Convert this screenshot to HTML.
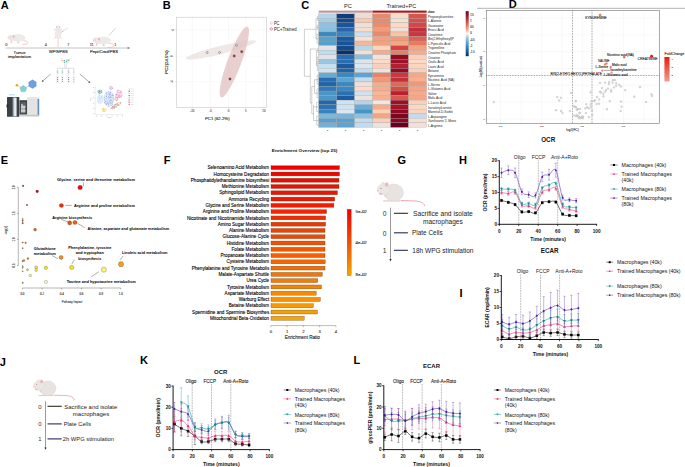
<!DOCTYPE html>
<html><head><meta charset="utf-8"><title>Figure</title>
<style>
html,body{margin:0;padding:0;background:#fff;width:685px;height:467px;overflow:hidden;}
svg{display:block;font-family:"Liberation Sans",sans-serif;}
</style></head><body>
<svg width="685" height="467" viewBox="0 0 685 467" font-family="'Liberation Sans', sans-serif">
<text x="0.8" y="5" font-size="11" font-weight="bold" dominant-baseline="central">A</text>
<line x1="5.8" y1="48" x2="129" y2="48" stroke="#c4c4c4" stroke-width="1"/>
<polygon points="130.2,48 127.6,46.8 127.6,49.2" fill="#888"/>
<text x="6.3" y="44.6" font-size="3.8" text-anchor="middle" fill="#444" stroke="#444" stroke-width="0.1" dominant-baseline="central">0</text>
<text x="45.8" y="44.6" font-size="3.8" text-anchor="middle" fill="#444" stroke="#444" stroke-width="0.1" dominant-baseline="central">4</text>
<text x="68.2" y="44.6" font-size="3.8" text-anchor="middle" fill="#444" stroke="#444" stroke-width="0.1" dominant-baseline="central">7</text>
<text x="91.7" y="44.6" font-size="3.8" text-anchor="middle" fill="#444" stroke="#444" stroke-width="0.1" dominant-baseline="central">11</text>
<text x="115.4" y="44.6" font-size="3.8" text-anchor="middle" fill="#444" stroke="#444" stroke-width="0.1" dominant-baseline="central">1</text>
<text x="19.6" y="52.2" font-size="4.3" text-anchor="middle" fill="#111" textLength="12.2" lengthAdjust="spacingAndGlyphs" stroke="#111" stroke-width="0.1" dominant-baseline="central">Tumor</text>
<text x="19.6" y="56.6" font-size="4.3" text-anchor="middle" fill="#111" textLength="23.2" lengthAdjust="spacingAndGlyphs" stroke="#111" stroke-width="0.1" dominant-baseline="central">implantation</text>
<text x="58.3" y="51.9" font-size="4.3" text-anchor="middle" fill="#111" textLength="18.7" lengthAdjust="spacingAndGlyphs" stroke="#111" stroke-width="0.1" dominant-baseline="central">WPG/PBS</text>
<text x="104" y="51.9" font-size="4.3" text-anchor="middle" fill="#111" textLength="28.2" lengthAdjust="spacingAndGlyphs" stroke="#111" stroke-width="0.1" dominant-baseline="central">PeptiCrad/PBS</text>
<g transform="translate(7.9 37.4) scale(1)">
<path d="M15.5,3.2 C19,3.4 21.2,4.6 19.8,6.0 C18.4,7.2 15.6,7.3 14.2,6.9" fill="none" stroke="#eba5a5" stroke-width="0.55"/>
<line x1="4.2" y1="2.6" x2="3" y2="4.9" stroke="#eba5a5" stroke-width="0.7"/>
<line x1="3" y1="4.9" x2="4.6" y2="5" stroke="#eba5a5" stroke-width="0.5"/>
<line x1="11" y1="3.2" x2="9.6" y2="5.5" stroke="#eba5a5" stroke-width="0.7"/>
<line x1="9.6" y1="5.5" x2="11.6" y2="5.6" stroke="#eba5a5" stroke-width="0.5"/>
<ellipse cx="10.2" cy="0.5" rx="7" ry="3.4" fill="#edebe9" stroke="#dcd8d4" stroke-width="0.25"/>
<ellipse cx="3.5" cy="0.3" rx="3.7" ry="2.5" fill="#edebe9" stroke="#dcd8d4" stroke-width="0.25" transform="rotate(12 3.5 0.3)"/>
<ellipse cx="5.7" cy="-1" rx="1" ry="1.2" fill="#f0b8b8" stroke="#e0a8a8" stroke-width="0.2"/>
<circle cx="2.4" cy="-0.2" r="0.38" fill="#d06060"/>
<circle cx="0.2" cy="0.5" r="0.45" fill="#eaa0a0"/>
</g>
<line x1="58.1" y1="37.5" x2="58.1" y2="47" stroke="#eba5a5" stroke-width="0.55"/>
<line x1="56" y1="30.5" x2="54.1" y2="29.3" stroke="#eba5a5" stroke-width="0.6"/>
<line x1="60.2" y1="30.5" x2="62" y2="29.3" stroke="#eba5a5" stroke-width="0.6"/>
<line x1="56" y1="37" x2="54.5" y2="38.6" stroke="#eba5a5" stroke-width="0.6"/>
<line x1="60.2" y1="37" x2="61.7" y2="38.6" stroke="#eba5a5" stroke-width="0.6"/>
<ellipse cx="58.1" cy="33.8" rx="2.9" ry="4.6" fill="#edebe9" stroke="#dcd8d4" stroke-width="0.25"/>
<ellipse cx="58.1" cy="28.4" rx="2.1" ry="2.3" fill="#edebe9" stroke="#dcd8d4" stroke-width="0.25"/>
<circle cx="56.6" cy="26.8" r="0.7" fill="#f0b8b8"/>
<circle cx="59.6" cy="26.8" r="0.7" fill="#f0b8b8"/>
<line x1="63" y1="31.1" x2="67.9" y2="27.9" stroke="#8a9a9a" stroke-width="0.3"/>
<line x1="61.2" y1="32.4" x2="63.3" y2="31" stroke="#3cc070" stroke-width="0.6"/>
<g transform="translate(93.1 40.1) scale(1.03)">
<path d="M15.5,3.2 C19,3.4 21.2,4.6 19.8,6.0 C18.4,7.2 15.6,7.3 14.2,6.9" fill="none" stroke="#eba5a5" stroke-width="0.55"/>
<line x1="4.2" y1="2.6" x2="3" y2="4.9" stroke="#eba5a5" stroke-width="0.7"/>
<line x1="3" y1="4.9" x2="4.6" y2="5" stroke="#eba5a5" stroke-width="0.5"/>
<line x1="11" y1="3.2" x2="9.6" y2="5.5" stroke="#eba5a5" stroke-width="0.7"/>
<line x1="9.6" y1="5.5" x2="11.6" y2="5.6" stroke="#eba5a5" stroke-width="0.5"/>
<ellipse cx="10.2" cy="0.5" rx="7" ry="3.4" fill="#edebe9" stroke="#dcd8d4" stroke-width="0.25"/>
<ellipse cx="3.5" cy="0.3" rx="3.7" ry="2.5" fill="#edebe9" stroke="#dcd8d4" stroke-width="0.25" transform="rotate(12 3.5 0.3)"/>
<ellipse cx="5.7" cy="-1" rx="1" ry="1.2" fill="#f0b8b8" stroke="#e0a8a8" stroke-width="0.2"/>
<circle cx="2.4" cy="-0.2" r="0.38" fill="#d06060"/>
<circle cx="0.2" cy="0.5" r="0.45" fill="#eaa0a0"/>
</g>
<line x1="108.7" y1="35.8" x2="115.4" y2="28.3" stroke="#7a8a9a" stroke-width="0.35"/>
<path d="M61,58.2 C61.5,61 63.2,62.8 64.6,63.6 L64.6,67.2 M70.2,58.2 C69.7,61 68,62.8 66.6,63.6 L66.6,67.2" fill="none" stroke="#b8bcc0" stroke-width="0.4"/>
<circle cx="62.9" cy="60.4" r="0.7" fill="#f2b070"/>
<circle cx="64.5" cy="60.7" r="0.7" fill="#4aa0e0"/>
<circle cx="66.6" cy="61.6" r="0.7" fill="#9a6ad0"/>
<circle cx="68.4" cy="60.2" r="0.7" fill="#5cc070"/>
<circle cx="64.8" cy="62.4" r="0.7" fill="#5cc070"/>
<circle cx="67" cy="60" r="0.7" fill="#70b8e8"/>
<line x1="65.6" y1="67.2" x2="65.6" y2="68.2" stroke="#aaa" stroke-width="0.35"/>
<line x1="57.3" y1="68.2" x2="73.9" y2="68.2" stroke="#b0b0b0" stroke-width="0.4"/>
<line x1="57.5" y1="68.2" x2="57.5" y2="70.1" stroke="#aaa" stroke-width="0.35"/>
<rect x="56.75" y="70.1" width="1.5" height="13.2" fill="#f3f6f9" stroke="#dde2e8" stroke-width="0.2"/>
<rect x="56.9" y="70.7" width="1.2" height="2.5" fill="#4aa0e0" fill-opacity="0.45"/>
<circle cx="57.5" cy="77.5" r="0.6" fill="#4aa0e0"/>
<circle cx="57.5" cy="79.4" r="0.6" fill="#4aa0e0"/>
<circle cx="57.5" cy="81.3" r="0.6" fill="#4aa0e0"/>
<line x1="62.4" y1="68.2" x2="62.4" y2="70.1" stroke="#aaa" stroke-width="0.35"/>
<rect x="61.65" y="70.1" width="1.5" height="13.2" fill="#f3f6f9" stroke="#dde2e8" stroke-width="0.2"/>
<rect x="61.8" y="70.7" width="1.2" height="2.5" fill="#5cc070" fill-opacity="0.45"/>
<circle cx="62.4" cy="77.5" r="0.6" fill="#5cc070"/>
<circle cx="62.4" cy="79.4" r="0.6" fill="#5cc070"/>
<circle cx="62.4" cy="81.3" r="0.6" fill="#5cc070"/>
<line x1="68.6" y1="68.2" x2="68.6" y2="70.1" stroke="#aaa" stroke-width="0.35"/>
<rect x="67.85" y="70.1" width="1.5" height="13.2" fill="#f3f6f9" stroke="#dde2e8" stroke-width="0.2"/>
<rect x="68" y="70.7" width="1.2" height="2.5" fill="#9a6ad0" fill-opacity="0.45"/>
<circle cx="68.6" cy="77.5" r="0.6" fill="#9a6ad0"/>
<circle cx="68.6" cy="79.4" r="0.6" fill="#9a6ad0"/>
<circle cx="68.6" cy="81.3" r="0.6" fill="#9a6ad0"/>
<line x1="73.8" y1="68.2" x2="73.8" y2="70.1" stroke="#aaa" stroke-width="0.35"/>
<rect x="73.05" y="70.1" width="1.5" height="13.2" fill="#f3f6f9" stroke="#dde2e8" stroke-width="0.2"/>
<rect x="73.2" y="70.7" width="1.2" height="2.5" fill="#f2b070" fill-opacity="0.45"/>
<circle cx="73.8" cy="77.5" r="0.6" fill="#f2b070"/>
<circle cx="73.8" cy="79.4" r="0.6" fill="#f2b070"/>
<circle cx="73.8" cy="81.3" r="0.6" fill="#f2b070"/>
<line x1="50.7" y1="74" x2="42.8" y2="81" stroke="#444" stroke-width="0.45"/>
<polygon points="41.8,82 42.4,79.9 43.8,81.3" fill="#444"/>
<line x1="79.8" y1="74" x2="89.3" y2="82" stroke="#444" stroke-width="0.45"/>
<polygon points="90.3,82.9 88.2,82.4 89.6,80.9" fill="#444"/>
<line x1="17" y1="85.2" x2="23.3" y2="88.7" stroke="#999" stroke-width="0.4"/>
<line x1="23.3" y1="88.7" x2="32.4" y2="84.2" stroke="#999" stroke-width="0.4"/>
<polygon points="23.3,85.3 26.72,87.79 25.42,91.81 21.18,91.81 19.88,87.79" fill="#86d0d3" stroke="#6ab8bc" stroke-width="0.3"/>
<polygon points="32.5,79.8 36.22,81.95 36.22,86.25 32.5,88.4 28.78,86.25 28.78,81.95" fill="#6f9fe0" stroke="#5a88cc" stroke-width="0.3"/>
<circle cx="16.9" cy="85.2" r="1.3" fill="#e8a030"/>
<rect x="9.2" y="94.2" width="5.8" height="1.2" fill="#bfe0f0"/>
<rect x="7" y="97" width="12.3" height="19.8" fill="#3b4046" rx="0.6"/>
<rect x="12.8" y="97.6" width="3.8" height="18.8" fill="#e8ecef"/>
<rect x="13.3" y="97.6" width="0.8" height="18.8" fill="#6b9ad0"/>
<rect x="6.5" y="104.5" width="2" height="3" fill="#2a2e33"/>
<rect x="19.5" y="100.2" width="7.8" height="14.4" fill="#3e4349"/>
<rect x="20.6" y="102.2" width="5.6" height="11.2" fill="#5a6066"/>
<rect x="21.4" y="104" width="1.2" height="8.5" fill="#e8eaec"/>
<rect x="23.4" y="105.5" width="1.2" height="7" fill="#e8eaec"/>
<rect x="21" y="106.5" width="4.6" height="0.8" fill="#f4f4f4"/>
<rect x="21" y="110.5" width="4.6" height="0.8" fill="#f4f4f4"/>
<rect x="27.3" y="97.5" width="11.8" height="18.7" fill="#e4e3e2" stroke="#cfcfcf" stroke-width="0.2"/>
<rect x="37.6" y="99" width="1.5" height="16.5" fill="#5a8ad0"/>
<rect x="19.3" y="114.8" width="19.8" height="1.6" fill="#c9c9c9"/>
<line x1="95.3" y1="86.3" x2="95.3" y2="114.6" stroke="#c8c8c8" stroke-width="0.3"/>
<line x1="95.3" y1="114.6" x2="123.2" y2="114.6" stroke="#c8c8c8" stroke-width="0.3"/>
<line x1="94.6" y1="87.5" x2="95.3" y2="87.5" stroke="#aaa" stroke-width="0.25"/>
<rect x="93" y="87.2" width="1" height="0.6" fill="#bbb"/>
<line x1="96.5" y1="114.6" x2="96.5" y2="115.3" stroke="#aaa" stroke-width="0.25"/>
<rect x="96" y="115.8" width="1" height="0.6" fill="#bbb"/>
<line x1="94.6" y1="92.7" x2="95.3" y2="92.7" stroke="#aaa" stroke-width="0.25"/>
<rect x="93" y="92.4" width="1" height="0.6" fill="#bbb"/>
<line x1="101.7" y1="114.6" x2="101.7" y2="115.3" stroke="#aaa" stroke-width="0.25"/>
<rect x="101.2" y="115.8" width="1" height="0.6" fill="#bbb"/>
<line x1="94.6" y1="97.9" x2="95.3" y2="97.9" stroke="#aaa" stroke-width="0.25"/>
<rect x="93" y="97.6" width="1" height="0.6" fill="#bbb"/>
<line x1="106.9" y1="114.6" x2="106.9" y2="115.3" stroke="#aaa" stroke-width="0.25"/>
<rect x="106.4" y="115.8" width="1" height="0.6" fill="#bbb"/>
<line x1="94.6" y1="103.1" x2="95.3" y2="103.1" stroke="#aaa" stroke-width="0.25"/>
<rect x="93" y="102.8" width="1" height="0.6" fill="#bbb"/>
<line x1="112.1" y1="114.6" x2="112.1" y2="115.3" stroke="#aaa" stroke-width="0.25"/>
<rect x="111.6" y="115.8" width="1" height="0.6" fill="#bbb"/>
<line x1="94.6" y1="108.3" x2="95.3" y2="108.3" stroke="#aaa" stroke-width="0.25"/>
<rect x="93" y="108" width="1" height="0.6" fill="#bbb"/>
<line x1="117.3" y1="114.6" x2="117.3" y2="115.3" stroke="#aaa" stroke-width="0.25"/>
<rect x="116.8" y="115.8" width="1" height="0.6" fill="#bbb"/>
<line x1="94.6" y1="113.5" x2="95.3" y2="113.5" stroke="#aaa" stroke-width="0.25"/>
<rect x="93" y="113.2" width="1" height="0.6" fill="#bbb"/>
<line x1="122.5" y1="114.6" x2="122.5" y2="115.3" stroke="#aaa" stroke-width="0.25"/>
<rect x="122" y="115.8" width="1" height="0.6" fill="#bbb"/>
<rect x="90.6" y="97.5" width="0.6" height="3.5" fill="#c4c4c4"/>
<rect x="107.5" y="117.3" width="3.5" height="0.6" fill="#c4c4c4"/>
<ellipse cx="100.2" cy="99.5" rx="3.1" ry="4.6" fill="#e6f2fb"/>
<circle cx="100.37" cy="102.88" r="0.4" fill="#a8d2f0" fill-opacity="0.8"/>
<circle cx="98.55" cy="102.11" r="0.4" fill="#a8d2f0" fill-opacity="0.8"/>
<circle cx="99.64" cy="98.66" r="0.4" fill="#a8d2f0" fill-opacity="0.8"/>
<circle cx="103.03" cy="99.85" r="0.4" fill="#a8d2f0" fill-opacity="0.8"/>
<circle cx="100.11" cy="101.72" r="0.4" fill="#a8d2f0" fill-opacity="0.8"/>
<circle cx="102.33" cy="99.41" r="0.4" fill="#a8d2f0" fill-opacity="0.8"/>
<circle cx="101.31" cy="96.78" r="0.4" fill="#a8d2f0" fill-opacity="0.8"/>
<circle cx="99.43" cy="98.13" r="0.4" fill="#a8d2f0" fill-opacity="0.8"/>
<circle cx="98.29" cy="96.29" r="0.4" fill="#a8d2f0" fill-opacity="0.8"/>
<circle cx="97.56" cy="98.93" r="0.4" fill="#a8d2f0" fill-opacity="0.8"/>
<circle cx="99.83" cy="98.48" r="0.4" fill="#a8d2f0" fill-opacity="0.8"/>
<circle cx="100.32" cy="95.97" r="0.4" fill="#a8d2f0" fill-opacity="0.8"/>
<circle cx="100.03" cy="100.27" r="0.4" fill="#a8d2f0" fill-opacity="0.8"/>
<circle cx="101.61" cy="97.13" r="0.4" fill="#a8d2f0" fill-opacity="0.8"/>
<circle cx="99.63" cy="95.27" r="0.4" fill="#a8d2f0" fill-opacity="0.8"/>
<circle cx="99.54" cy="95.2" r="0.4" fill="#a8d2f0" fill-opacity="0.8"/>
<circle cx="98.01" cy="102.02" r="0.4" fill="#a8d2f0" fill-opacity="0.8"/>
<circle cx="97.38" cy="101.02" r="0.4" fill="#a8d2f0" fill-opacity="0.8"/>
<circle cx="100.9" cy="98.51" r="0.4" fill="#a8d2f0" fill-opacity="0.8"/>
<circle cx="101.15" cy="101.12" r="0.4" fill="#a8d2f0" fill-opacity="0.8"/>
<circle cx="102.2" cy="98.85" r="0.4" fill="#a8d2f0" fill-opacity="0.8"/>
<circle cx="99.01" cy="97.7" r="0.4" fill="#a8d2f0" fill-opacity="0.8"/>
<circle cx="98.28" cy="99.37" r="0.4" fill="#a8d2f0" fill-opacity="0.8"/>
<circle cx="98.8" cy="102.33" r="0.4" fill="#a8d2f0" fill-opacity="0.8"/>
<circle cx="97.66" cy="97.29" r="0.4" fill="#a8d2f0" fill-opacity="0.8"/>
<circle cx="98.96" cy="95.47" r="0.4" fill="#a8d2f0" fill-opacity="0.8"/>
<circle cx="102.11" cy="95.91" r="0.4" fill="#a8d2f0" fill-opacity="0.8"/>
<circle cx="99.61" cy="97.86" r="0.4" fill="#a8d2f0" fill-opacity="0.8"/>
<circle cx="102.15" cy="96.03" r="0.4" fill="#a8d2f0" fill-opacity="0.8"/>
<circle cx="102.13" cy="97.54" r="0.4" fill="#a8d2f0" fill-opacity="0.8"/>
<circle cx="99.88" cy="97.44" r="0.4" fill="#a8d2f0" fill-opacity="0.8"/>
<circle cx="101.35" cy="96.46" r="0.4" fill="#a8d2f0" fill-opacity="0.8"/>
<circle cx="100.03" cy="100.63" r="0.4" fill="#a8d2f0" fill-opacity="0.8"/>
<circle cx="102.07" cy="95.87" r="0.4" fill="#a8d2f0" fill-opacity="0.8"/>
<ellipse cx="100" cy="91.7" rx="2.3" ry="2.3" fill="#c4e4da"/>
<circle cx="101.75" cy="92.79" r="0.4" fill="#2f9a7e" fill-opacity="0.8"/>
<circle cx="99.24" cy="92.18" r="0.4" fill="#2f9a7e" fill-opacity="0.8"/>
<circle cx="99.45" cy="93.64" r="0.4" fill="#2f9a7e" fill-opacity="0.8"/>
<circle cx="100.34" cy="91.35" r="0.4" fill="#2f9a7e" fill-opacity="0.8"/>
<circle cx="99.63" cy="91.38" r="0.4" fill="#2f9a7e" fill-opacity="0.8"/>
<circle cx="99.74" cy="90.4" r="0.4" fill="#2f9a7e" fill-opacity="0.8"/>
<circle cx="101.67" cy="90.15" r="0.4" fill="#2f9a7e" fill-opacity="0.8"/>
<circle cx="97.7" cy="91.62" r="0.4" fill="#2f9a7e" fill-opacity="0.8"/>
<circle cx="99.77" cy="92.29" r="0.4" fill="#2f9a7e" fill-opacity="0.8"/>
<circle cx="99.67" cy="91.46" r="0.4" fill="#2f9a7e" fill-opacity="0.8"/>
<circle cx="100.48" cy="93.09" r="0.4" fill="#2f9a7e" fill-opacity="0.8"/>
<circle cx="99.3" cy="91.12" r="0.4" fill="#2f9a7e" fill-opacity="0.8"/>
<circle cx="102.07" cy="92.26" r="0.4" fill="#2f9a7e" fill-opacity="0.8"/>
<circle cx="99.12" cy="93.77" r="0.4" fill="#2f9a7e" fill-opacity="0.8"/>
<circle cx="101.13" cy="90.85" r="0.4" fill="#2f9a7e" fill-opacity="0.8"/>
<circle cx="98.39" cy="92.11" r="0.4" fill="#2f9a7e" fill-opacity="0.8"/>
<circle cx="98.9" cy="90.31" r="0.4" fill="#2f9a7e" fill-opacity="0.8"/>
<circle cx="98.31" cy="91.04" r="0.4" fill="#2f9a7e" fill-opacity="0.8"/>
<circle cx="101.53" cy="91.1" r="0.4" fill="#2f9a7e" fill-opacity="0.8"/>
<circle cx="98.23" cy="92.52" r="0.4" fill="#2f9a7e" fill-opacity="0.8"/>
<ellipse cx="104.2" cy="110" rx="2.5" ry="2.2" fill="#fbefc4"/>
<circle cx="104.31" cy="111.2" r="0.4" fill="#f0c840" fill-opacity="0.8"/>
<circle cx="105.99" cy="109.78" r="0.4" fill="#f0c840" fill-opacity="0.8"/>
<circle cx="103.94" cy="109.93" r="0.4" fill="#f0c840" fill-opacity="0.8"/>
<circle cx="102.56" cy="110.85" r="0.4" fill="#f0c840" fill-opacity="0.8"/>
<circle cx="106.15" cy="110.22" r="0.4" fill="#f0c840" fill-opacity="0.8"/>
<circle cx="103.79" cy="109.6" r="0.4" fill="#f0c840" fill-opacity="0.8"/>
<circle cx="103.01" cy="108.92" r="0.4" fill="#f0c840" fill-opacity="0.8"/>
<circle cx="103.56" cy="108.82" r="0.4" fill="#f0c840" fill-opacity="0.8"/>
<circle cx="103.63" cy="108.18" r="0.4" fill="#f0c840" fill-opacity="0.8"/>
<circle cx="104.81" cy="110.08" r="0.4" fill="#f0c840" fill-opacity="0.8"/>
<circle cx="103.1" cy="108.07" r="0.4" fill="#f0c840" fill-opacity="0.8"/>
<circle cx="104.19" cy="111.49" r="0.4" fill="#f0c840" fill-opacity="0.8"/>
<circle cx="103.02" cy="109.32" r="0.4" fill="#f0c840" fill-opacity="0.8"/>
<circle cx="103.28" cy="110.93" r="0.4" fill="#f0c840" fill-opacity="0.8"/>
<circle cx="102.89" cy="111.24" r="0.4" fill="#f0c840" fill-opacity="0.8"/>
<circle cx="103.72" cy="111.28" r="0.4" fill="#f0c840" fill-opacity="0.8"/>
<circle cx="104.26" cy="109.64" r="0.4" fill="#f0c840" fill-opacity="0.8"/>
<circle cx="102.26" cy="109.2" r="0.4" fill="#f0c840" fill-opacity="0.8"/>
<ellipse cx="108.9" cy="99" rx="5.4" ry="8" fill="#e2e9f6"/>
<circle cx="107.96" cy="102.51" r="0.4" fill="#7a98d4" fill-opacity="0.8"/>
<circle cx="109.78" cy="95.31" r="0.4" fill="#7a98d4" fill-opacity="0.8"/>
<circle cx="110.27" cy="103.87" r="0.4" fill="#7a98d4" fill-opacity="0.8"/>
<circle cx="108.35" cy="96.58" r="0.4" fill="#7a98d4" fill-opacity="0.8"/>
<circle cx="107.54" cy="103.16" r="0.4" fill="#7a98d4" fill-opacity="0.8"/>
<circle cx="110.69" cy="94.42" r="0.4" fill="#7a98d4" fill-opacity="0.8"/>
<circle cx="110.27" cy="96.41" r="0.4" fill="#7a98d4" fill-opacity="0.8"/>
<circle cx="106.64" cy="104.52" r="0.4" fill="#7a98d4" fill-opacity="0.8"/>
<circle cx="111.62" cy="95.44" r="0.4" fill="#7a98d4" fill-opacity="0.8"/>
<circle cx="109.19" cy="101.75" r="0.4" fill="#7a98d4" fill-opacity="0.8"/>
<circle cx="106.58" cy="98.35" r="0.4" fill="#7a98d4" fill-opacity="0.8"/>
<circle cx="110.63" cy="92.14" r="0.4" fill="#7a98d4" fill-opacity="0.8"/>
<circle cx="110.06" cy="102.86" r="0.4" fill="#7a98d4" fill-opacity="0.8"/>
<circle cx="110.42" cy="93" r="0.4" fill="#7a98d4" fill-opacity="0.8"/>
<circle cx="110" cy="94.59" r="0.4" fill="#7a98d4" fill-opacity="0.8"/>
<circle cx="110.9" cy="102.15" r="0.4" fill="#7a98d4" fill-opacity="0.8"/>
<circle cx="109.67" cy="94.99" r="0.4" fill="#7a98d4" fill-opacity="0.8"/>
<circle cx="106.92" cy="103.25" r="0.4" fill="#7a98d4" fill-opacity="0.8"/>
<circle cx="105.87" cy="101.47" r="0.4" fill="#7a98d4" fill-opacity="0.8"/>
<circle cx="110.77" cy="97.49" r="0.4" fill="#7a98d4" fill-opacity="0.8"/>
<circle cx="114.14" cy="99.23" r="0.4" fill="#7a98d4" fill-opacity="0.8"/>
<circle cx="112.81" cy="93.56" r="0.4" fill="#7a98d4" fill-opacity="0.8"/>
<circle cx="104.08" cy="102.13" r="0.4" fill="#7a98d4" fill-opacity="0.8"/>
<circle cx="111.18" cy="97.34" r="0.4" fill="#7a98d4" fill-opacity="0.8"/>
<circle cx="108.76" cy="91.69" r="0.4" fill="#7a98d4" fill-opacity="0.8"/>
<circle cx="106.88" cy="94.08" r="0.4" fill="#7a98d4" fill-opacity="0.8"/>
<circle cx="108.13" cy="103.53" r="0.4" fill="#7a98d4" fill-opacity="0.8"/>
<circle cx="109.1" cy="101.07" r="0.4" fill="#7a98d4" fill-opacity="0.8"/>
<circle cx="106.44" cy="96.73" r="0.4" fill="#7a98d4" fill-opacity="0.8"/>
<circle cx="109.32" cy="97.42" r="0.4" fill="#7a98d4" fill-opacity="0.8"/>
<circle cx="112.6" cy="95.21" r="0.4" fill="#7a98d4" fill-opacity="0.8"/>
<circle cx="113.44" cy="95.51" r="0.4" fill="#7a98d4" fill-opacity="0.8"/>
<circle cx="112.21" cy="95.42" r="0.4" fill="#7a98d4" fill-opacity="0.8"/>
<circle cx="113.55" cy="99.57" r="0.4" fill="#7a98d4" fill-opacity="0.8"/>
<circle cx="110.29" cy="102.86" r="0.4" fill="#7a98d4" fill-opacity="0.8"/>
<circle cx="106.86" cy="94.05" r="0.4" fill="#7a98d4" fill-opacity="0.8"/>
<circle cx="104.42" cy="103" r="0.4" fill="#7a98d4" fill-opacity="0.8"/>
<circle cx="106.5" cy="95.97" r="0.4" fill="#7a98d4" fill-opacity="0.8"/>
<circle cx="108.82" cy="106.43" r="0.4" fill="#7a98d4" fill-opacity="0.8"/>
<circle cx="104.17" cy="100.01" r="0.4" fill="#7a98d4" fill-opacity="0.8"/>
<circle cx="107.47" cy="101.85" r="0.4" fill="#7a98d4" fill-opacity="0.8"/>
<circle cx="104.13" cy="97.44" r="0.4" fill="#7a98d4" fill-opacity="0.8"/>
<circle cx="111.18" cy="105.27" r="0.4" fill="#7a98d4" fill-opacity="0.8"/>
<circle cx="113.17" cy="95.61" r="0.4" fill="#7a98d4" fill-opacity="0.8"/>
<circle cx="109.11" cy="98.38" r="0.4" fill="#7a98d4" fill-opacity="0.8"/>
<circle cx="105.44" cy="93.63" r="0.4" fill="#7a98d4" fill-opacity="0.8"/>
<circle cx="111.58" cy="100.29" r="0.4" fill="#7a98d4" fill-opacity="0.8"/>
<circle cx="108.44" cy="104.77" r="0.4" fill="#7a98d4" fill-opacity="0.8"/>
<circle cx="105.61" cy="101.56" r="0.4" fill="#7a98d4" fill-opacity="0.8"/>
<circle cx="108.94" cy="98.66" r="0.4" fill="#7a98d4" fill-opacity="0.8"/>
<circle cx="110.71" cy="99.96" r="0.4" fill="#7a98d4" fill-opacity="0.8"/>
<circle cx="109.9" cy="100.48" r="0.4" fill="#7a98d4" fill-opacity="0.8"/>
<circle cx="113.83" cy="97.83" r="0.4" fill="#7a98d4" fill-opacity="0.8"/>
<circle cx="112.18" cy="101.92" r="0.4" fill="#7a98d4" fill-opacity="0.8"/>
<circle cx="107.68" cy="103.11" r="0.4" fill="#7a98d4" fill-opacity="0.8"/>
<circle cx="106.32" cy="104.17" r="0.4" fill="#7a98d4" fill-opacity="0.8"/>
<circle cx="106.12" cy="96.51" r="0.4" fill="#7a98d4" fill-opacity="0.8"/>
<circle cx="110.02" cy="103.28" r="0.4" fill="#7a98d4" fill-opacity="0.8"/>
<circle cx="111.77" cy="103.18" r="0.4" fill="#7a98d4" fill-opacity="0.8"/>
<circle cx="108.19" cy="94.18" r="0.4" fill="#7a98d4" fill-opacity="0.8"/>
<circle cx="110.9" cy="100.63" r="0.4" fill="#7a98d4" fill-opacity="0.8"/>
<circle cx="105.96" cy="103.45" r="0.4" fill="#7a98d4" fill-opacity="0.8"/>
<circle cx="109.58" cy="94.17" r="0.4" fill="#7a98d4" fill-opacity="0.8"/>
<circle cx="110.25" cy="93.01" r="0.4" fill="#7a98d4" fill-opacity="0.8"/>
<circle cx="105.9" cy="101.03" r="0.4" fill="#7a98d4" fill-opacity="0.8"/>
<circle cx="104.37" cy="99.16" r="0.4" fill="#7a98d4" fill-opacity="0.8"/>
<circle cx="104.95" cy="102.19" r="0.4" fill="#7a98d4" fill-opacity="0.8"/>
<circle cx="106.31" cy="99.96" r="0.4" fill="#7a98d4" fill-opacity="0.8"/>
<circle cx="104.51" cy="97.51" r="0.4" fill="#7a98d4" fill-opacity="0.8"/>
<circle cx="112.07" cy="101.27" r="0.4" fill="#7a98d4" fill-opacity="0.8"/>
<circle cx="104.38" cy="102.37" r="0.4" fill="#7a98d4" fill-opacity="0.8"/>
<circle cx="111.94" cy="97.1" r="0.4" fill="#7a98d4" fill-opacity="0.8"/>
<circle cx="112.75" cy="94.74" r="0.4" fill="#7a98d4" fill-opacity="0.8"/>
<circle cx="108.62" cy="104.43" r="0.4" fill="#7a98d4" fill-opacity="0.8"/>
<circle cx="112.38" cy="104.04" r="0.4" fill="#7a98d4" fill-opacity="0.8"/>
<circle cx="106.24" cy="92.58" r="0.4" fill="#7a98d4" fill-opacity="0.8"/>
<circle cx="110.06" cy="92.69" r="0.4" fill="#7a98d4" fill-opacity="0.8"/>
<circle cx="108.49" cy="93.02" r="0.4" fill="#7a98d4" fill-opacity="0.8"/>
<circle cx="112.2" cy="102.7" r="0.4" fill="#7a98d4" fill-opacity="0.8"/>
<circle cx="110.94" cy="99.09" r="0.4" fill="#7a98d4" fill-opacity="0.8"/>
<circle cx="109.07" cy="97.34" r="0.4" fill="#7a98d4" fill-opacity="0.8"/>
<circle cx="110.33" cy="100.37" r="0.4" fill="#7a98d4" fill-opacity="0.8"/>
<circle cx="110.57" cy="96.69" r="0.4" fill="#7a98d4" fill-opacity="0.8"/>
<circle cx="113.8" cy="100.08" r="0.4" fill="#7a98d4" fill-opacity="0.8"/>
<circle cx="112.49" cy="104.07" r="0.4" fill="#7a98d4" fill-opacity="0.8"/>
<circle cx="106.62" cy="92.51" r="0.4" fill="#7a98d4" fill-opacity="0.8"/>
<circle cx="112.83" cy="97.21" r="0.4" fill="#7a98d4" fill-opacity="0.8"/>
<circle cx="109.21" cy="97.55" r="0.4" fill="#7a98d4" fill-opacity="0.8"/>
<circle cx="109.32" cy="93.31" r="0.4" fill="#7a98d4" fill-opacity="0.8"/>
<circle cx="108.52" cy="96.45" r="0.4" fill="#7a98d4" fill-opacity="0.8"/>
<ellipse cx="111" cy="88" rx="2.4" ry="1.8" fill="#ece4f6"/>
<circle cx="110.98" cy="86.26" r="0.4" fill="#a890d0" fill-opacity="0.8"/>
<circle cx="112.27" cy="88.38" r="0.4" fill="#a890d0" fill-opacity="0.8"/>
<circle cx="108.99" cy="87.36" r="0.4" fill="#a890d0" fill-opacity="0.8"/>
<circle cx="111.05" cy="88.76" r="0.4" fill="#a890d0" fill-opacity="0.8"/>
<circle cx="111" cy="89.41" r="0.4" fill="#a890d0" fill-opacity="0.8"/>
<circle cx="111.03" cy="86.87" r="0.4" fill="#a890d0" fill-opacity="0.8"/>
<circle cx="109.98" cy="88.84" r="0.4" fill="#a890d0" fill-opacity="0.8"/>
<circle cx="110.09" cy="88.94" r="0.4" fill="#a890d0" fill-opacity="0.8"/>
<circle cx="112.47" cy="88.64" r="0.4" fill="#a890d0" fill-opacity="0.8"/>
<circle cx="112.52" cy="87.81" r="0.4" fill="#a890d0" fill-opacity="0.8"/>
<circle cx="110.98" cy="87.28" r="0.4" fill="#a890d0" fill-opacity="0.8"/>
<circle cx="110.24" cy="86.54" r="0.4" fill="#a890d0" fill-opacity="0.8"/>
<ellipse cx="119.1" cy="93.9" rx="3.5" ry="4" fill="#f8e0f0"/>
<circle cx="117.94" cy="91.35" r="0.4" fill="#e070c0" fill-opacity="0.8"/>
<circle cx="116.31" cy="94.23" r="0.4" fill="#e070c0" fill-opacity="0.8"/>
<circle cx="120.18" cy="92.97" r="0.4" fill="#e070c0" fill-opacity="0.8"/>
<circle cx="121.59" cy="95.86" r="0.4" fill="#e070c0" fill-opacity="0.8"/>
<circle cx="121.28" cy="92.46" r="0.4" fill="#e070c0" fill-opacity="0.8"/>
<circle cx="116.32" cy="95.09" r="0.4" fill="#e070c0" fill-opacity="0.8"/>
<circle cx="119.81" cy="95.8" r="0.4" fill="#e070c0" fill-opacity="0.8"/>
<circle cx="119.94" cy="96.81" r="0.4" fill="#e070c0" fill-opacity="0.8"/>
<circle cx="118.43" cy="95.67" r="0.4" fill="#e070c0" fill-opacity="0.8"/>
<circle cx="117.86" cy="90.26" r="0.4" fill="#e070c0" fill-opacity="0.8"/>
<circle cx="118.26" cy="97.12" r="0.4" fill="#e070c0" fill-opacity="0.8"/>
<circle cx="116.34" cy="95.82" r="0.4" fill="#e070c0" fill-opacity="0.8"/>
<circle cx="117.54" cy="92.85" r="0.4" fill="#e070c0" fill-opacity="0.8"/>
<circle cx="119.21" cy="94.5" r="0.4" fill="#e070c0" fill-opacity="0.8"/>
<circle cx="116.95" cy="94.22" r="0.4" fill="#e070c0" fill-opacity="0.8"/>
<circle cx="120.09" cy="96.02" r="0.4" fill="#e070c0" fill-opacity="0.8"/>
<circle cx="117.75" cy="97.07" r="0.4" fill="#e070c0" fill-opacity="0.8"/>
<circle cx="121.26" cy="97.03" r="0.4" fill="#e070c0" fill-opacity="0.8"/>
<circle cx="116.41" cy="94.3" r="0.4" fill="#e070c0" fill-opacity="0.8"/>
<circle cx="115.97" cy="94.63" r="0.4" fill="#e070c0" fill-opacity="0.8"/>
<circle cx="120.24" cy="91.21" r="0.4" fill="#e070c0" fill-opacity="0.8"/>
<circle cx="116.15" cy="94.3" r="0.4" fill="#e070c0" fill-opacity="0.8"/>
<circle cx="120.48" cy="91.92" r="0.4" fill="#e070c0" fill-opacity="0.8"/>
<circle cx="118.75" cy="90" r="0.4" fill="#e070c0" fill-opacity="0.8"/>
<circle cx="117.46" cy="94.29" r="0.4" fill="#e070c0" fill-opacity="0.8"/>
<circle cx="119.38" cy="97.27" r="0.4" fill="#e070c0" fill-opacity="0.8"/>
<circle cx="117.55" cy="90.41" r="0.4" fill="#e070c0" fill-opacity="0.8"/>
<circle cx="120.15" cy="92.34" r="0.4" fill="#e070c0" fill-opacity="0.8"/>
<circle cx="119.76" cy="95.79" r="0.4" fill="#e070c0" fill-opacity="0.8"/>
<circle cx="120.23" cy="97" r="0.4" fill="#e070c0" fill-opacity="0.8"/>
<circle cx="121.19" cy="90.96" r="0.4" fill="#e070c0" fill-opacity="0.8"/>
<circle cx="119" cy="97.62" r="0.4" fill="#e070c0" fill-opacity="0.8"/>
<circle cx="118.22" cy="96.3" r="0.4" fill="#e070c0" fill-opacity="0.8"/>
<circle cx="118.96" cy="92.74" r="0.4" fill="#e070c0" fill-opacity="0.8"/>
<circle cx="121.77" cy="95.91" r="0.4" fill="#e070c0" fill-opacity="0.8"/>
<circle cx="118.56" cy="96.21" r="0.4" fill="#e070c0" fill-opacity="0.8"/>
<ellipse cx="116.6" cy="98" rx="1.7" ry="3" fill="#f6dcdc"/>
<circle cx="115.38" cy="96.81" r="0.4" fill="#e07070" fill-opacity="0.8"/>
<circle cx="117.58" cy="98.08" r="0.4" fill="#e07070" fill-opacity="0.8"/>
<circle cx="115.51" cy="98.82" r="0.4" fill="#e07070" fill-opacity="0.8"/>
<circle cx="116.92" cy="100.22" r="0.4" fill="#e07070" fill-opacity="0.8"/>
<circle cx="117.62" cy="97.48" r="0.4" fill="#e07070" fill-opacity="0.8"/>
<circle cx="116.04" cy="97.72" r="0.4" fill="#e07070" fill-opacity="0.8"/>
<circle cx="116.39" cy="100.42" r="0.4" fill="#e07070" fill-opacity="0.8"/>
<circle cx="117.82" cy="99.84" r="0.4" fill="#e07070" fill-opacity="0.8"/>
<circle cx="117.04" cy="97.49" r="0.4" fill="#e07070" fill-opacity="0.8"/>
<circle cx="117.57" cy="97.34" r="0.4" fill="#e07070" fill-opacity="0.8"/>
<circle cx="116.81" cy="95.42" r="0.4" fill="#e07070" fill-opacity="0.8"/>
<circle cx="116.21" cy="100.37" r="0.4" fill="#e07070" fill-opacity="0.8"/>
<ellipse cx="116" cy="105.6" rx="6.6" ry="1.9" fill="#f0e4e0" transform="rotate(-32 116 105.6)"/>
<circle cx="112.41" cy="106.19" r="0.4" fill="#b07a6a" fill-opacity="0.8"/>
<circle cx="116.39" cy="107.29" r="0.4" fill="#b07a6a" fill-opacity="0.8"/>
<circle cx="120.26" cy="102.5" r="0.4" fill="#b07a6a" fill-opacity="0.8"/>
<circle cx="114.09" cy="106.62" r="0.4" fill="#b07a6a" fill-opacity="0.8"/>
<circle cx="112.7" cy="107.71" r="0.4" fill="#b07a6a" fill-opacity="0.8"/>
<circle cx="114.27" cy="104.87" r="0.4" fill="#b07a6a" fill-opacity="0.8"/>
<circle cx="113.64" cy="106.69" r="0.4" fill="#b07a6a" fill-opacity="0.8"/>
<circle cx="112.66" cy="106.28" r="0.4" fill="#b07a6a" fill-opacity="0.8"/>
<circle cx="119.13" cy="105.55" r="0.4" fill="#b07a6a" fill-opacity="0.8"/>
<circle cx="114.61" cy="105.82" r="0.4" fill="#b07a6a" fill-opacity="0.8"/>
<circle cx="117.76" cy="104.15" r="0.4" fill="#b07a6a" fill-opacity="0.8"/>
<circle cx="114.42" cy="108.25" r="0.4" fill="#b07a6a" fill-opacity="0.8"/>
<circle cx="112.16" cy="107.04" r="0.4" fill="#b07a6a" fill-opacity="0.8"/>
<circle cx="113.18" cy="106.15" r="0.4" fill="#b07a6a" fill-opacity="0.8"/>
<circle cx="115.49" cy="106.79" r="0.4" fill="#b07a6a" fill-opacity="0.8"/>
<circle cx="120.66" cy="103.48" r="0.4" fill="#b07a6a" fill-opacity="0.8"/>
<circle cx="115.37" cy="104.34" r="0.4" fill="#b07a6a" fill-opacity="0.8"/>
<circle cx="115.18" cy="104.77" r="0.4" fill="#b07a6a" fill-opacity="0.8"/>
<circle cx="116.28" cy="106.81" r="0.4" fill="#b07a6a" fill-opacity="0.8"/>
<circle cx="116.65" cy="104.86" r="0.4" fill="#b07a6a" fill-opacity="0.8"/>
<circle cx="113.2" cy="107.31" r="0.4" fill="#b07a6a" fill-opacity="0.8"/>
<circle cx="115.8" cy="104.4" r="0.4" fill="#b07a6a" fill-opacity="0.8"/>
<circle cx="114.79" cy="107.59" r="0.4" fill="#b07a6a" fill-opacity="0.8"/>
<circle cx="111.02" cy="108.2" r="0.4" fill="#b07a6a" fill-opacity="0.8"/>
<circle cx="113.64" cy="108.72" r="0.4" fill="#b07a6a" fill-opacity="0.8"/>
<circle cx="118.56" cy="104.76" r="0.4" fill="#b07a6a" fill-opacity="0.8"/>
<circle cx="117.72" cy="104.97" r="0.4" fill="#b07a6a" fill-opacity="0.8"/>
<circle cx="116.02" cy="103.71" r="0.4" fill="#b07a6a" fill-opacity="0.8"/>
<circle cx="117.37" cy="105.64" r="0.4" fill="#b07a6a" fill-opacity="0.8"/>
<circle cx="112.26" cy="108.91" r="0.4" fill="#b07a6a" fill-opacity="0.8"/>
<circle cx="117.15" cy="103.11" r="0.4" fill="#b07a6a" fill-opacity="0.8"/>
<circle cx="113.99" cy="106.38" r="0.4" fill="#b07a6a" fill-opacity="0.8"/>
<circle cx="114.29" cy="107.26" r="0.4" fill="#b07a6a" fill-opacity="0.8"/>
<circle cx="111.71" cy="107.99" r="0.4" fill="#b07a6a" fill-opacity="0.8"/>
<rect x="128.5" y="88.45" width="1.5" height="1.1" fill="#bfe0f6"/>
<rect x="130.8" y="88.65" width="3" height="0.7" fill="#ddd"/>
<rect x="128.5" y="90.65" width="1.5" height="1.1" fill="#2f9a7e"/>
<rect x="130.8" y="90.85" width="3" height="0.7" fill="#ddd"/>
<rect x="128.5" y="92.85" width="1.5" height="1.1" fill="#f0c840"/>
<rect x="130.8" y="93.05" width="3" height="0.7" fill="#ddd"/>
<rect x="128.5" y="95.05" width="1.5" height="1.1" fill="#6d8fd0"/>
<rect x="130.8" y="95.25" width="3" height="0.7" fill="#ddd"/>
<rect x="128.5" y="97.25" width="1.5" height="1.1" fill="#c8b4e4"/>
<rect x="130.8" y="97.45" width="3" height="0.7" fill="#ddd"/>
<rect x="128.5" y="99.45" width="1.5" height="1.1" fill="#b88a7a"/>
<rect x="130.8" y="99.65" width="3" height="0.7" fill="#ddd"/>
<rect x="128.5" y="101.65" width="1.5" height="1.1" fill="#e06a6a"/>
<rect x="130.8" y="101.85" width="3" height="0.7" fill="#ddd"/>
<rect x="128.5" y="103.85" width="1.5" height="1.1" fill="#e070c0"/>
<rect x="130.8" y="104.05" width="3" height="0.7" fill="#ddd"/>
<text x="162.8" y="5" font-size="11" font-weight="bold" dominant-baseline="central">B</text>
<line x1="192.3" y1="17.2" x2="192.3" y2="107.3" stroke="#f0f0f0" stroke-width="0.45"/>
<line x1="210.7" y1="17.2" x2="210.7" y2="107.3" stroke="#f0f0f0" stroke-width="0.45"/>
<line x1="228.5" y1="17.2" x2="228.5" y2="107.3" stroke="#f0f0f0" stroke-width="0.45"/>
<line x1="245.9" y1="17.2" x2="245.9" y2="107.3" stroke="#f0f0f0" stroke-width="0.45"/>
<line x1="263.9" y1="17.2" x2="263.9" y2="107.3" stroke="#f0f0f0" stroke-width="0.45"/>
<line x1="176.3" y1="30" x2="266.3" y2="30" stroke="#f3f3f3" stroke-width="0.45"/>
<line x1="176.3" y1="56.2" x2="266.3" y2="56.2" stroke="#f3f3f3" stroke-width="0.45"/>
<line x1="176.3" y1="81.7" x2="266.3" y2="81.7" stroke="#f3f3f3" stroke-width="0.45"/>
<ellipse cx="220.8" cy="49.9" rx="36.3" ry="4.1" fill="#ede3e3" transform="rotate(-13.9 220.8 49.9)" fill-opacity="0.85"/>
<ellipse cx="234.3" cy="62" rx="37.8" ry="6.9" fill="#e2c0c0" transform="rotate(-69.5 234.3 62)" fill-opacity="0.75"/>
<rect x="176.3" y="17.2" width="90" height="90.1" fill="none" stroke="#c8c8c8" stroke-width="0.6"/>
<circle cx="207.2" cy="52.5" r="1.05" fill="#d9cfcf" stroke="#555" stroke-width="0.35"/>
<circle cx="219.5" cy="52.5" r="1.05" fill="#d9cfcf" stroke="#555" stroke-width="0.35"/>
<circle cx="236.5" cy="45.3" r="1.05" fill="#d9cfcf" stroke="#555" stroke-width="0.35"/>
<circle cx="234.2" cy="56" r="1.15" fill="#9a4444" stroke="#5a2020" stroke-width="0.35"/>
<circle cx="241.7" cy="51.7" r="1.15" fill="#9a4444" stroke="#5a2020" stroke-width="0.35"/>
<circle cx="230" cy="79" r="1.15" fill="#9a4444" stroke="#5a2020" stroke-width="0.35"/>
<line x1="192.3" y1="107.3" x2="192.3" y2="108.3" stroke="#999" stroke-width="0.3"/>
<text x="192.3" y="111.3" font-size="2.8" text-anchor="middle" fill="#555" stroke="#555" stroke-width="0.1" dominant-baseline="central">-10</text>
<line x1="210.7" y1="107.3" x2="210.7" y2="108.3" stroke="#999" stroke-width="0.3"/>
<text x="210.7" y="111.3" font-size="2.8" text-anchor="middle" fill="#555" stroke="#555" stroke-width="0.1" dominant-baseline="central">-5</text>
<line x1="228.5" y1="107.3" x2="228.5" y2="108.3" stroke="#999" stroke-width="0.3"/>
<text x="228.5" y="111.3" font-size="2.8" text-anchor="middle" fill="#555" stroke="#555" stroke-width="0.1" dominant-baseline="central">0</text>
<line x1="245.9" y1="107.3" x2="245.9" y2="108.3" stroke="#999" stroke-width="0.3"/>
<text x="245.9" y="111.3" font-size="2.8" text-anchor="middle" fill="#555" stroke="#555" stroke-width="0.1" dominant-baseline="central">5</text>
<line x1="263.9" y1="107.3" x2="263.9" y2="108.3" stroke="#999" stroke-width="0.3"/>
<text x="263.9" y="111.3" font-size="2.8" text-anchor="middle" fill="#555" stroke="#555" stroke-width="0.1" dominant-baseline="central">10</text>
<line x1="175.3" y1="30" x2="176.3" y2="30" stroke="#999" stroke-width="0.3"/>
<text x="172.5" y="30" font-size="2.8" text-anchor="middle" fill="#555" transform="rotate(-90 172.5 30)" stroke="#555" stroke-width="0.1" dominant-baseline="central">4</text>
<line x1="175.3" y1="56.2" x2="176.3" y2="56.2" stroke="#999" stroke-width="0.3"/>
<text x="172.5" y="56.2" font-size="2.8" text-anchor="middle" fill="#555" transform="rotate(-90 172.5 56.2)" stroke="#555" stroke-width="0.1" dominant-baseline="central">0</text>
<line x1="175.3" y1="81.7" x2="176.3" y2="81.7" stroke="#999" stroke-width="0.3"/>
<text x="172.5" y="81.7" font-size="2.8" text-anchor="middle" fill="#555" transform="rotate(-90 172.5 81.7)" stroke="#555" stroke-width="0.1" dominant-baseline="central">-4</text>
<text x="217.3" y="118.6" font-size="4.3" text-anchor="middle" fill="#222" stroke="#222" stroke-width="0.1" dominant-baseline="central">PC1 (62.2%)</text>
<text x="166.3" y="62" font-size="4.3" text-anchor="middle" fill="#222" transform="rotate(-90 166.3 62)" stroke="#222" stroke-width="0.1" dominant-baseline="central">PC2(24.5%)</text>
<circle cx="271.3" cy="22.9" r="1.2" fill="#fff" stroke="#b0b0b0" stroke-width="0.45"/>
<circle cx="271.3" cy="28.9" r="1.2" fill="#fff" stroke="#c83232" stroke-width="0.5"/>
<text x="274" y="23.1" font-size="4.6" fill="#1a1a1a" textLength="5.4" lengthAdjust="spacingAndGlyphs" dominant-baseline="central" stroke="none">PC</text>
<text x="274" y="29.1" font-size="4.6" fill="#1a1a1a" textLength="22.7" lengthAdjust="spacingAndGlyphs" dominant-baseline="central" stroke="none">PC+Trained</text>
<text x="301.3" y="4.8" font-size="11" font-weight="bold" dominant-baseline="central">C</text>
<text x="348" y="6.2" font-size="5.6" text-anchor="middle" fill="#222" dominant-baseline="central">PC</text>
<text x="401.3" y="6.2" font-size="5.6" text-anchor="middle" fill="#222" dominant-baseline="central">Trained+PC</text>
<rect x="318.7" y="10.6" width="53.95" height="2.1" fill="#c09494"/>
<rect x="372.65" y="10.6" width="53.95" height="2.1" fill="#a31a1e"/>
<rect x="318.7" y="13.8" width="17.98" height="4.54" fill="#b4d5e8" stroke="#9a9a9a" stroke-width="0.25"/>
<rect x="336.68" y="13.8" width="17.98" height="4.54" fill="#0d3d7a" stroke="#9a9a9a" stroke-width="0.25"/>
<rect x="354.67" y="13.8" width="17.98" height="4.54" fill="#ecdcd4" stroke="#9a9a9a" stroke-width="0.25"/>
<rect x="372.65" y="13.8" width="17.98" height="4.54" fill="#e8896a" stroke="#9a9a9a" stroke-width="0.25"/>
<rect x="390.63" y="13.8" width="17.98" height="4.54" fill="#f8dcc8" stroke="#9a9a9a" stroke-width="0.25"/>
<rect x="408.62" y="13.8" width="17.98" height="4.54" fill="#d6574a" stroke="#9a9a9a" stroke-width="0.25"/>
<rect x="318.7" y="18.34" width="17.98" height="4.54" fill="#a8cee4" stroke="#9a9a9a" stroke-width="0.25"/>
<rect x="336.68" y="18.34" width="17.98" height="4.54" fill="#154a8a" stroke="#9a9a9a" stroke-width="0.25"/>
<rect x="354.67" y="18.34" width="17.98" height="4.54" fill="#fac8b0" stroke="#9a9a9a" stroke-width="0.25"/>
<rect x="372.65" y="18.34" width="17.98" height="4.54" fill="#e98a6c" stroke="#9a9a9a" stroke-width="0.25"/>
<rect x="390.63" y="18.34" width="17.98" height="4.54" fill="#f0e0d8" stroke="#9a9a9a" stroke-width="0.25"/>
<rect x="408.62" y="18.34" width="17.98" height="4.54" fill="#d4504a" stroke="#9a9a9a" stroke-width="0.25"/>
<rect x="318.7" y="22.89" width="17.98" height="4.54" fill="#92c0de" stroke="#9a9a9a" stroke-width="0.25"/>
<rect x="336.68" y="22.89" width="17.98" height="4.54" fill="#1a5598" stroke="#9a9a9a" stroke-width="0.25"/>
<rect x="354.67" y="22.89" width="17.98" height="4.54" fill="#ece0da" stroke="#9a9a9a" stroke-width="0.25"/>
<rect x="372.65" y="22.89" width="17.98" height="4.54" fill="#eb8c6c" stroke="#9a9a9a" stroke-width="0.25"/>
<rect x="390.63" y="22.89" width="17.98" height="4.54" fill="#fbd8c4" stroke="#9a9a9a" stroke-width="0.25"/>
<rect x="408.62" y="22.89" width="17.98" height="4.54" fill="#d04848" stroke="#9a9a9a" stroke-width="0.25"/>
<rect x="318.7" y="27.43" width="17.98" height="4.54" fill="#8cbedd" stroke="#9a9a9a" stroke-width="0.25"/>
<rect x="336.68" y="27.43" width="17.98" height="4.54" fill="#2a64ac" stroke="#9a9a9a" stroke-width="0.25"/>
<rect x="354.67" y="27.43" width="17.98" height="4.54" fill="#f8dccc" stroke="#9a9a9a" stroke-width="0.25"/>
<rect x="372.65" y="27.43" width="17.98" height="4.54" fill="#f09c7a" stroke="#9a9a9a" stroke-width="0.25"/>
<rect x="390.63" y="27.43" width="17.98" height="4.54" fill="#ede0da" stroke="#9a9a9a" stroke-width="0.25"/>
<rect x="408.62" y="27.43" width="17.98" height="4.54" fill="#c0303a" stroke="#9a9a9a" stroke-width="0.25"/>
<rect x="318.7" y="31.98" width="17.98" height="4.54" fill="#3a88c0" stroke="#9a9a9a" stroke-width="0.25"/>
<rect x="336.68" y="31.98" width="17.98" height="4.54" fill="#3a85bf" stroke="#9a9a9a" stroke-width="0.25"/>
<rect x="354.67" y="31.98" width="17.98" height="4.54" fill="#c8e0ef" stroke="#9a9a9a" stroke-width="0.25"/>
<rect x="372.65" y="31.98" width="17.98" height="4.54" fill="#ea8a6c" stroke="#9a9a9a" stroke-width="0.25"/>
<rect x="390.63" y="31.98" width="17.98" height="4.54" fill="#f9c4a8" stroke="#9a9a9a" stroke-width="0.25"/>
<rect x="408.62" y="31.98" width="17.98" height="4.54" fill="#c93640" stroke="#9a9a9a" stroke-width="0.25"/>
<rect x="318.7" y="36.52" width="17.98" height="4.54" fill="#5aa0cc" stroke="#9a9a9a" stroke-width="0.25"/>
<rect x="336.68" y="36.52" width="17.98" height="4.54" fill="#1a5ba0" stroke="#9a9a9a" stroke-width="0.25"/>
<rect x="354.67" y="36.52" width="17.98" height="4.54" fill="#f3e0d6" stroke="#9a9a9a" stroke-width="0.25"/>
<rect x="372.65" y="36.52" width="17.98" height="4.54" fill="#f2a07e" stroke="#9a9a9a" stroke-width="0.25"/>
<rect x="390.63" y="36.52" width="17.98" height="4.54" fill="#ef9a78" stroke="#9a9a9a" stroke-width="0.25"/>
<rect x="408.62" y="36.52" width="17.98" height="4.54" fill="#dc6454" stroke="#9a9a9a" stroke-width="0.25"/>
<rect x="318.7" y="41.06" width="17.98" height="4.54" fill="#58a0cc" stroke="#9a9a9a" stroke-width="0.25"/>
<rect x="336.68" y="41.06" width="17.98" height="4.54" fill="#165498" stroke="#9a9a9a" stroke-width="0.25"/>
<rect x="354.67" y="41.06" width="17.98" height="4.54" fill="#f7b89a" stroke="#9a9a9a" stroke-width="0.25"/>
<rect x="372.65" y="41.06" width="17.98" height="4.54" fill="#f2a282" stroke="#9a9a9a" stroke-width="0.25"/>
<rect x="390.63" y="41.06" width="17.98" height="4.54" fill="#f4a886" stroke="#9a9a9a" stroke-width="0.25"/>
<rect x="408.62" y="41.06" width="17.98" height="4.54" fill="#e47c62" stroke="#9a9a9a" stroke-width="0.25"/>
<rect x="318.7" y="45.61" width="17.98" height="4.54" fill="#e4e4e6" stroke="#9a9a9a" stroke-width="0.25"/>
<rect x="336.68" y="45.61" width="17.98" height="4.54" fill="#164a8a" stroke="#9a9a9a" stroke-width="0.25"/>
<rect x="354.67" y="45.61" width="17.98" height="4.54" fill="#b6d6ea" stroke="#9a9a9a" stroke-width="0.25"/>
<rect x="372.65" y="45.61" width="17.98" height="4.54" fill="#fbd4bc" stroke="#9a9a9a" stroke-width="0.25"/>
<rect x="390.63" y="45.61" width="17.98" height="4.54" fill="#d24444" stroke="#9a9a9a" stroke-width="0.25"/>
<rect x="408.62" y="45.61" width="17.98" height="4.54" fill="#f1a482" stroke="#9a9a9a" stroke-width="0.25"/>
<rect x="318.7" y="50.15" width="17.98" height="4.54" fill="#c0dcee" stroke="#9a9a9a" stroke-width="0.25"/>
<rect x="336.68" y="50.15" width="17.98" height="4.54" fill="#08306a" stroke="#9a9a9a" stroke-width="0.25"/>
<rect x="354.67" y="50.15" width="17.98" height="4.54" fill="#eee0da" stroke="#9a9a9a" stroke-width="0.25"/>
<rect x="372.65" y="50.15" width="17.98" height="4.54" fill="#f4ac8e" stroke="#9a9a9a" stroke-width="0.25"/>
<rect x="390.63" y="50.15" width="17.98" height="4.54" fill="#e48064" stroke="#9a9a9a" stroke-width="0.25"/>
<rect x="408.62" y="50.15" width="17.98" height="4.54" fill="#f4ac8e" stroke="#9a9a9a" stroke-width="0.25"/>
<rect x="318.7" y="54.7" width="17.98" height="4.54" fill="#e0e2e6" stroke="#9a9a9a" stroke-width="0.25"/>
<rect x="336.68" y="54.7" width="17.98" height="4.54" fill="#2c6cb0" stroke="#9a9a9a" stroke-width="0.25"/>
<rect x="354.67" y="54.7" width="17.98" height="4.54" fill="#88bedc" stroke="#9a9a9a" stroke-width="0.25"/>
<rect x="372.65" y="54.7" width="17.98" height="4.54" fill="#f0e2dc" stroke="#9a9a9a" stroke-width="0.25"/>
<rect x="390.63" y="54.7" width="17.98" height="4.54" fill="#8e0c22" stroke="#9a9a9a" stroke-width="0.25"/>
<rect x="408.62" y="54.7" width="17.98" height="4.54" fill="#fbd0b8" stroke="#9a9a9a" stroke-width="0.25"/>
<rect x="318.7" y="59.24" width="17.98" height="4.54" fill="#98c6e0" stroke="#9a9a9a" stroke-width="0.25"/>
<rect x="336.68" y="59.24" width="17.98" height="4.54" fill="#2c6cb0" stroke="#9a9a9a" stroke-width="0.25"/>
<rect x="354.67" y="59.24" width="17.98" height="4.54" fill="#e0e4e8" stroke="#9a9a9a" stroke-width="0.25"/>
<rect x="372.65" y="59.24" width="17.98" height="4.54" fill="#fcdac6" stroke="#9a9a9a" stroke-width="0.25"/>
<rect x="390.63" y="59.24" width="17.98" height="4.54" fill="#a0102a" stroke="#9a9a9a" stroke-width="0.25"/>
<rect x="408.62" y="59.24" width="17.98" height="4.54" fill="#fcdac6" stroke="#9a9a9a" stroke-width="0.25"/>
<rect x="318.7" y="63.78" width="17.98" height="4.54" fill="#c8e0ee" stroke="#9a9a9a" stroke-width="0.25"/>
<rect x="336.68" y="63.78" width="17.98" height="4.54" fill="#1c5aa0" stroke="#9a9a9a" stroke-width="0.25"/>
<rect x="354.67" y="63.78" width="17.98" height="4.54" fill="#dce6ee" stroke="#9a9a9a" stroke-width="0.25"/>
<rect x="372.65" y="63.78" width="17.98" height="4.54" fill="#fbd0b8" stroke="#9a9a9a" stroke-width="0.25"/>
<rect x="390.63" y="63.78" width="17.98" height="4.54" fill="#b41e30" stroke="#9a9a9a" stroke-width="0.25"/>
<rect x="408.62" y="63.78" width="17.98" height="4.54" fill="#fcd4c0" stroke="#9a9a9a" stroke-width="0.25"/>
<rect x="318.7" y="68.33" width="17.98" height="4.54" fill="#d0e4f0" stroke="#9a9a9a" stroke-width="0.25"/>
<rect x="336.68" y="68.33" width="17.98" height="4.54" fill="#2464a8" stroke="#9a9a9a" stroke-width="0.25"/>
<rect x="354.67" y="68.33" width="17.98" height="4.54" fill="#c4dcec" stroke="#9a9a9a" stroke-width="0.25"/>
<rect x="372.65" y="68.33" width="17.98" height="4.54" fill="#f0e2dc" stroke="#9a9a9a" stroke-width="0.25"/>
<rect x="390.63" y="68.33" width="17.98" height="4.54" fill="#900c22" stroke="#9a9a9a" stroke-width="0.25"/>
<rect x="408.62" y="68.33" width="17.98" height="4.54" fill="#fbd0b8" stroke="#9a9a9a" stroke-width="0.25"/>
<rect x="318.7" y="72.87" width="17.98" height="4.54" fill="#6aaad2" stroke="#9a9a9a" stroke-width="0.25"/>
<rect x="336.68" y="72.87" width="17.98" height="4.54" fill="#3c88c0" stroke="#9a9a9a" stroke-width="0.25"/>
<rect x="354.67" y="72.87" width="17.98" height="4.54" fill="#5ea4d0" stroke="#9a9a9a" stroke-width="0.25"/>
<rect x="372.65" y="72.87" width="17.98" height="4.54" fill="#e8826a" stroke="#9a9a9a" stroke-width="0.25"/>
<rect x="390.63" y="72.87" width="17.98" height="4.54" fill="#c83840" stroke="#9a9a9a" stroke-width="0.25"/>
<rect x="408.62" y="72.87" width="17.98" height="4.54" fill="#f4a886" stroke="#9a9a9a" stroke-width="0.25"/>
<rect x="318.7" y="77.42" width="17.98" height="4.54" fill="#2a6cb0" stroke="#9a9a9a" stroke-width="0.25"/>
<rect x="336.68" y="77.42" width="17.98" height="4.54" fill="#5ea4d0" stroke="#9a9a9a" stroke-width="0.25"/>
<rect x="354.67" y="77.42" width="17.98" height="4.54" fill="#c4dcec" stroke="#9a9a9a" stroke-width="0.25"/>
<rect x="372.65" y="77.42" width="17.98" height="4.54" fill="#f0987a" stroke="#9a9a9a" stroke-width="0.25"/>
<rect x="390.63" y="77.42" width="17.98" height="4.54" fill="#c0303c" stroke="#9a9a9a" stroke-width="0.25"/>
<rect x="408.62" y="77.42" width="17.98" height="4.54" fill="#f5b090" stroke="#9a9a9a" stroke-width="0.25"/>
<rect x="318.7" y="81.96" width="17.98" height="4.54" fill="#2064ac" stroke="#9a9a9a" stroke-width="0.25"/>
<rect x="336.68" y="81.96" width="17.98" height="4.54" fill="#3a88c0" stroke="#9a9a9a" stroke-width="0.25"/>
<rect x="354.67" y="81.96" width="17.98" height="4.54" fill="#f2e0d8" stroke="#9a9a9a" stroke-width="0.25"/>
<rect x="372.65" y="81.96" width="17.98" height="4.54" fill="#f5ac8c" stroke="#9a9a9a" stroke-width="0.25"/>
<rect x="390.63" y="81.96" width="17.98" height="4.54" fill="#dc6a56" stroke="#9a9a9a" stroke-width="0.25"/>
<rect x="408.62" y="81.96" width="17.98" height="4.54" fill="#f0987a" stroke="#9a9a9a" stroke-width="0.25"/>
<rect x="318.7" y="86.5" width="17.98" height="4.54" fill="#3078b8" stroke="#9a9a9a" stroke-width="0.25"/>
<rect x="336.68" y="86.5" width="17.98" height="4.54" fill="#3a88c0" stroke="#9a9a9a" stroke-width="0.25"/>
<rect x="354.67" y="86.5" width="17.98" height="4.54" fill="#fbdccc" stroke="#9a9a9a" stroke-width="0.25"/>
<rect x="372.65" y="86.5" width="17.98" height="4.54" fill="#f5ac8c" stroke="#9a9a9a" stroke-width="0.25"/>
<rect x="390.63" y="86.5" width="17.98" height="4.54" fill="#d05048" stroke="#9a9a9a" stroke-width="0.25"/>
<rect x="408.62" y="86.5" width="17.98" height="4.54" fill="#f4a484" stroke="#9a9a9a" stroke-width="0.25"/>
<rect x="318.7" y="91.05" width="17.98" height="4.54" fill="#4a94c6" stroke="#9a9a9a" stroke-width="0.25"/>
<rect x="336.68" y="91.05" width="17.98" height="4.54" fill="#2c70b2" stroke="#9a9a9a" stroke-width="0.25"/>
<rect x="354.67" y="91.05" width="17.98" height="4.54" fill="#cfe2ef" stroke="#9a9a9a" stroke-width="0.25"/>
<rect x="372.65" y="91.05" width="17.98" height="4.54" fill="#f7b898" stroke="#9a9a9a" stroke-width="0.25"/>
<rect x="390.63" y="91.05" width="17.98" height="4.54" fill="#b8202e" stroke="#9a9a9a" stroke-width="0.25"/>
<rect x="408.62" y="91.05" width="17.98" height="4.54" fill="#f5ac8c" stroke="#9a9a9a" stroke-width="0.25"/>
<rect x="318.7" y="95.59" width="17.98" height="4.54" fill="#4e98c8" stroke="#9a9a9a" stroke-width="0.25"/>
<rect x="336.68" y="95.59" width="17.98" height="4.54" fill="#1c5ca6" stroke="#9a9a9a" stroke-width="0.25"/>
<rect x="354.67" y="95.59" width="17.98" height="4.54" fill="#ece2dc" stroke="#9a9a9a" stroke-width="0.25"/>
<rect x="372.65" y="95.59" width="17.98" height="4.54" fill="#f6b090" stroke="#9a9a9a" stroke-width="0.25"/>
<rect x="390.63" y="95.59" width="17.98" height="4.54" fill="#d85a4e" stroke="#9a9a9a" stroke-width="0.25"/>
<rect x="408.62" y="95.59" width="17.98" height="4.54" fill="#f4a686" stroke="#9a9a9a" stroke-width="0.25"/>
<rect x="318.7" y="100.14" width="17.98" height="4.54" fill="#2466ac" stroke="#9a9a9a" stroke-width="0.25"/>
<rect x="336.68" y="100.14" width="17.98" height="4.54" fill="#cfe2ef" stroke="#9a9a9a" stroke-width="0.25"/>
<rect x="354.67" y="100.14" width="17.98" height="4.54" fill="#b4d4e8" stroke="#9a9a9a" stroke-width="0.25"/>
<rect x="372.65" y="100.14" width="17.98" height="4.54" fill="#f7e4dc" stroke="#9a9a9a" stroke-width="0.25"/>
<rect x="390.63" y="100.14" width="17.98" height="4.54" fill="#9c1026" stroke="#9a9a9a" stroke-width="0.25"/>
<rect x="408.62" y="100.14" width="17.98" height="4.54" fill="#fbd0b8" stroke="#9a9a9a" stroke-width="0.25"/>
<rect x="318.7" y="104.68" width="17.98" height="4.54" fill="#2e72b4" stroke="#9a9a9a" stroke-width="0.25"/>
<rect x="336.68" y="104.68" width="17.98" height="4.54" fill="#cfe2ef" stroke="#9a9a9a" stroke-width="0.25"/>
<rect x="354.67" y="104.68" width="17.98" height="4.54" fill="#6aaad4" stroke="#9a9a9a" stroke-width="0.25"/>
<rect x="372.65" y="104.68" width="17.98" height="4.54" fill="#f4ac8c" stroke="#9a9a9a" stroke-width="0.25"/>
<rect x="390.63" y="104.68" width="17.98" height="4.54" fill="#a41428" stroke="#9a9a9a" stroke-width="0.25"/>
<rect x="408.62" y="104.68" width="17.98" height="4.54" fill="#fbd8c4" stroke="#9a9a9a" stroke-width="0.25"/>
<rect x="318.7" y="109.22" width="17.98" height="4.54" fill="#3a82bd" stroke="#9a9a9a" stroke-width="0.25"/>
<rect x="336.68" y="109.22" width="17.98" height="4.54" fill="#dce6ee" stroke="#9a9a9a" stroke-width="0.25"/>
<rect x="354.67" y="109.22" width="17.98" height="4.54" fill="#4892c6" stroke="#9a9a9a" stroke-width="0.25"/>
<rect x="372.65" y="109.22" width="17.98" height="4.54" fill="#fbd0b8" stroke="#9a9a9a" stroke-width="0.25"/>
<rect x="390.63" y="109.22" width="17.98" height="4.54" fill="#8c0a22" stroke="#9a9a9a" stroke-width="0.25"/>
<rect x="408.62" y="109.22" width="17.98" height="4.54" fill="#fbd4bf" stroke="#9a9a9a" stroke-width="0.25"/>
<rect x="318.7" y="113.77" width="17.98" height="4.54" fill="#80b8da" stroke="#9a9a9a" stroke-width="0.25"/>
<rect x="336.68" y="113.77" width="17.98" height="4.54" fill="#78b4d8" stroke="#9a9a9a" stroke-width="0.25"/>
<rect x="354.67" y="113.77" width="17.98" height="4.54" fill="#8cc0de" stroke="#9a9a9a" stroke-width="0.25"/>
<rect x="372.65" y="113.77" width="17.98" height="4.54" fill="#f4a486" stroke="#9a9a9a" stroke-width="0.25"/>
<rect x="390.63" y="113.77" width="17.98" height="4.54" fill="#7a0620" stroke="#9a9a9a" stroke-width="0.25"/>
<rect x="408.62" y="113.77" width="17.98" height="4.54" fill="#c0dcee" stroke="#9a9a9a" stroke-width="0.25"/>
<rect x="318.7" y="118.31" width="17.98" height="4.54" fill="#5aa0cc" stroke="#9a9a9a" stroke-width="0.25"/>
<rect x="336.68" y="118.31" width="17.98" height="4.54" fill="#5aa0cc" stroke="#9a9a9a" stroke-width="0.25"/>
<rect x="354.67" y="118.31" width="17.98" height="4.54" fill="#c0dcee" stroke="#9a9a9a" stroke-width="0.25"/>
<rect x="372.65" y="118.31" width="17.98" height="4.54" fill="#fbd0b8" stroke="#9a9a9a" stroke-width="0.25"/>
<rect x="390.63" y="118.31" width="17.98" height="4.54" fill="#860a22" stroke="#9a9a9a" stroke-width="0.25"/>
<rect x="408.62" y="118.31" width="17.98" height="4.54" fill="#f0e0d8" stroke="#9a9a9a" stroke-width="0.25"/>
<rect x="318.7" y="122.86" width="17.98" height="4.54" fill="#74b0d6" stroke="#9a9a9a" stroke-width="0.25"/>
<rect x="336.68" y="122.86" width="17.98" height="4.54" fill="#5ea4d0" stroke="#9a9a9a" stroke-width="0.25"/>
<rect x="354.67" y="122.86" width="17.98" height="4.54" fill="#c0dcee" stroke="#9a9a9a" stroke-width="0.25"/>
<rect x="372.65" y="122.86" width="17.98" height="4.54" fill="#ece2de" stroke="#9a9a9a" stroke-width="0.25"/>
<rect x="390.63" y="122.86" width="17.98" height="4.54" fill="#6a0020" stroke="#9a9a9a" stroke-width="0.25"/>
<rect x="408.62" y="122.86" width="17.98" height="4.54" fill="#f0e0d8" stroke="#9a9a9a" stroke-width="0.25"/>
<text x="427.8" y="11.7" font-size="2.9" fill="#222" stroke="#222" stroke-width="0.1" dominant-baseline="central">class</text>
<text x="427.9" y="16.67" font-size="3.2" fill="#1a1a1a" dominant-baseline="central" stroke="none">Propionylcarnitine</text>
<text x="427.9" y="21.22" font-size="3.2" fill="#1a1a1a" dominant-baseline="central" stroke="none">L-Alanine</text>
<text x="427.9" y="25.76" font-size="3.2" fill="#1a1a1a" dominant-baseline="central" stroke="none">Guanosine</text>
<text x="427.9" y="30.3" font-size="3.2" fill="#1a1a1a" dominant-baseline="central" stroke="none">Erucic Acid</text>
<text x="427.9" y="34.85" font-size="3.2" fill="#1a1a1a" dominant-baseline="central" stroke="none">Creatinine</text>
<text x="427.9" y="39.39" font-size="3.2" fill="#1a1a1a" dominant-baseline="central" stroke="none">Bis(2-Ethylhexyl)P</text>
<text x="427.9" y="43.94" font-size="3.2" fill="#1a1a1a" dominant-baseline="central" stroke="none">L-Pipecolic Acid</text>
<text x="427.9" y="48.48" font-size="3.2" fill="#1a1a1a" dominant-baseline="central" stroke="none">Trigonelline</text>
<text x="427.9" y="53.02" font-size="3.2" fill="#1a1a1a" dominant-baseline="central" stroke="none">Creatine Phosphate</text>
<text x="427.9" y="57.57" font-size="3.2" fill="#1a1a1a" dominant-baseline="central" stroke="none">Creatine</text>
<text x="427.9" y="62.11" font-size="3.2" fill="#1a1a1a" dominant-baseline="central" stroke="none">Oxalic Acid</text>
<text x="427.9" y="66.66" font-size="3.2" fill="#1a1a1a" dominant-baseline="central" stroke="none">Lauric Acid</text>
<text x="427.9" y="71.2" font-size="3.2" fill="#1a1a1a" dominant-baseline="central" stroke="none">Betaine</text>
<text x="427.9" y="75.74" font-size="3.2" fill="#1a1a1a" dominant-baseline="central" stroke="none">Kynurenine</text>
<text x="427.9" y="80.29" font-size="3.2" fill="#1a1a1a" dominant-baseline="central" stroke="none">Nicotinic Acid (NA)</text>
<text x="427.9" y="84.83" font-size="3.2" fill="#1a1a1a" dominant-baseline="central" stroke="none">L-Serine</text>
<text x="427.9" y="89.38" font-size="3.2" fill="#1a1a1a" dominant-baseline="central" stroke="none">L-Glutamic Acid</text>
<text x="427.9" y="93.92" font-size="3.2" fill="#1a1a1a" dominant-baseline="central" stroke="none">Valine</text>
<text x="427.9" y="98.46" font-size="3.2" fill="#1a1a1a" dominant-baseline="central" stroke="none">Malic Acid</text>
<text x="427.9" y="103.01" font-size="3.2" fill="#1a1a1a" dominant-baseline="central" stroke="none">L-Lactic Acid</text>
<text x="427.9" y="107.55" font-size="3.2" fill="#1a1a1a" dominant-baseline="central" stroke="none">Isovalerylcarnitin</text>
<text x="427.9" y="112.1" font-size="3.2" fill="#1a1a1a" dominant-baseline="central" stroke="none">Mannitol-D-Sorbit</text>
<text x="427.9" y="116.64" font-size="3.2" fill="#1a1a1a" dominant-baseline="central" stroke="none">L-Asparagine</text>
<text x="427.9" y="121.18" font-size="3.2" fill="#1a1a1a" dominant-baseline="central" stroke="none">Xanthosine 5'-Mono</text>
<text x="427.9" y="125.73" font-size="3.2" fill="#1a1a1a" dominant-baseline="central" stroke="none">L-Arginine</text>
<text x="327.69" y="130.3" font-size="2.2" text-anchor="middle" fill="#555" stroke="#555" stroke-width="0.1" dominant-baseline="central">1</text>
<text x="345.68" y="130.3" font-size="2.2" text-anchor="middle" fill="#555" stroke="#555" stroke-width="0.1" dominant-baseline="central">1</text>
<text x="363.66" y="130.3" font-size="2.2" text-anchor="middle" fill="#555" stroke="#555" stroke-width="0.1" dominant-baseline="central">1</text>
<text x="381.64" y="130.3" font-size="2.2" text-anchor="middle" fill="#555" stroke="#555" stroke-width="0.1" dominant-baseline="central">1</text>
<text x="399.62" y="130.3" font-size="2.2" text-anchor="middle" fill="#555" stroke="#555" stroke-width="0.1" dominant-baseline="central">1</text>
<text x="417.61" y="130.3" font-size="2.2" text-anchor="middle" fill="#555" stroke="#555" stroke-width="0.1" dominant-baseline="central">1</text>
<line x1="304.4" y1="29.3" x2="304.4" y2="76.3" stroke="#777" stroke-width="0.35"/>
<line x1="304.4" y1="29.3" x2="316" y2="29.3" stroke="#777" stroke-width="0.35"/>
<line x1="304.4" y1="76.3" x2="310.3" y2="76.3" stroke="#777" stroke-width="0.35"/>
<line x1="316" y1="18.34" x2="316" y2="38.79" stroke="#777" stroke-width="0.35"/>
<line x1="317.6" y1="16.07" x2="317.6" y2="20.62" stroke="#777" stroke-width="0.35"/>
<line x1="317.6" y1="16.07" x2="318.7" y2="16.07" stroke="#777" stroke-width="0.35"/>
<line x1="317.6" y1="20.62" x2="318.7" y2="20.62" stroke="#777" stroke-width="0.35"/>
<line x1="317.4" y1="25.16" x2="317.4" y2="29.7" stroke="#777" stroke-width="0.35"/>
<line x1="317.4" y1="25.16" x2="318.7" y2="25.16" stroke="#777" stroke-width="0.35"/>
<line x1="317.4" y1="29.7" x2="318.7" y2="29.7" stroke="#777" stroke-width="0.35"/>
<line x1="317" y1="34.25" x2="317" y2="43.34" stroke="#777" stroke-width="0.35"/>
<line x1="317" y1="34.25" x2="318.7" y2="34.25" stroke="#777" stroke-width="0.35"/>
<line x1="317" y1="38.79" x2="318.7" y2="38.79" stroke="#777" stroke-width="0.35"/>
<line x1="317" y1="43.34" x2="318.7" y2="43.34" stroke="#777" stroke-width="0.35"/>
<line x1="316" y1="18.34" x2="317.6" y2="18.34" stroke="#777" stroke-width="0.35"/>
<line x1="316" y1="27.43" x2="317.4" y2="27.43" stroke="#777" stroke-width="0.35"/>
<line x1="316" y1="38.79" x2="317" y2="38.79" stroke="#777" stroke-width="0.35"/>
<line x1="310.3" y1="49" x2="310.3" y2="103" stroke="#777" stroke-width="0.35"/>
<line x1="310.3" y1="49" x2="316.4" y2="49" stroke="#777" stroke-width="0.35"/>
<line x1="310.3" y1="103" x2="311.8" y2="103" stroke="#777" stroke-width="0.35"/>
<line x1="316.4" y1="50.15" x2="316.4" y2="66.06" stroke="#777" stroke-width="0.35"/>
<line x1="317.8" y1="47.88" x2="317.8" y2="52.42" stroke="#777" stroke-width="0.35"/>
<line x1="317.8" y1="47.88" x2="318.7" y2="47.88" stroke="#777" stroke-width="0.35"/>
<line x1="317.8" y1="52.42" x2="318.7" y2="52.42" stroke="#777" stroke-width="0.35"/>
<line x1="317.3" y1="56.97" x2="317.3" y2="70.6" stroke="#777" stroke-width="0.35"/>
<line x1="317.3" y1="56.97" x2="318.7" y2="56.97" stroke="#777" stroke-width="0.35"/>
<line x1="317.3" y1="61.51" x2="318.7" y2="61.51" stroke="#777" stroke-width="0.35"/>
<line x1="317.3" y1="66.06" x2="318.7" y2="66.06" stroke="#777" stroke-width="0.35"/>
<line x1="317.3" y1="70.6" x2="318.7" y2="70.6" stroke="#777" stroke-width="0.35"/>
<line x1="316.4" y1="50.15" x2="317.8" y2="50.15" stroke="#777" stroke-width="0.35"/>
<line x1="316.4" y1="63.78" x2="317.3" y2="63.78" stroke="#777" stroke-width="0.35"/>
<line x1="311.8" y1="86.5" x2="311.8" y2="113.77" stroke="#777" stroke-width="0.35"/>
<line x1="311.8" y1="86.5" x2="314.5" y2="86.5" stroke="#777" stroke-width="0.35"/>
<line x1="311.8" y1="113.77" x2="313.5" y2="113.77" stroke="#777" stroke-width="0.35"/>
<line x1="314.5" y1="79.69" x2="314.5" y2="93.32" stroke="#777" stroke-width="0.35"/>
<line x1="313.5" y1="104.68" x2="313.5" y2="120.58" stroke="#777" stroke-width="0.35"/>
<line x1="317.2" y1="75.14" x2="317.2" y2="84.23" stroke="#777" stroke-width="0.35"/>
<line x1="317.2" y1="75.14" x2="318.7" y2="75.14" stroke="#777" stroke-width="0.35"/>
<line x1="317.2" y1="79.69" x2="318.7" y2="79.69" stroke="#777" stroke-width="0.35"/>
<line x1="317.2" y1="84.23" x2="318.7" y2="84.23" stroke="#777" stroke-width="0.35"/>
<line x1="317" y1="88.78" x2="317" y2="97.86" stroke="#777" stroke-width="0.35"/>
<line x1="317" y1="88.78" x2="318.7" y2="88.78" stroke="#777" stroke-width="0.35"/>
<line x1="317" y1="93.32" x2="318.7" y2="93.32" stroke="#777" stroke-width="0.35"/>
<line x1="317" y1="97.86" x2="318.7" y2="97.86" stroke="#777" stroke-width="0.35"/>
<line x1="316.6" y1="102.41" x2="316.6" y2="111.5" stroke="#777" stroke-width="0.35"/>
<line x1="316.6" y1="102.41" x2="318.7" y2="102.41" stroke="#777" stroke-width="0.35"/>
<line x1="316.6" y1="106.95" x2="318.7" y2="106.95" stroke="#777" stroke-width="0.35"/>
<line x1="316.6" y1="111.5" x2="318.7" y2="111.5" stroke="#777" stroke-width="0.35"/>
<line x1="316.8" y1="116.04" x2="316.8" y2="125.13" stroke="#777" stroke-width="0.35"/>
<line x1="316.8" y1="116.04" x2="318.7" y2="116.04" stroke="#777" stroke-width="0.35"/>
<line x1="316.8" y1="120.58" x2="318.7" y2="120.58" stroke="#777" stroke-width="0.35"/>
<line x1="316.8" y1="125.13" x2="318.7" y2="125.13" stroke="#777" stroke-width="0.35"/>
<line x1="314.5" y1="79.69" x2="317.2" y2="79.69" stroke="#777" stroke-width="0.35"/>
<line x1="314.5" y1="93.32" x2="317" y2="93.32" stroke="#777" stroke-width="0.35"/>
<line x1="313.5" y1="106.95" x2="316.6" y2="106.95" stroke="#777" stroke-width="0.35"/>
<line x1="313.5" y1="120.58" x2="316.8" y2="120.58" stroke="#777" stroke-width="0.35"/>
<defs><linearGradient id="gC" x1="0" y1="0" x2="0" y2="1"><stop offset="0" stop-color="#67001f"/><stop offset="0.2" stop-color="#c43c3c"/><stop offset="0.4" stop-color="#f4a582"/><stop offset="0.5" stop-color="#f7f7f7"/><stop offset="0.6" stop-color="#92c5de"/><stop offset="0.8" stop-color="#3a7fbc"/><stop offset="1" stop-color="#053061"/></linearGradient></defs>
<rect x="465.7" y="11.2" width="3" height="45" fill="url(#gC)"/>
<text x="470.2" y="15.7" font-size="2.6" fill="#333" stroke="#333" stroke-width="0.1" dominant-baseline="central">1.5</text>
<text x="470.2" y="21.7" font-size="2.6" fill="#333" stroke="#333" stroke-width="0.1" dominant-baseline="central">1</text>
<text x="470.2" y="27.8" font-size="2.6" fill="#333" stroke="#333" stroke-width="0.1" dominant-baseline="central">0.5</text>
<text x="470.2" y="33.8" font-size="2.6" fill="#333" stroke="#333" stroke-width="0.1" dominant-baseline="central">0</text>
<text x="470.2" y="40" font-size="2.6" fill="#333" stroke="#333" stroke-width="0.1" dominant-baseline="central">-0.5</text>
<text x="470.2" y="46" font-size="2.6" fill="#333" stroke="#333" stroke-width="0.1" dominant-baseline="central">-1</text>
<text x="470.2" y="52.1" font-size="2.6" fill="#333" stroke="#333" stroke-width="0.1" dominant-baseline="central">-1.5</text>
<text x="508.8" y="3.9" font-size="11" font-weight="bold" dominant-baseline="central">D</text>
<line x1="477.2" y1="8.3" x2="685" y2="8.3" stroke="#a0a0a0" stroke-width="0.8"/>
<line x1="500.3" y1="10.4" x2="500.3" y2="123.3" stroke="#ededed" stroke-width="0.4"/>
<line x1="521" y1="10.4" x2="521" y2="123.3" stroke="#ededed" stroke-width="0.4"/>
<line x1="541.6" y1="10.4" x2="541.6" y2="123.3" stroke="#ededed" stroke-width="0.4"/>
<line x1="562" y1="10.4" x2="562" y2="123.3" stroke="#ededed" stroke-width="0.4"/>
<line x1="582.3" y1="10.4" x2="582.3" y2="123.3" stroke="#ededed" stroke-width="0.4"/>
<line x1="603" y1="10.4" x2="603" y2="123.3" stroke="#ededed" stroke-width="0.4"/>
<line x1="623.5" y1="10.4" x2="623.5" y2="123.3" stroke="#ededed" stroke-width="0.4"/>
<line x1="644" y1="10.4" x2="644" y2="123.3" stroke="#ededed" stroke-width="0.4"/>
<line x1="486.3" y1="18.1" x2="659.5" y2="18.1" stroke="#ededed" stroke-width="0.4"/>
<line x1="486.3" y1="34.9" x2="659.5" y2="34.9" stroke="#ededed" stroke-width="0.4"/>
<line x1="486.3" y1="51.7" x2="659.5" y2="51.7" stroke="#ededed" stroke-width="0.4"/>
<line x1="486.3" y1="68.5" x2="659.5" y2="68.5" stroke="#ededed" stroke-width="0.4"/>
<line x1="486.3" y1="85.2" x2="659.5" y2="85.2" stroke="#ededed" stroke-width="0.4"/>
<line x1="486.3" y1="102" x2="659.5" y2="102" stroke="#ededed" stroke-width="0.4"/>
<line x1="486.3" y1="119" x2="659.5" y2="119" stroke="#ededed" stroke-width="0.4"/>
<rect x="486.3" y="10.4" width="173.2" height="112.9" fill="none" stroke="#666" stroke-width="0.55"/>
<line x1="572.5" y1="10.4" x2="572.5" y2="123.3" stroke="#222" stroke-width="0.5" stroke-dasharray="0.7 0.9"/>
<line x1="592" y1="10.4" x2="592" y2="123.3" stroke="#222" stroke-width="0.5" stroke-dasharray="0.7 0.9"/>
<line x1="486.3" y1="75.5" x2="659.5" y2="75.5" stroke="#222" stroke-width="0.55" stroke-dasharray="0.7 0.9"/>
<circle cx="493.7" cy="102.1" r="0.85" fill="#ececec" stroke="#8a8a8a" stroke-width="0.3"/>
<circle cx="557.3" cy="97" r="0.85" fill="#ececec" stroke="#8a8a8a" stroke-width="0.3"/>
<circle cx="559.2" cy="100.5" r="0.85" fill="#ececec" stroke="#8a8a8a" stroke-width="0.3"/>
<circle cx="561" cy="97.8" r="0.85" fill="#ececec" stroke="#8a8a8a" stroke-width="0.3"/>
<circle cx="556" cy="110.3" r="0.85" fill="#ececec" stroke="#8a8a8a" stroke-width="0.3"/>
<circle cx="561" cy="111" r="0.85" fill="#ececec" stroke="#8a8a8a" stroke-width="0.3"/>
<circle cx="562.5" cy="113" r="0.85" fill="#ececec" stroke="#8a8a8a" stroke-width="0.3"/>
<circle cx="571" cy="93" r="0.85" fill="#ececec" stroke="#8a8a8a" stroke-width="0.3"/>
<circle cx="574" cy="106" r="0.85" fill="#ececec" stroke="#8a8a8a" stroke-width="0.3"/>
<circle cx="575.7" cy="101" r="0.85" fill="#ececec" stroke="#8a8a8a" stroke-width="0.3"/>
<circle cx="576" cy="107" r="0.85" fill="#ececec" stroke="#8a8a8a" stroke-width="0.3"/>
<circle cx="577" cy="109.5" r="0.85" fill="#ececec" stroke="#8a8a8a" stroke-width="0.3"/>
<circle cx="574" cy="115.5" r="0.85" fill="#ececec" stroke="#8a8a8a" stroke-width="0.3"/>
<circle cx="576" cy="116" r="0.85" fill="#ececec" stroke="#8a8a8a" stroke-width="0.3"/>
<circle cx="578" cy="116.3" r="0.85" fill="#ececec" stroke="#8a8a8a" stroke-width="0.3"/>
<circle cx="579" cy="118" r="0.85" fill="#ececec" stroke="#8a8a8a" stroke-width="0.3"/>
<circle cx="581" cy="117.5" r="0.85" fill="#ececec" stroke="#8a8a8a" stroke-width="0.3"/>
<circle cx="583" cy="116.5" r="0.85" fill="#ececec" stroke="#8a8a8a" stroke-width="0.3"/>
<circle cx="580" cy="113" r="0.85" fill="#ececec" stroke="#8a8a8a" stroke-width="0.3"/>
<circle cx="578" cy="109" r="0.85" fill="#ececec" stroke="#8a8a8a" stroke-width="0.3"/>
<circle cx="600" cy="82.8" r="0.85" fill="#ececec" stroke="#8a8a8a" stroke-width="0.3"/>
<circle cx="605.2" cy="82.6" r="0.85" fill="#ececec" stroke="#8a8a8a" stroke-width="0.3"/>
<circle cx="609" cy="82" r="0.85" fill="#ececec" stroke="#8a8a8a" stroke-width="0.3"/>
<circle cx="609" cy="84" r="0.85" fill="#ececec" stroke="#8a8a8a" stroke-width="0.3"/>
<circle cx="612.9" cy="80.2" r="0.85" fill="#ececec" stroke="#8a8a8a" stroke-width="0.3"/>
<circle cx="615" cy="80.2" r="0.85" fill="#ececec" stroke="#8a8a8a" stroke-width="0.3"/>
<circle cx="612.5" cy="82.6" r="0.85" fill="#ececec" stroke="#8a8a8a" stroke-width="0.3"/>
<circle cx="616.3" cy="83.2" r="0.85" fill="#ececec" stroke="#8a8a8a" stroke-width="0.3"/>
<circle cx="616.3" cy="85.7" r="0.85" fill="#ececec" stroke="#8a8a8a" stroke-width="0.3"/>
<circle cx="619.4" cy="84.9" r="0.85" fill="#ececec" stroke="#8a8a8a" stroke-width="0.3"/>
<circle cx="621" cy="86.6" r="0.85" fill="#ececec" stroke="#8a8a8a" stroke-width="0.3"/>
<circle cx="625.2" cy="90.2" r="0.85" fill="#ececec" stroke="#8a8a8a" stroke-width="0.3"/>
<circle cx="640" cy="87" r="0.85" fill="#ececec" stroke="#8a8a8a" stroke-width="0.3"/>
<circle cx="634.3" cy="96.7" r="0.85" fill="#ececec" stroke="#8a8a8a" stroke-width="0.3"/>
<circle cx="651.5" cy="94.3" r="0.85" fill="#ececec" stroke="#8a8a8a" stroke-width="0.3"/>
<circle cx="652" cy="96" r="0.85" fill="#ececec" stroke="#8a8a8a" stroke-width="0.3"/>
<circle cx="646" cy="102" r="0.85" fill="#ececec" stroke="#8a8a8a" stroke-width="0.3"/>
<circle cx="621" cy="101.5" r="0.85" fill="#ececec" stroke="#8a8a8a" stroke-width="0.3"/>
<circle cx="621.5" cy="106.7" r="0.85" fill="#ececec" stroke="#8a8a8a" stroke-width="0.3"/>
<circle cx="620.6" cy="111" r="0.85" fill="#ececec" stroke="#8a8a8a" stroke-width="0.3"/>
<circle cx="606.9" cy="109.2" r="0.85" fill="#ececec" stroke="#8a8a8a" stroke-width="0.3"/>
<circle cx="609.8" cy="101.2" r="0.85" fill="#ececec" stroke="#8a8a8a" stroke-width="0.3"/>
<circle cx="611.2" cy="90" r="0.85" fill="#ececec" stroke="#8a8a8a" stroke-width="0.3"/>
<circle cx="611.2" cy="91.7" r="0.85" fill="#ececec" stroke="#8a8a8a" stroke-width="0.3"/>
<circle cx="606" cy="90" r="0.85" fill="#ececec" stroke="#8a8a8a" stroke-width="0.3"/>
<circle cx="605.2" cy="91.7" r="0.85" fill="#ececec" stroke="#8a8a8a" stroke-width="0.3"/>
<circle cx="603.4" cy="94" r="0.85" fill="#ececec" stroke="#8a8a8a" stroke-width="0.3"/>
<circle cx="600" cy="91.7" r="0.85" fill="#ececec" stroke="#8a8a8a" stroke-width="0.3"/>
<circle cx="600.9" cy="92.6" r="0.85" fill="#ececec" stroke="#8a8a8a" stroke-width="0.3"/>
<circle cx="603.4" cy="96.5" r="0.85" fill="#ececec" stroke="#8a8a8a" stroke-width="0.3"/>
<circle cx="599.2" cy="99.5" r="0.85" fill="#ececec" stroke="#8a8a8a" stroke-width="0.3"/>
<circle cx="596.6" cy="104" r="0.85" fill="#ececec" stroke="#8a8a8a" stroke-width="0.3"/>
<circle cx="599" cy="103.7" r="0.85" fill="#ececec" stroke="#8a8a8a" stroke-width="0.3"/>
<circle cx="594.9" cy="100.3" r="0.85" fill="#ececec" stroke="#8a8a8a" stroke-width="0.3"/>
<circle cx="594" cy="101.2" r="0.85" fill="#ececec" stroke="#8a8a8a" stroke-width="0.3"/>
<circle cx="591.4" cy="101.2" r="0.85" fill="#ececec" stroke="#8a8a8a" stroke-width="0.3"/>
<circle cx="590.6" cy="104.3" r="0.85" fill="#ececec" stroke="#8a8a8a" stroke-width="0.3"/>
<circle cx="590.6" cy="92.2" r="0.85" fill="#ececec" stroke="#8a8a8a" stroke-width="0.3"/>
<circle cx="591" cy="106.7" r="0.85" fill="#ececec" stroke="#8a8a8a" stroke-width="0.3"/>
<circle cx="592" cy="110.6" r="0.85" fill="#ececec" stroke="#8a8a8a" stroke-width="0.3"/>
<circle cx="592.3" cy="114.9" r="0.85" fill="#ececec" stroke="#8a8a8a" stroke-width="0.3"/>
<circle cx="588.9" cy="108.4" r="0.85" fill="#ececec" stroke="#8a8a8a" stroke-width="0.3"/>
<circle cx="586.3" cy="104.3" r="0.85" fill="#ececec" stroke="#8a8a8a" stroke-width="0.3"/>
<circle cx="587.2" cy="107.2" r="0.85" fill="#ececec" stroke="#8a8a8a" stroke-width="0.3"/>
<circle cx="585.4" cy="108.4" r="0.85" fill="#ececec" stroke="#8a8a8a" stroke-width="0.3"/>
<circle cx="576" cy="101.2" r="0.85" fill="#ececec" stroke="#8a8a8a" stroke-width="0.3"/>
<circle cx="575.1" cy="107.2" r="0.85" fill="#ececec" stroke="#8a8a8a" stroke-width="0.3"/>
<circle cx="576.9" cy="109.7" r="0.85" fill="#ececec" stroke="#8a8a8a" stroke-width="0.3"/>
<circle cx="580" cy="109" r="0.85" fill="#ececec" stroke="#8a8a8a" stroke-width="0.3"/>
<circle cx="579.4" cy="112.8" r="0.85" fill="#ececec" stroke="#8a8a8a" stroke-width="0.3"/>
<circle cx="576.9" cy="114.9" r="0.85" fill="#ececec" stroke="#8a8a8a" stroke-width="0.3"/>
<circle cx="578.6" cy="116.6" r="0.85" fill="#ececec" stroke="#8a8a8a" stroke-width="0.3"/>
<circle cx="582" cy="116.6" r="0.85" fill="#ececec" stroke="#8a8a8a" stroke-width="0.3"/>
<circle cx="582.9" cy="118.3" r="0.85" fill="#ececec" stroke="#8a8a8a" stroke-width="0.3"/>
<circle cx="580.3" cy="118.3" r="0.85" fill="#ececec" stroke="#8a8a8a" stroke-width="0.3"/>
<circle cx="597" cy="97" r="0.85" fill="#ececec" stroke="#8a8a8a" stroke-width="0.3"/>
<circle cx="602" cy="88" r="0.85" fill="#ececec" stroke="#8a8a8a" stroke-width="0.3"/>
<circle cx="608" cy="88.5" r="0.85" fill="#ececec" stroke="#8a8a8a" stroke-width="0.3"/>
<circle cx="614" cy="87.5" r="0.85" fill="#ececec" stroke="#8a8a8a" stroke-width="0.3"/>
<circle cx="586" cy="113" r="0.85" fill="#ececec" stroke="#8a8a8a" stroke-width="0.3"/>
<circle cx="589" cy="117" r="0.85" fill="#ececec" stroke="#8a8a8a" stroke-width="0.3"/>
<circle cx="570" cy="111" r="0.85" fill="#ececec" stroke="#8a8a8a" stroke-width="0.3"/>
<circle cx="600.1" cy="15" r="1.3" fill="#ec8a70" stroke="#c86050" stroke-width="0.2"/>
<circle cx="624.2" cy="57.1" r="1.2" fill="#ee6a4a" stroke="#c86050" stroke-width="0.2"/>
<circle cx="651.6" cy="56.2" r="1.4" fill="#e81010" stroke="#c86050" stroke-width="0.2"/>
<circle cx="606.5" cy="63.5" r="1.1" fill="#f08060" stroke="#c86050" stroke-width="0.2"/>
<circle cx="605" cy="64.5" r="1" fill="#f08060" stroke="#c86050" stroke-width="0.2"/>
<circle cx="610.7" cy="67" r="1" fill="#ee7050" stroke="#c86050" stroke-width="0.2"/>
<circle cx="602.3" cy="70.6" r="1" fill="#f09070" stroke="#c86050" stroke-width="0.2"/>
<circle cx="611.6" cy="72.4" r="1" fill="#f09a80" stroke="#c86050" stroke-width="0.2"/>
<line x1="604" y1="70.4" x2="610" y2="70.4" stroke="#222" stroke-width="0.4"/>
<text x="596" y="18.3" font-size="3.3" text-anchor="middle" fill="#222" stroke="#222" stroke-width="0.1" dominant-baseline="central">KYNURENINE</text>
<text x="607" y="54.5" font-size="3.3" fill="#222" textLength="27" lengthAdjust="spacingAndGlyphs" stroke="#222" stroke-width="0.1" dominant-baseline="central">Nicotinic acid(NA)</text>
<text x="637.6" y="59.4" font-size="3.3" fill="#222" textLength="20" lengthAdjust="spacingAndGlyphs" stroke="#222" stroke-width="0.1" dominant-baseline="central">CREATININE</text>
<text x="603.8" y="60.7" font-size="3.3" text-anchor="middle" fill="#222" stroke="#222" stroke-width="0.1" dominant-baseline="central">VALINE</text>
<text x="595.6" y="66.9" font-size="3.3" fill="#222" textLength="12.4" lengthAdjust="spacingAndGlyphs" stroke="#222" stroke-width="0.1" dominant-baseline="central">L-Serine</text>
<text x="612" y="65.4" font-size="3.3" fill="#222" textLength="14.6" lengthAdjust="spacingAndGlyphs" stroke="#222" stroke-width="0.1" dominant-baseline="central">Malic acid</text>
<text x="610.3" y="70.4" font-size="3.3" fill="#222" textLength="26.3" lengthAdjust="spacingAndGlyphs" stroke="#222" stroke-width="0.1" dominant-baseline="central">Isovalerylcarnitine</text>
<text x="550.5" y="73.6" font-size="3.3" fill="#222" textLength="51.5" lengthAdjust="spacingAndGlyphs" stroke="#222" stroke-width="0.1" dominant-baseline="central">BIS(2-ETHYLHEXYL)PHTHALATE</text>
<text x="603.8" y="75.3" font-size="3.3" fill="#222" textLength="24" lengthAdjust="spacingAndGlyphs" stroke="#222" stroke-width="0.1" dominant-baseline="central">L-Glutamic acid</text>
<line x1="500.3" y1="123.3" x2="500.3" y2="124.1" stroke="#666" stroke-width="0.3"/>
<text x="500.3" y="126.2" font-size="2.4" text-anchor="middle" fill="#666" stroke="#666" stroke-width="0.1" dominant-baseline="central">-1.0</text>
<line x1="541.6" y1="123.3" x2="541.6" y2="124.1" stroke="#666" stroke-width="0.3"/>
<text x="541.6" y="126.2" font-size="2.4" text-anchor="middle" fill="#666" stroke="#666" stroke-width="0.1" dominant-baseline="central">-0.5</text>
<line x1="582.3" y1="123.3" x2="582.3" y2="124.1" stroke="#666" stroke-width="0.3"/>
<text x="582.3" y="126.2" font-size="2.4" text-anchor="middle" fill="#666" stroke="#666" stroke-width="0.1" dominant-baseline="central">0.0</text>
<line x1="623.5" y1="123.3" x2="623.5" y2="124.1" stroke="#666" stroke-width="0.3"/>
<text x="623.5" y="126.2" font-size="2.4" text-anchor="middle" fill="#666" stroke="#666" stroke-width="0.1" dominant-baseline="central">0.5</text>
<line x1="485.5" y1="18.1" x2="486.3" y2="18.1" stroke="#666" stroke-width="0.3"/>
<text x="484" y="18.1" font-size="2.4" text-anchor="middle" fill="#7790aa" stroke="#7790aa" stroke-width="0.1" dominant-baseline="central">3</text>
<line x1="485.5" y1="51.7" x2="486.3" y2="51.7" stroke="#666" stroke-width="0.3"/>
<text x="484" y="51.7" font-size="2.4" text-anchor="middle" fill="#7790aa" stroke="#7790aa" stroke-width="0.1" dominant-baseline="central">2</text>
<line x1="485.5" y1="85.2" x2="486.3" y2="85.2" stroke="#666" stroke-width="0.3"/>
<text x="484" y="85.2" font-size="2.4" text-anchor="middle" fill="#7790aa" stroke="#7790aa" stroke-width="0.1" dominant-baseline="central">1</text>
<line x1="485.5" y1="119" x2="486.3" y2="119" stroke="#666" stroke-width="0.3"/>
<text x="484" y="119" font-size="2.4" text-anchor="middle" fill="#7790aa" stroke="#7790aa" stroke-width="0.1" dominant-baseline="central">0</text>
<text x="572.5" y="129.9" font-size="3.2" text-anchor="middle" fill="#333" stroke="#333" stroke-width="0.1" dominant-baseline="central">log2(FC)</text>
<text x="480.8" y="66.8" font-size="3.2" text-anchor="middle" fill="#333" transform="rotate(-90 480.8 66.8)" stroke="#333" stroke-width="0.1" dominant-baseline="central">-log10(p-value)</text>
<text x="664.4" y="53.9" font-size="3.2" fill="#333" textLength="20" lengthAdjust="spacingAndGlyphs" stroke="#333" stroke-width="0.1" dominant-baseline="central">FoldChange</text>
<defs><linearGradient id="gD" x1="0" y1="0" x2="0" y2="1"><stop offset="0" stop-color="#f01a0a"/><stop offset="1" stop-color="#eca090"/></linearGradient></defs>
<rect x="664.4" y="57" width="5.1" height="24.5" fill="url(#gD)"/>
<text x="671.5" y="58.8" font-size="2.3" fill="#444" stroke="#444" stroke-width="0.1" dominant-baseline="central">4</text>
<text x="671.5" y="66.6" font-size="2.3" fill="#444" stroke="#444" stroke-width="0.1" dominant-baseline="central">3</text>
<text x="671.5" y="75" font-size="2.3" fill="#444" stroke="#444" stroke-width="0.1" dominant-baseline="central">2</text>
<text x="0.8" y="159.5" font-size="11" font-weight="bold" dominant-baseline="central">E</text>
<line x1="18.3" y1="187.3" x2="18.3" y2="265.5" stroke="#444" stroke-width="0.4"/>
<line x1="17" y1="187.3" x2="18.3" y2="187.3" stroke="#444" stroke-width="0.4"/>
<text x="13.6" y="187.3" font-size="2.9" text-anchor="middle" fill="#333" transform="rotate(-90 13.6 187.3)" stroke="#333" stroke-width="0.1" dominant-baseline="central">2.0</text>
<line x1="17" y1="213.4" x2="18.3" y2="213.4" stroke="#444" stroke-width="0.4"/>
<text x="13.6" y="213.4" font-size="2.9" text-anchor="middle" fill="#333" transform="rotate(-90 13.6 213.4)" stroke="#333" stroke-width="0.1" dominant-baseline="central">1.5</text>
<line x1="17" y1="239.5" x2="18.3" y2="239.5" stroke="#444" stroke-width="0.4"/>
<text x="13.6" y="239.5" font-size="2.9" text-anchor="middle" fill="#333" transform="rotate(-90 13.6 239.5)" stroke="#333" stroke-width="0.1" dominant-baseline="central">1.0</text>
<line x1="17" y1="265.5" x2="18.3" y2="265.5" stroke="#444" stroke-width="0.4"/>
<text x="13.6" y="265.5" font-size="2.9" text-anchor="middle" fill="#333" transform="rotate(-90 13.6 265.5)" stroke="#333" stroke-width="0.1" dominant-baseline="central">0.5</text>
<text x="5.8" y="230.2" font-size="2.9" text-anchor="middle" fill="#444" transform="rotate(-90 5.8 230.2)" stroke="#444" stroke-width="0.1" dominant-baseline="central">-log(p)</text>
<line x1="22.4" y1="288" x2="120.8" y2="288" stroke="#444" stroke-width="0.4"/>
<line x1="22.4" y1="288" x2="22.4" y2="289.3" stroke="#444" stroke-width="0.4"/>
<text x="22.4" y="294" font-size="2.9" text-anchor="middle" fill="#333" stroke="#333" stroke-width="0.1" dominant-baseline="central">0.0</text>
<line x1="42.08" y1="288" x2="42.08" y2="289.3" stroke="#444" stroke-width="0.4"/>
<text x="42.08" y="294" font-size="2.9" text-anchor="middle" fill="#333" stroke="#333" stroke-width="0.1" dominant-baseline="central">0.2</text>
<line x1="61.76" y1="288" x2="61.76" y2="289.3" stroke="#444" stroke-width="0.4"/>
<text x="61.76" y="294" font-size="2.9" text-anchor="middle" fill="#333" stroke="#333" stroke-width="0.1" dominant-baseline="central">0.4</text>
<line x1="81.44" y1="288" x2="81.44" y2="289.3" stroke="#444" stroke-width="0.4"/>
<text x="81.44" y="294" font-size="2.9" text-anchor="middle" fill="#333" stroke="#333" stroke-width="0.1" dominant-baseline="central">0.6</text>
<line x1="101.12" y1="288" x2="101.12" y2="289.3" stroke="#444" stroke-width="0.4"/>
<text x="101.12" y="294" font-size="2.9" text-anchor="middle" fill="#333" stroke="#333" stroke-width="0.1" dominant-baseline="central">0.8</text>
<line x1="120.8" y1="288" x2="120.8" y2="289.3" stroke="#444" stroke-width="0.4"/>
<text x="120.8" y="294" font-size="2.9" text-anchor="middle" fill="#333" stroke="#333" stroke-width="0.1" dominant-baseline="central">1.0</text>
<text x="72" y="301.8" font-size="2.9" text-anchor="middle" fill="#444" stroke="#444" stroke-width="0.1" dominant-baseline="central">Pathway Impact</text>
<circle cx="23.1" cy="185.9" r="0.8" fill="#b80000" stroke="#333" stroke-width="0.25"/>
<circle cx="37.2" cy="191.4" r="1.3" fill="#c80808" stroke="#333" stroke-width="0.25"/>
<circle cx="27" cy="205" r="0.8" fill="#c01010" stroke="#333" stroke-width="0.25"/>
<circle cx="80.1" cy="187.5" r="2.3" fill="#e21010" stroke="#333" stroke-width="0.25"/>
<circle cx="61.4" cy="205.5" r="2.1" fill="#e83010" stroke="#333" stroke-width="0.25"/>
<circle cx="69.7" cy="222.9" r="2.1" fill="#ee5010" stroke="#333" stroke-width="0.25"/>
<circle cx="75" cy="222.5" r="2.1" fill="#ee5a10" stroke="#333" stroke-width="0.25"/>
<circle cx="22.7" cy="219" r="0.6" fill="#c03020" stroke="#333" stroke-width="0.25"/>
<circle cx="22.7" cy="220.5" r="0.6" fill="#c03020" stroke="#333" stroke-width="0.25"/>
<circle cx="22.7" cy="222" r="0.6" fill="#c03020" stroke="#333" stroke-width="0.25"/>
<circle cx="22.7" cy="223.4" r="0.6" fill="#c03020" stroke="#333" stroke-width="0.25"/>
<circle cx="35.1" cy="229.7" r="1.4" fill="#e85e10" stroke="#333" stroke-width="0.25"/>
<circle cx="22.7" cy="242.4" r="0.6" fill="#d85018" stroke="#333" stroke-width="0.25"/>
<circle cx="25.6" cy="242.8" r="0.8" fill="#d85018" stroke="#333" stroke-width="0.25"/>
<circle cx="22.7" cy="248.2" r="0.6" fill="#d05018" stroke="#333" stroke-width="0.25"/>
<circle cx="27.9" cy="258.6" r="1" fill="#e88020" stroke="#333" stroke-width="0.25"/>
<circle cx="22.7" cy="261" r="0.7" fill="#b86020" stroke="#333" stroke-width="0.25"/>
<circle cx="24" cy="260.5" r="0.9" fill="#c08030" stroke="#333" stroke-width="0.25"/>
<circle cx="61.1" cy="257.4" r="2" fill="#f08a18" stroke="#333" stroke-width="0.25"/>
<circle cx="22.7" cy="266.2" r="0.6" fill="#9a8a20" stroke="#333" stroke-width="0.25"/>
<circle cx="22.7" cy="267.8" r="0.6" fill="#9a8a20" stroke="#333" stroke-width="0.25"/>
<circle cx="27.5" cy="269.7" r="1" fill="#e8d020" stroke="#333" stroke-width="0.25"/>
<circle cx="22.7" cy="271.3" r="0.6" fill="#b0a030" stroke="#333" stroke-width="0.25"/>
<circle cx="36.2" cy="267.4" r="1.5" fill="#f4e030" stroke="#333" stroke-width="0.25"/>
<circle cx="36.2" cy="270.3" r="1.3" fill="#f6e850" stroke="#333" stroke-width="0.25"/>
<circle cx="45.9" cy="267.8" r="1.7" fill="#f4e020" stroke="#333" stroke-width="0.25"/>
<circle cx="71.7" cy="267.4" r="2.1" fill="#f6e020" stroke="#333" stroke-width="0.25"/>
<circle cx="30.3" cy="275.5" r="1.3" fill="#f6ee80" stroke="#333" stroke-width="0.25"/>
<circle cx="45.9" cy="281.9" r="1.6" fill="#fafac0" stroke="#333" stroke-width="0.25"/>
<circle cx="22.7" cy="282.8" r="0.8" fill="#a0a080" stroke="#333" stroke-width="0.25"/>
<circle cx="103.8" cy="269.7" r="2.6" fill="#fbf080" stroke="#333" stroke-width="0.25"/>
<circle cx="121" cy="264.2" r="2.6" fill="#f0a020" stroke="#333" stroke-width="0.25"/>
<text x="96" y="179.8" font-size="3.9" text-anchor="middle" font-weight="bold" textLength="78" lengthAdjust="spacingAndGlyphs" dominant-baseline="central">Glycine, serine and threonine metabolism</text>
<line x1="83.4" y1="182.3" x2="83.4" y2="186.4" stroke="#111" stroke-width="0.35"/>
<text x="73.9" y="205.5" font-size="3.9" font-weight="bold" textLength="61" lengthAdjust="spacingAndGlyphs" dominant-baseline="central">Arginine and proline metabolism</text>
<line x1="65.3" y1="205.4" x2="71.7" y2="205.4" stroke="#111" stroke-width="0.35"/>
<text x="72.2" y="217.5" font-size="3.9" text-anchor="middle" font-weight="bold" textLength="40" lengthAdjust="spacingAndGlyphs" dominant-baseline="central">Arginine biosynthesis</text>
<line x1="61" y1="219.2" x2="68" y2="222" stroke="#111" stroke-width="0.35"/>
<text x="87.6" y="228.1" font-size="3.9" font-weight="bold" textLength="81.6" lengthAdjust="spacingAndGlyphs" dominant-baseline="central">Alanine, aspartate and glutamate metabolism</text>
<line x1="77.9" y1="223.6" x2="84.8" y2="227.6" stroke="#111" stroke-width="0.35"/>
<text x="44.8" y="248.1" font-size="3.9" text-anchor="middle" font-weight="bold" textLength="22" lengthAdjust="spacingAndGlyphs" dominant-baseline="central">Glutathione</text>
<text x="44.8" y="253.4" font-size="3.9" text-anchor="middle" font-weight="bold" textLength="22" lengthAdjust="spacingAndGlyphs" dominant-baseline="central">metabolism</text>
<line x1="52" y1="255.6" x2="57.8" y2="258.6" stroke="#111" stroke-width="0.35"/>
<text x="89.8" y="247.3" font-size="3.9" text-anchor="middle" font-weight="bold" textLength="43" lengthAdjust="spacingAndGlyphs" dominant-baseline="central">Phenylalanine, tyrosine</text>
<text x="89.8" y="252.8" font-size="3.9" text-anchor="middle" font-weight="bold" textLength="28" lengthAdjust="spacingAndGlyphs" dominant-baseline="central">and tryptophan</text>
<text x="89.8" y="258.3" font-size="3.9" text-anchor="middle" font-weight="bold" textLength="23" lengthAdjust="spacingAndGlyphs" dominant-baseline="central">biosynthesis</text>
<line x1="74.4" y1="259.6" x2="71.9" y2="263.8" stroke="#111" stroke-width="0.35"/>
<text x="121.9" y="252.8" font-size="3.9" font-weight="bold" textLength="45.6" lengthAdjust="spacingAndGlyphs" dominant-baseline="central">Linoleic acid metabolism</text>
<line x1="123.2" y1="255.9" x2="120.2" y2="259.8" stroke="#111" stroke-width="0.35"/>
<text x="101.2" y="281.5" font-size="3.9" text-anchor="middle" font-weight="bold" textLength="69" lengthAdjust="spacingAndGlyphs" dominant-baseline="central">Taurine and hypotaurine metabolism</text>
<line x1="91.2" y1="276.8" x2="98.7" y2="271.8" stroke="#111" stroke-width="0.35"/>
<text x="163.8" y="159.5" font-size="11" font-weight="bold" dominant-baseline="central">F</text>
<text x="271.8" y="150.3" font-size="4" font-weight="bold" fill="#111" textLength="65.5" lengthAdjust="spacingAndGlyphs" dominant-baseline="central">Enrichment Overview (top 25)</text>
<rect x="271" y="165.75" width="68.5" height="3.9" fill="#ee0000" stroke="#6a3a1a" stroke-width="0.32"/>
<text x="269.2" y="167.8" font-size="4.62" text-anchor="end" stroke="#000" stroke-width="0.1" dominant-baseline="central">Selenoamino Acid Metabolism</text>
<rect x="271" y="172.03" width="68.5" height="3.9" fill="#ee0500" stroke="#6a3a1a" stroke-width="0.32"/>
<text x="269.2" y="174.07" font-size="4.62" text-anchor="end" stroke="#000" stroke-width="0.1" dominant-baseline="central">Homocysteine Degradation</text>
<rect x="271" y="178.3" width="68" height="3.9" fill="#ef0900" stroke="#6a3a1a" stroke-width="0.32"/>
<text x="269.2" y="180.35" font-size="4.62" text-anchor="end" stroke="#000" stroke-width="0.1" dominant-baseline="central">Phosphatidylethanolamine biosynthesi</text>
<rect x="271" y="184.57" width="68" height="3.9" fill="#ef0e00" stroke="#6a3a1a" stroke-width="0.32"/>
<text x="269.2" y="186.62" font-size="4.62" text-anchor="end" stroke="#000" stroke-width="0.1" dominant-baseline="central">Methionine Metabolism</text>
<rect x="271" y="190.85" width="66.5" height="3.9" fill="#ef1300" stroke="#6a3a1a" stroke-width="0.32"/>
<text x="269.2" y="192.9" font-size="4.62" text-anchor="end" stroke="#000" stroke-width="0.1" dominant-baseline="central">Sphingolipid Metabolism</text>
<rect x="271" y="197.12" width="63.7" height="3.9" fill="#f01700" stroke="#6a3a1a" stroke-width="0.32"/>
<text x="269.2" y="199.17" font-size="4.62" text-anchor="end" stroke="#000" stroke-width="0.1" dominant-baseline="central">Ammonia Recycling</text>
<rect x="271" y="203.4" width="62.9" height="3.9" fill="#f01c00" stroke="#6a3a1a" stroke-width="0.32"/>
<text x="269.2" y="205.45" font-size="4.62" text-anchor="end" stroke="#000" stroke-width="0.1" dominant-baseline="central">Glycine and Serine Metabolism</text>
<rect x="271" y="209.68" width="55.6" height="3.9" fill="#f12500" stroke="#6a3a1a" stroke-width="0.32"/>
<text x="269.2" y="211.72" font-size="4.62" text-anchor="end" stroke="#000" stroke-width="0.1" dominant-baseline="central">Arginine and Proline Metabolism</text>
<rect x="271" y="215.95" width="54.6" height="3.9" fill="#f12d00" stroke="#6a3a1a" stroke-width="0.32"/>
<text x="269.2" y="218" font-size="4.62" text-anchor="end" stroke="#000" stroke-width="0.1" dominant-baseline="central">Nicotinate and Nicotinamide Metabolism</text>
<rect x="271" y="222.22" width="54.6" height="3.9" fill="#f23600" stroke="#6a3a1a" stroke-width="0.32"/>
<text x="269.2" y="224.27" font-size="4.62" text-anchor="end" stroke="#000" stroke-width="0.1" dominant-baseline="central">Amino Sugar Metabolism</text>
<rect x="271" y="228.5" width="54" height="3.9" fill="#f33f00" stroke="#6a3a1a" stroke-width="0.32"/>
<text x="269.2" y="230.55" font-size="4.62" text-anchor="end" stroke="#000" stroke-width="0.1" dominant-baseline="central">Alanine Metabolism</text>
<rect x="271" y="234.78" width="54" height="3.9" fill="#f34700" stroke="#6a3a1a" stroke-width="0.32"/>
<text x="269.2" y="236.82" font-size="4.62" text-anchor="end" stroke="#000" stroke-width="0.1" dominant-baseline="central">Glucose-Alanine Cycle</text>
<rect x="271" y="241.05" width="54" height="3.9" fill="#f45000" stroke="#6a3a1a" stroke-width="0.32"/>
<text x="269.2" y="243.1" font-size="4.62" text-anchor="end" stroke="#000" stroke-width="0.1" dominant-baseline="central">Histidine Metabolism</text>
<rect x="271" y="247.32" width="54" height="3.9" fill="#f45700" stroke="#6a3a1a" stroke-width="0.32"/>
<text x="269.2" y="249.37" font-size="4.62" text-anchor="end" stroke="#000" stroke-width="0.1" dominant-baseline="central">Folate Metabolism</text>
<rect x="271" y="253.6" width="54" height="3.9" fill="#f45f00" stroke="#6a3a1a" stroke-width="0.32"/>
<text x="269.2" y="255.65" font-size="4.62" text-anchor="end" stroke="#000" stroke-width="0.1" dominant-baseline="central">Propanoate Metabolism</text>
<rect x="271" y="259.88" width="54.2" height="3.9" fill="#f46600" stroke="#6a3a1a" stroke-width="0.32"/>
<text x="269.2" y="261.93" font-size="4.62" text-anchor="end" stroke="#000" stroke-width="0.1" dominant-baseline="central">Cysteine Metabolism</text>
<rect x="271" y="266.15" width="54" height="3.9" fill="#f56d00" stroke="#6a3a1a" stroke-width="0.32"/>
<text x="269.2" y="268.2" font-size="4.62" text-anchor="end" stroke="#000" stroke-width="0.1" dominant-baseline="central">Phenylalanine and Tyrosine Metabolis</text>
<rect x="271" y="272.43" width="51.3" height="3.9" fill="#f57500" stroke="#6a3a1a" stroke-width="0.32"/>
<text x="269.2" y="274.48" font-size="4.62" text-anchor="end" stroke="#000" stroke-width="0.1" dominant-baseline="central">Malate-Aspartate Shuttle</text>
<rect x="271" y="278.7" width="46.8" height="3.9" fill="#f57c00" stroke="#6a3a1a" stroke-width="0.32"/>
<text x="269.2" y="280.75" font-size="4.62" text-anchor="end" stroke="#000" stroke-width="0.1" dominant-baseline="central">Urea Cycle</text>
<rect x="271" y="284.98" width="50.5" height="3.9" fill="#f58300" stroke="#6a3a1a" stroke-width="0.32"/>
<text x="269.2" y="287.03" font-size="4.62" text-anchor="end" stroke="#000" stroke-width="0.1" dominant-baseline="central">Tyrosine Metabolism</text>
<rect x="271" y="291.25" width="45.2" height="3.9" fill="#f68a00" stroke="#6a3a1a" stroke-width="0.32"/>
<text x="269.2" y="293.3" font-size="4.62" text-anchor="end" stroke="#000" stroke-width="0.1" dominant-baseline="central">Aspartate Metabolism</text>
<rect x="271" y="297.53" width="49.3" height="3.9" fill="#f69100" stroke="#6a3a1a" stroke-width="0.32"/>
<text x="269.2" y="299.58" font-size="4.62" text-anchor="end" stroke="#000" stroke-width="0.1" dominant-baseline="central">Warburg Effect</text>
<rect x="271" y="303.8" width="42.3" height="3.9" fill="#f69800" stroke="#6a3a1a" stroke-width="0.32"/>
<text x="269.2" y="305.85" font-size="4.62" text-anchor="end" stroke="#000" stroke-width="0.1" dominant-baseline="central">Betaine Metabolism</text>
<rect x="271" y="310.07" width="46.4" height="3.9" fill="#f79f00" stroke="#6a3a1a" stroke-width="0.32"/>
<text x="269.2" y="312.12" font-size="4.62" text-anchor="end" stroke="#000" stroke-width="0.1" dominant-baseline="central">Spermidine and Spermine Biosynthes</text>
<rect x="271" y="316.35" width="33.2" height="3.9" fill="#f7a600" stroke="#6a3a1a" stroke-width="0.32"/>
<text x="269.2" y="318.4" font-size="4.62" text-anchor="end" stroke="#000" stroke-width="0.1" dominant-baseline="central">Mitochondrial Beta-Oxidation</text>
<line x1="270.9" y1="325.6" x2="335.9" y2="325.6" stroke="#555" stroke-width="0.4"/>
<line x1="270.9" y1="325.6" x2="270.9" y2="327.2" stroke="#555" stroke-width="0.4"/>
<text x="270.9" y="331.4" font-size="4.2" text-anchor="middle" fill="#333" stroke="#333" stroke-width="0.1" dominant-baseline="central">0</text>
<line x1="287.15" y1="325.6" x2="287.15" y2="327.2" stroke="#555" stroke-width="0.4"/>
<text x="287.15" y="331.4" font-size="4.2" text-anchor="middle" fill="#333" stroke="#333" stroke-width="0.1" dominant-baseline="central">1</text>
<line x1="303.4" y1="325.6" x2="303.4" y2="327.2" stroke="#555" stroke-width="0.4"/>
<text x="303.4" y="331.4" font-size="4.2" text-anchor="middle" fill="#333" stroke="#333" stroke-width="0.1" dominant-baseline="central">2</text>
<line x1="319.65" y1="325.6" x2="319.65" y2="327.2" stroke="#555" stroke-width="0.4"/>
<text x="319.65" y="331.4" font-size="4.2" text-anchor="middle" fill="#333" stroke="#333" stroke-width="0.1" dominant-baseline="central">3</text>
<line x1="335.9" y1="325.6" x2="335.9" y2="327.2" stroke="#555" stroke-width="0.4"/>
<text x="335.9" y="331.4" font-size="4.2" text-anchor="middle" fill="#333" stroke="#333" stroke-width="0.1" dominant-baseline="central">4</text>
<text x="302.3" y="337.9" font-size="4.6" text-anchor="middle" fill="#222" stroke="#222" stroke-width="0.1" dominant-baseline="central">Enrichment Ratio</text>
<defs><linearGradient id="gF" x1="0" y1="0" x2="0" y2="1"><stop offset="0" stop-color="#ee0000"/><stop offset="0.5" stop-color="#f45000"/><stop offset="1" stop-color="#f7a600"/></linearGradient></defs>
<rect x="347.2" y="209.3" width="4" height="66.4" fill="url(#gF)" stroke="#5a3a2a" stroke-width="0.25"/>
<text x="355.6" y="212" font-size="3.7" fill="#222" textLength="11.2" lengthAdjust="spacingAndGlyphs" stroke="#222" stroke-width="0.1" dominant-baseline="central">5e-02</text>
<text x="355.6" y="243" font-size="3.7" fill="#222" textLength="11.2" lengthAdjust="spacingAndGlyphs" stroke="#222" stroke-width="0.1" dominant-baseline="central">4e-02</text>
<text x="355.6" y="275" font-size="3.7" fill="#222" textLength="11.2" lengthAdjust="spacingAndGlyphs" stroke="#222" stroke-width="0.1" dominant-baseline="central">8e-02</text>
<text x="397.6" y="159.6" font-size="11" font-weight="bold" dominant-baseline="central">G</text>
<g transform="translate(377 181.6) scale(1)">
<path d="M23.7,18.9 C30,19.3 38,19.0 42,19.9 C46,20.9 47.8,23 47.6,24.6" fill="none" stroke="#e6a2a2" stroke-width="0.95"/>
<rect x="6.2" y="18.9" width="16.8" height="0.9" fill="#ebb2b2"/>
<ellipse cx="16.8" cy="11" rx="9.6" ry="8.6" fill="#e6e3e1" stroke="#d2ccc8" stroke-width="0.4"/>
<ellipse cx="6.6" cy="7.6" rx="6.3" ry="5.6" fill="#e9e6e4" stroke="#d6d0cc" stroke-width="0.3" transform="rotate(-15 6.6 7.6)"/>
<circle cx="6" cy="1.7" r="1.4" fill="#ece2e0"/>
<ellipse cx="9.7" cy="2.9" rx="1.6" ry="2" fill="#efb6b6" stroke="#e0a8a8" stroke-width="0.2"/>
<circle cx="4" cy="6.6" r="0.55" fill="#c85050"/>
<circle cx="0.5" cy="9.2" r="0.6" fill="#eaa5a5"/>
<ellipse cx="3.6" cy="12.3" rx="1.4" ry="0.95" fill="#eeb0b0"/>
<ellipse cx="8.5" cy="14.5" rx="1.2" ry="1" fill="#dcd6d2"/>
</g>
<line x1="390.5" y1="207.7" x2="390.5" y2="260" stroke="#444" stroke-width="0.55"/>
<polygon points="390.5,261.5 389.4,259.1 391.6,259.1" fill="#2a2a2a"/>
<text x="384.7" y="213.7" font-size="6.71" text-anchor="middle" fill="#333" dominant-baseline="central">0</text>
<line x1="393.9" y1="213.3" x2="407.9" y2="213.3" stroke="#2a2e20" stroke-width="1.1"/>
<text x="413" y="213.9" font-size="6.85" fill="#1a1a1a" textLength="59.7" lengthAdjust="spacingAndGlyphs" dominant-baseline="central">Sacrifice and isolate</text>
<text x="442.9" y="221.2" font-size="6.85" text-anchor="middle" fill="#1a1a1a" textLength="39.8" lengthAdjust="spacingAndGlyphs" dominant-baseline="central">macrophages</text>
<text x="384.7" y="233.2" font-size="6.71" text-anchor="middle" fill="#333" dominant-baseline="central">0</text>
<line x1="393.9" y1="232.8" x2="407.9" y2="232.8" stroke="#262a5a" stroke-width="1.1"/>
<text x="412" y="232.9" font-size="6.85" fill="#1a1a1a" textLength="30.7" lengthAdjust="spacingAndGlyphs" dominant-baseline="central">Plate Cells</text>
<text x="384.7" y="250.7" font-size="6.71" text-anchor="middle" fill="#333" dominant-baseline="central">1</text>
<line x1="393.9" y1="250.3" x2="407.9" y2="250.3" stroke="#262a5a" stroke-width="1.1"/>
<text x="412.3" y="250.5" font-size="6.85" fill="#1a1a1a" textLength="61.2" lengthAdjust="spacingAndGlyphs" dominant-baseline="central">18h WPG stimulation</text>
<text x="459" y="159.6" font-size="11" font-weight="bold" dominant-baseline="central">H</text>
<line x1="518.8" y1="159.5" x2="518.8" y2="224.3" stroke="#8a8a8a" stroke-width="0.55" stroke-dasharray="1.8 0.8"/>
<line x1="538.3" y1="159.5" x2="538.3" y2="224.3" stroke="#8a8a8a" stroke-width="0.55" stroke-dasharray="1.8 0.8"/>
<line x1="557.7" y1="159.5" x2="557.7" y2="224.3" stroke="#8a8a8a" stroke-width="0.55" stroke-dasharray="1.8 0.8"/>
<text x="519.7" y="156.8" font-size="5" text-anchor="middle" fill="#222" dominant-baseline="central">Oligo</text>
<text x="538.5" y="156.8" font-size="5" text-anchor="middle" fill="#222" dominant-baseline="central">FCCP</text>
<text x="564.6" y="156.8" font-size="5" text-anchor="middle" fill="#222" dominant-baseline="central">Anti-A+Roto</text>
<line x1="501.5" y1="199.34" x2="501.5" y2="201.56" stroke="#111111" stroke-width="0.45" stroke-opacity="0.8"/>
<line x1="500.4" y1="199.34" x2="502.6" y2="199.34" stroke="#111111" stroke-width="0.45" stroke-opacity="0.8"/>
<line x1="500.4" y1="201.56" x2="502.6" y2="201.56" stroke="#111111" stroke-width="0.45" stroke-opacity="0.8"/>
<line x1="508.29" y1="201.25" x2="508.29" y2="203.47" stroke="#111111" stroke-width="0.45" stroke-opacity="0.8"/>
<line x1="507.19" y1="201.25" x2="509.39" y2="201.25" stroke="#111111" stroke-width="0.45" stroke-opacity="0.8"/>
<line x1="507.19" y1="203.47" x2="509.39" y2="203.47" stroke="#111111" stroke-width="0.45" stroke-opacity="0.8"/>
<line x1="515.08" y1="203.47" x2="515.08" y2="205.7" stroke="#111111" stroke-width="0.45" stroke-opacity="0.8"/>
<line x1="513.98" y1="203.47" x2="516.18" y2="203.47" stroke="#111111" stroke-width="0.45" stroke-opacity="0.8"/>
<line x1="513.98" y1="205.7" x2="516.18" y2="205.7" stroke="#111111" stroke-width="0.45" stroke-opacity="0.8"/>
<line x1="521.87" y1="210.79" x2="521.87" y2="213.01" stroke="#111111" stroke-width="0.45" stroke-opacity="0.8"/>
<line x1="520.77" y1="210.79" x2="522.97" y2="210.79" stroke="#111111" stroke-width="0.45" stroke-opacity="0.8"/>
<line x1="520.77" y1="213.01" x2="522.97" y2="213.01" stroke="#111111" stroke-width="0.45" stroke-opacity="0.8"/>
<line x1="528.66" y1="210.47" x2="528.66" y2="212.69" stroke="#111111" stroke-width="0.45" stroke-opacity="0.8"/>
<line x1="527.56" y1="210.47" x2="529.76" y2="210.47" stroke="#111111" stroke-width="0.45" stroke-opacity="0.8"/>
<line x1="527.56" y1="212.69" x2="529.76" y2="212.69" stroke="#111111" stroke-width="0.45" stroke-opacity="0.8"/>
<line x1="535.45" y1="211.74" x2="535.45" y2="213.97" stroke="#111111" stroke-width="0.45" stroke-opacity="0.8"/>
<line x1="534.35" y1="211.74" x2="536.55" y2="211.74" stroke="#111111" stroke-width="0.45" stroke-opacity="0.8"/>
<line x1="534.35" y1="213.97" x2="536.55" y2="213.97" stroke="#111111" stroke-width="0.45" stroke-opacity="0.8"/>
<line x1="542.24" y1="201.56" x2="542.24" y2="203.79" stroke="#111111" stroke-width="0.45" stroke-opacity="0.8"/>
<line x1="541.14" y1="201.56" x2="543.34" y2="201.56" stroke="#111111" stroke-width="0.45" stroke-opacity="0.8"/>
<line x1="541.14" y1="203.79" x2="543.34" y2="203.79" stroke="#111111" stroke-width="0.45" stroke-opacity="0.8"/>
<line x1="549.03" y1="200.61" x2="549.03" y2="202.84" stroke="#111111" stroke-width="0.45" stroke-opacity="0.8"/>
<line x1="547.93" y1="200.61" x2="550.13" y2="200.61" stroke="#111111" stroke-width="0.45" stroke-opacity="0.8"/>
<line x1="547.93" y1="202.84" x2="550.13" y2="202.84" stroke="#111111" stroke-width="0.45" stroke-opacity="0.8"/>
<line x1="555.82" y1="200.93" x2="555.82" y2="203.15" stroke="#111111" stroke-width="0.45" stroke-opacity="0.8"/>
<line x1="554.72" y1="200.93" x2="556.92" y2="200.93" stroke="#111111" stroke-width="0.45" stroke-opacity="0.8"/>
<line x1="554.72" y1="203.15" x2="556.92" y2="203.15" stroke="#111111" stroke-width="0.45" stroke-opacity="0.8"/>
<line x1="562.61" y1="213.01" x2="562.61" y2="215.24" stroke="#111111" stroke-width="0.45" stroke-opacity="0.8"/>
<line x1="561.51" y1="213.01" x2="563.71" y2="213.01" stroke="#111111" stroke-width="0.45" stroke-opacity="0.8"/>
<line x1="561.51" y1="215.24" x2="563.71" y2="215.24" stroke="#111111" stroke-width="0.45" stroke-opacity="0.8"/>
<line x1="569.4" y1="214.28" x2="569.4" y2="216.51" stroke="#111111" stroke-width="0.45" stroke-opacity="0.8"/>
<line x1="568.3" y1="214.28" x2="570.5" y2="214.28" stroke="#111111" stroke-width="0.45" stroke-opacity="0.8"/>
<line x1="568.3" y1="216.51" x2="570.5" y2="216.51" stroke="#111111" stroke-width="0.45" stroke-opacity="0.8"/>
<line x1="576.19" y1="214.6" x2="576.19" y2="216.83" stroke="#111111" stroke-width="0.45" stroke-opacity="0.8"/>
<line x1="575.09" y1="214.6" x2="577.29" y2="214.6" stroke="#111111" stroke-width="0.45" stroke-opacity="0.8"/>
<line x1="575.09" y1="216.83" x2="577.29" y2="216.83" stroke="#111111" stroke-width="0.45" stroke-opacity="0.8"/>
<path d="M501.5,200.45 C502.59,200.76 506.12,201.7 508.29,202.36 C510.46,203.02 512.91,203.06 515.08,204.58 C517.25,206.11 519.7,210.78 521.87,211.9 C524.04,213.02 526.49,211.43 528.66,211.58 C530.83,211.73 533.28,214.28 535.45,212.85 C537.62,211.43 540.07,204.46 542.24,202.68 C544.41,200.9 546.86,201.82 549.03,201.72 C551.2,201.62 553.65,200.06 555.82,202.04 C557.99,204.02 560.44,211.99 562.61,214.12 C564.78,216.26 567.23,215.14 569.4,215.4 C571.57,215.65 575.1,215.66 576.19,215.71" fill="none" stroke="#111111" stroke-width="0.6"/>
<rect x="500.24" y="199.19" width="2.52" height="2.52" fill="#000000"/>
<rect x="507.03" y="201.1" width="2.52" height="2.52" fill="#000000"/>
<rect x="513.82" y="203.32" width="2.52" height="2.52" fill="#000000"/>
<rect x="520.61" y="210.64" width="2.52" height="2.52" fill="#000000"/>
<rect x="527.4" y="210.32" width="2.52" height="2.52" fill="#000000"/>
<rect x="534.19" y="211.59" width="2.52" height="2.52" fill="#000000"/>
<rect x="540.98" y="201.42" width="2.52" height="2.52" fill="#000000"/>
<rect x="547.77" y="200.46" width="2.52" height="2.52" fill="#000000"/>
<rect x="554.56" y="200.78" width="2.52" height="2.52" fill="#000000"/>
<rect x="561.35" y="212.86" width="2.52" height="2.52" fill="#000000"/>
<rect x="568.14" y="214.14" width="2.52" height="2.52" fill="#000000"/>
<rect x="574.93" y="214.45" width="2.52" height="2.52" fill="#000000"/>
<line x1="501.5" y1="190.59" x2="501.5" y2="194.41" stroke="#f03c82" stroke-width="0.45" stroke-opacity="0.8"/>
<line x1="500.4" y1="190.59" x2="502.6" y2="190.59" stroke="#f03c82" stroke-width="0.45" stroke-opacity="0.8"/>
<line x1="500.4" y1="194.41" x2="502.6" y2="194.41" stroke="#f03c82" stroke-width="0.45" stroke-opacity="0.8"/>
<line x1="508.29" y1="191.55" x2="508.29" y2="195.36" stroke="#f03c82" stroke-width="0.45" stroke-opacity="0.8"/>
<line x1="507.19" y1="191.55" x2="509.39" y2="191.55" stroke="#f03c82" stroke-width="0.45" stroke-opacity="0.8"/>
<line x1="507.19" y1="195.36" x2="509.39" y2="195.36" stroke="#f03c82" stroke-width="0.45" stroke-opacity="0.8"/>
<line x1="515.08" y1="190.59" x2="515.08" y2="194.41" stroke="#f03c82" stroke-width="0.45" stroke-opacity="0.8"/>
<line x1="513.98" y1="190.59" x2="516.18" y2="190.59" stroke="#f03c82" stroke-width="0.45" stroke-opacity="0.8"/>
<line x1="513.98" y1="194.41" x2="516.18" y2="194.41" stroke="#f03c82" stroke-width="0.45" stroke-opacity="0.8"/>
<line x1="521.87" y1="203.31" x2="521.87" y2="207.13" stroke="#f03c82" stroke-width="0.45" stroke-opacity="0.8"/>
<line x1="520.77" y1="203.31" x2="522.97" y2="203.31" stroke="#f03c82" stroke-width="0.45" stroke-opacity="0.8"/>
<line x1="520.77" y1="207.13" x2="522.97" y2="207.13" stroke="#f03c82" stroke-width="0.45" stroke-opacity="0.8"/>
<line x1="528.66" y1="203.95" x2="528.66" y2="207.76" stroke="#f03c82" stroke-width="0.45" stroke-opacity="0.8"/>
<line x1="527.56" y1="203.95" x2="529.76" y2="203.95" stroke="#f03c82" stroke-width="0.45" stroke-opacity="0.8"/>
<line x1="527.56" y1="207.76" x2="529.76" y2="207.76" stroke="#f03c82" stroke-width="0.45" stroke-opacity="0.8"/>
<line x1="535.45" y1="205.54" x2="535.45" y2="209.35" stroke="#f03c82" stroke-width="0.45" stroke-opacity="0.8"/>
<line x1="534.35" y1="205.54" x2="536.55" y2="205.54" stroke="#f03c82" stroke-width="0.45" stroke-opacity="0.8"/>
<line x1="534.35" y1="209.35" x2="536.55" y2="209.35" stroke="#f03c82" stroke-width="0.45" stroke-opacity="0.8"/>
<line x1="542.24" y1="190.27" x2="542.24" y2="194.09" stroke="#f03c82" stroke-width="0.45" stroke-opacity="0.8"/>
<line x1="541.14" y1="190.27" x2="543.34" y2="190.27" stroke="#f03c82" stroke-width="0.45" stroke-opacity="0.8"/>
<line x1="541.14" y1="194.09" x2="543.34" y2="194.09" stroke="#f03c82" stroke-width="0.45" stroke-opacity="0.8"/>
<line x1="549.03" y1="187.73" x2="549.03" y2="191.55" stroke="#f03c82" stroke-width="0.45" stroke-opacity="0.8"/>
<line x1="547.93" y1="187.73" x2="550.13" y2="187.73" stroke="#f03c82" stroke-width="0.45" stroke-opacity="0.8"/>
<line x1="547.93" y1="191.55" x2="550.13" y2="191.55" stroke="#f03c82" stroke-width="0.45" stroke-opacity="0.8"/>
<line x1="555.82" y1="186.46" x2="555.82" y2="190.27" stroke="#f03c82" stroke-width="0.45" stroke-opacity="0.8"/>
<line x1="554.72" y1="186.46" x2="556.92" y2="186.46" stroke="#f03c82" stroke-width="0.45" stroke-opacity="0.8"/>
<line x1="554.72" y1="190.27" x2="556.92" y2="190.27" stroke="#f03c82" stroke-width="0.45" stroke-opacity="0.8"/>
<line x1="562.61" y1="204.58" x2="562.61" y2="208.4" stroke="#f03c82" stroke-width="0.45" stroke-opacity="0.8"/>
<line x1="561.51" y1="204.58" x2="563.71" y2="204.58" stroke="#f03c82" stroke-width="0.45" stroke-opacity="0.8"/>
<line x1="561.51" y1="208.4" x2="563.71" y2="208.4" stroke="#f03c82" stroke-width="0.45" stroke-opacity="0.8"/>
<line x1="569.4" y1="207.45" x2="569.4" y2="211.26" stroke="#f03c82" stroke-width="0.45" stroke-opacity="0.8"/>
<line x1="568.3" y1="207.45" x2="570.5" y2="207.45" stroke="#f03c82" stroke-width="0.45" stroke-opacity="0.8"/>
<line x1="568.3" y1="211.26" x2="570.5" y2="211.26" stroke="#f03c82" stroke-width="0.45" stroke-opacity="0.8"/>
<line x1="576.19" y1="209.04" x2="576.19" y2="212.85" stroke="#f03c82" stroke-width="0.45" stroke-opacity="0.8"/>
<line x1="575.09" y1="209.04" x2="577.29" y2="209.04" stroke="#f03c82" stroke-width="0.45" stroke-opacity="0.8"/>
<line x1="575.09" y1="212.85" x2="577.29" y2="212.85" stroke="#f03c82" stroke-width="0.45" stroke-opacity="0.8"/>
<path d="M501.5,192.5 C502.59,192.65 506.12,193.45 508.29,193.45 C510.46,193.45 512.91,190.62 515.08,192.5 C517.25,194.38 519.7,203.08 521.87,205.22 C524.04,207.36 526.49,205.5 528.66,205.86 C530.83,206.21 533.28,209.63 535.45,207.45 C537.62,205.26 540.07,195.03 542.24,192.18 C544.41,189.33 546.86,190.25 549.03,189.64 C551.2,189.03 553.65,185.67 555.82,188.37 C557.99,191.06 560.44,203.13 562.61,206.49 C564.78,209.85 567.23,208.64 569.4,209.35 C571.57,210.07 575.1,210.69 576.19,210.94" fill="none" stroke="#f03c82" stroke-width="0.6"/>
<polygon points="501.5,191.03 500.13,193.55 502.87,193.55" fill="#ee2f78"/>
<polygon points="508.29,191.98 506.93,194.5 509.66,194.5" fill="#ee2f78"/>
<polygon points="515.08,191.03 513.72,193.55 516.45,193.55" fill="#ee2f78"/>
<polygon points="521.87,203.75 520.5,206.27 523.24,206.27" fill="#ee2f78"/>
<polygon points="528.66,204.39 527.29,206.91 530.02,206.91" fill="#ee2f78"/>
<polygon points="535.45,205.98 534.09,208.5 536.82,208.5" fill="#ee2f78"/>
<polygon points="542.24,190.71 540.88,193.23 543.61,193.23" fill="#ee2f78"/>
<polygon points="549.03,188.17 547.66,190.69 550.39,190.69" fill="#ee2f78"/>
<polygon points="555.82,186.9 554.46,189.42 557.19,189.42" fill="#ee2f78"/>
<polygon points="562.61,205.02 561.25,207.54 563.98,207.54" fill="#ee2f78"/>
<polygon points="569.4,207.88 568.03,210.4 570.76,210.4" fill="#ee2f78"/>
<polygon points="576.19,209.47 574.83,211.99 577.56,211.99" fill="#ee2f78"/>
<line x1="501.5" y1="187.41" x2="501.5" y2="190.59" stroke="#1a9e9e" stroke-width="0.45" stroke-opacity="0.8"/>
<line x1="500.4" y1="187.41" x2="502.6" y2="187.41" stroke="#1a9e9e" stroke-width="0.45" stroke-opacity="0.8"/>
<line x1="500.4" y1="190.59" x2="502.6" y2="190.59" stroke="#1a9e9e" stroke-width="0.45" stroke-opacity="0.8"/>
<line x1="508.29" y1="187.73" x2="508.29" y2="190.91" stroke="#1a9e9e" stroke-width="0.45" stroke-opacity="0.8"/>
<line x1="507.19" y1="187.73" x2="509.39" y2="187.73" stroke="#1a9e9e" stroke-width="0.45" stroke-opacity="0.8"/>
<line x1="507.19" y1="190.91" x2="509.39" y2="190.91" stroke="#1a9e9e" stroke-width="0.45" stroke-opacity="0.8"/>
<line x1="515.08" y1="189" x2="515.08" y2="192.18" stroke="#1a9e9e" stroke-width="0.45" stroke-opacity="0.8"/>
<line x1="513.98" y1="189" x2="516.18" y2="189" stroke="#1a9e9e" stroke-width="0.45" stroke-opacity="0.8"/>
<line x1="513.98" y1="192.18" x2="516.18" y2="192.18" stroke="#1a9e9e" stroke-width="0.45" stroke-opacity="0.8"/>
<line x1="521.87" y1="202.04" x2="521.87" y2="205.22" stroke="#1a9e9e" stroke-width="0.45" stroke-opacity="0.8"/>
<line x1="520.77" y1="202.04" x2="522.97" y2="202.04" stroke="#1a9e9e" stroke-width="0.45" stroke-opacity="0.8"/>
<line x1="520.77" y1="205.22" x2="522.97" y2="205.22" stroke="#1a9e9e" stroke-width="0.45" stroke-opacity="0.8"/>
<line x1="528.66" y1="202.04" x2="528.66" y2="205.22" stroke="#1a9e9e" stroke-width="0.45" stroke-opacity="0.8"/>
<line x1="527.56" y1="202.04" x2="529.76" y2="202.04" stroke="#1a9e9e" stroke-width="0.45" stroke-opacity="0.8"/>
<line x1="527.56" y1="205.22" x2="529.76" y2="205.22" stroke="#1a9e9e" stroke-width="0.45" stroke-opacity="0.8"/>
<line x1="535.45" y1="202.99" x2="535.45" y2="206.17" stroke="#1a9e9e" stroke-width="0.45" stroke-opacity="0.8"/>
<line x1="534.35" y1="202.99" x2="536.55" y2="202.99" stroke="#1a9e9e" stroke-width="0.45" stroke-opacity="0.8"/>
<line x1="534.35" y1="206.17" x2="536.55" y2="206.17" stroke="#1a9e9e" stroke-width="0.45" stroke-opacity="0.8"/>
<line x1="542.24" y1="186.46" x2="542.24" y2="189.64" stroke="#1a9e9e" stroke-width="0.45" stroke-opacity="0.8"/>
<line x1="541.14" y1="186.46" x2="543.34" y2="186.46" stroke="#1a9e9e" stroke-width="0.45" stroke-opacity="0.8"/>
<line x1="541.14" y1="189.64" x2="543.34" y2="189.64" stroke="#1a9e9e" stroke-width="0.45" stroke-opacity="0.8"/>
<line x1="549.03" y1="183.6" x2="549.03" y2="186.78" stroke="#1a9e9e" stroke-width="0.45" stroke-opacity="0.8"/>
<line x1="547.93" y1="183.6" x2="550.13" y2="183.6" stroke="#1a9e9e" stroke-width="0.45" stroke-opacity="0.8"/>
<line x1="547.93" y1="186.78" x2="550.13" y2="186.78" stroke="#1a9e9e" stroke-width="0.45" stroke-opacity="0.8"/>
<line x1="555.82" y1="182.01" x2="555.82" y2="185.19" stroke="#1a9e9e" stroke-width="0.45" stroke-opacity="0.8"/>
<line x1="554.72" y1="182.01" x2="556.92" y2="182.01" stroke="#1a9e9e" stroke-width="0.45" stroke-opacity="0.8"/>
<line x1="554.72" y1="185.19" x2="556.92" y2="185.19" stroke="#1a9e9e" stroke-width="0.45" stroke-opacity="0.8"/>
<line x1="562.61" y1="202.68" x2="562.61" y2="205.86" stroke="#1a9e9e" stroke-width="0.45" stroke-opacity="0.8"/>
<line x1="561.51" y1="202.68" x2="563.71" y2="202.68" stroke="#1a9e9e" stroke-width="0.45" stroke-opacity="0.8"/>
<line x1="561.51" y1="205.86" x2="563.71" y2="205.86" stroke="#1a9e9e" stroke-width="0.45" stroke-opacity="0.8"/>
<line x1="569.4" y1="205.54" x2="569.4" y2="208.72" stroke="#1a9e9e" stroke-width="0.45" stroke-opacity="0.8"/>
<line x1="568.3" y1="205.54" x2="570.5" y2="205.54" stroke="#1a9e9e" stroke-width="0.45" stroke-opacity="0.8"/>
<line x1="568.3" y1="208.72" x2="570.5" y2="208.72" stroke="#1a9e9e" stroke-width="0.45" stroke-opacity="0.8"/>
<line x1="576.19" y1="206.17" x2="576.19" y2="209.35" stroke="#1a9e9e" stroke-width="0.45" stroke-opacity="0.8"/>
<line x1="575.09" y1="206.17" x2="577.29" y2="206.17" stroke="#1a9e9e" stroke-width="0.45" stroke-opacity="0.8"/>
<line x1="575.09" y1="209.35" x2="577.29" y2="209.35" stroke="#1a9e9e" stroke-width="0.45" stroke-opacity="0.8"/>
<path d="M501.5,189 C502.59,189.05 506.12,189.07 508.29,189.32 C510.46,189.57 512.91,188.3 515.08,190.59 C517.25,192.88 519.7,201.54 521.87,203.63 C524.04,205.72 526.49,203.48 528.66,203.63 C530.83,203.78 533.28,207.08 535.45,204.58 C537.62,202.09 540.07,191.15 542.24,188.05 C544.41,184.94 546.86,185.9 549.03,185.19 C551.2,184.47 553.65,180.54 555.82,183.6 C557.99,186.65 560.44,200.5 562.61,204.27 C564.78,208.03 567.23,206.57 569.4,207.13 C571.57,207.69 575.1,207.66 576.19,207.76" fill="none" stroke="#1a9e9e" stroke-width="0.6"/>
<polygon points="501.5,190.47 500.13,187.95 502.87,187.95" fill="#118f8f"/>
<polygon points="508.29,190.79 506.93,188.27 509.66,188.27" fill="#118f8f"/>
<polygon points="515.08,192.06 513.72,189.54 516.45,189.54" fill="#118f8f"/>
<polygon points="521.87,205.1 520.5,202.58 523.24,202.58" fill="#118f8f"/>
<polygon points="528.66,205.1 527.29,202.58 530.02,202.58" fill="#118f8f"/>
<polygon points="535.45,206.05 534.09,203.53 536.82,203.53" fill="#118f8f"/>
<polygon points="542.24,189.52 540.88,187 543.61,187" fill="#118f8f"/>
<polygon points="549.03,186.66 547.66,184.14 550.39,184.14" fill="#118f8f"/>
<polygon points="555.82,185.07 554.46,182.55 557.19,182.55" fill="#118f8f"/>
<polygon points="562.61,205.74 561.25,203.22 563.98,203.22" fill="#118f8f"/>
<polygon points="569.4,208.6 568.03,206.08 570.76,206.08" fill="#118f8f"/>
<polygon points="576.19,209.23 574.83,206.71 577.56,206.71" fill="#118f8f"/>
<line x1="501.5" y1="168.01" x2="501.5" y2="177.55" stroke="#6a32b0" stroke-width="0.45" stroke-opacity="0.8"/>
<line x1="500.4" y1="168.01" x2="502.6" y2="168.01" stroke="#6a32b0" stroke-width="0.45" stroke-opacity="0.8"/>
<line x1="500.4" y1="177.55" x2="502.6" y2="177.55" stroke="#6a32b0" stroke-width="0.45" stroke-opacity="0.8"/>
<line x1="508.29" y1="165.79" x2="508.29" y2="174.69" stroke="#6a32b0" stroke-width="0.45" stroke-opacity="0.8"/>
<line x1="507.19" y1="165.79" x2="509.39" y2="165.79" stroke="#6a32b0" stroke-width="0.45" stroke-opacity="0.8"/>
<line x1="507.19" y1="174.69" x2="509.39" y2="174.69" stroke="#6a32b0" stroke-width="0.45" stroke-opacity="0.8"/>
<line x1="515.08" y1="168.01" x2="515.08" y2="177.55" stroke="#6a32b0" stroke-width="0.45" stroke-opacity="0.8"/>
<line x1="513.98" y1="168.01" x2="516.18" y2="168.01" stroke="#6a32b0" stroke-width="0.45" stroke-opacity="0.8"/>
<line x1="513.98" y1="177.55" x2="516.18" y2="177.55" stroke="#6a32b0" stroke-width="0.45" stroke-opacity="0.8"/>
<line x1="521.87" y1="189" x2="521.87" y2="194.73" stroke="#6a32b0" stroke-width="0.45" stroke-opacity="0.8"/>
<line x1="520.77" y1="189" x2="522.97" y2="189" stroke="#6a32b0" stroke-width="0.45" stroke-opacity="0.8"/>
<line x1="520.77" y1="194.73" x2="522.97" y2="194.73" stroke="#6a32b0" stroke-width="0.45" stroke-opacity="0.8"/>
<line x1="528.66" y1="191.86" x2="528.66" y2="197.59" stroke="#6a32b0" stroke-width="0.45" stroke-opacity="0.8"/>
<line x1="527.56" y1="191.86" x2="529.76" y2="191.86" stroke="#6a32b0" stroke-width="0.45" stroke-opacity="0.8"/>
<line x1="527.56" y1="197.59" x2="529.76" y2="197.59" stroke="#6a32b0" stroke-width="0.45" stroke-opacity="0.8"/>
<line x1="535.45" y1="192.82" x2="535.45" y2="197.91" stroke="#6a32b0" stroke-width="0.45" stroke-opacity="0.8"/>
<line x1="534.35" y1="192.82" x2="536.55" y2="192.82" stroke="#6a32b0" stroke-width="0.45" stroke-opacity="0.8"/>
<line x1="534.35" y1="197.91" x2="536.55" y2="197.91" stroke="#6a32b0" stroke-width="0.45" stroke-opacity="0.8"/>
<line x1="542.24" y1="172.15" x2="542.24" y2="181.69" stroke="#6a32b0" stroke-width="0.45" stroke-opacity="0.8"/>
<line x1="541.14" y1="172.15" x2="543.34" y2="172.15" stroke="#6a32b0" stroke-width="0.45" stroke-opacity="0.8"/>
<line x1="541.14" y1="181.69" x2="543.34" y2="181.69" stroke="#6a32b0" stroke-width="0.45" stroke-opacity="0.8"/>
<line x1="549.03" y1="169.29" x2="549.03" y2="180.1" stroke="#6a32b0" stroke-width="0.45" stroke-opacity="0.8"/>
<line x1="547.93" y1="169.29" x2="550.13" y2="169.29" stroke="#6a32b0" stroke-width="0.45" stroke-opacity="0.8"/>
<line x1="547.93" y1="180.1" x2="550.13" y2="180.1" stroke="#6a32b0" stroke-width="0.45" stroke-opacity="0.8"/>
<line x1="555.82" y1="163.24" x2="555.82" y2="177.24" stroke="#6a32b0" stroke-width="0.45" stroke-opacity="0.8"/>
<line x1="554.72" y1="163.24" x2="556.92" y2="163.24" stroke="#6a32b0" stroke-width="0.45" stroke-opacity="0.8"/>
<line x1="554.72" y1="177.24" x2="556.92" y2="177.24" stroke="#6a32b0" stroke-width="0.45" stroke-opacity="0.8"/>
<line x1="562.61" y1="195.04" x2="562.61" y2="200.13" stroke="#6a32b0" stroke-width="0.45" stroke-opacity="0.8"/>
<line x1="561.51" y1="195.04" x2="563.71" y2="195.04" stroke="#6a32b0" stroke-width="0.45" stroke-opacity="0.8"/>
<line x1="561.51" y1="200.13" x2="563.71" y2="200.13" stroke="#6a32b0" stroke-width="0.45" stroke-opacity="0.8"/>
<line x1="569.4" y1="197.91" x2="569.4" y2="201.72" stroke="#6a32b0" stroke-width="0.45" stroke-opacity="0.8"/>
<line x1="568.3" y1="197.91" x2="570.5" y2="197.91" stroke="#6a32b0" stroke-width="0.45" stroke-opacity="0.8"/>
<line x1="568.3" y1="201.72" x2="570.5" y2="201.72" stroke="#6a32b0" stroke-width="0.45" stroke-opacity="0.8"/>
<line x1="576.19" y1="198.54" x2="576.19" y2="202.99" stroke="#6a32b0" stroke-width="0.45" stroke-opacity="0.8"/>
<line x1="575.09" y1="198.54" x2="577.29" y2="198.54" stroke="#6a32b0" stroke-width="0.45" stroke-opacity="0.8"/>
<line x1="575.09" y1="202.99" x2="577.29" y2="202.99" stroke="#6a32b0" stroke-width="0.45" stroke-opacity="0.8"/>
<path d="M501.5,172.78 C502.59,172.38 506.12,170.24 508.29,170.24 C510.46,170.24 512.91,169.32 515.08,172.78 C517.25,176.24 519.7,188.35 521.87,191.86 C524.04,195.37 526.49,194.17 528.66,194.73 C530.83,195.29 533.28,198.21 535.45,195.36 C537.62,192.51 540.07,180.23 542.24,176.92 C544.41,173.61 546.86,175.76 549.03,174.69 C551.2,173.62 553.65,166.58 555.82,170.24 C557.99,173.9 560.44,192.86 562.61,197.59 C564.78,202.32 567.23,199.31 569.4,199.81 C571.57,200.32 575.1,200.62 576.19,200.77" fill="none" stroke="#6a32b0" stroke-width="0.6"/>
<polygon points="501.5,171.42 500.35,172.78 501.5,174.15 502.65,172.78" fill="#4e1a98"/>
<polygon points="508.29,168.88 507.14,170.24 508.29,171.61 509.44,170.24" fill="#4e1a98"/>
<polygon points="515.08,171.42 513.93,172.78 515.08,174.15 516.24,172.78" fill="#4e1a98"/>
<polygon points="521.87,190.5 520.72,191.86 521.87,193.23 523.02,191.86" fill="#4e1a98"/>
<polygon points="528.66,193.36 527.5,194.73 528.66,196.09 529.81,194.73" fill="#4e1a98"/>
<polygon points="535.45,194 534.3,195.36 535.45,196.73 536.61,195.36" fill="#4e1a98"/>
<polygon points="542.24,175.55 541.09,176.92 542.24,178.28 543.39,176.92" fill="#4e1a98"/>
<polygon points="549.03,173.33 547.88,174.69 549.03,176.06 550.18,174.69" fill="#4e1a98"/>
<polygon points="555.82,168.88 554.67,170.24 555.82,171.61 556.98,170.24" fill="#4e1a98"/>
<polygon points="562.61,196.22 561.46,197.59 562.61,198.95 563.76,197.59" fill="#4e1a98"/>
<polygon points="569.4,198.45 568.25,199.81 569.4,201.18 570.55,199.81" fill="#4e1a98"/>
<polygon points="576.19,199.4 575.04,200.77 576.19,202.13 577.35,200.77" fill="#4e1a98"/>
<line x1="499.3" y1="160.3" x2="499.3" y2="224.75" stroke="#000" stroke-width="0.9"/>
<line x1="498.85" y1="224.3" x2="597" y2="224.3" stroke="#000" stroke-width="0.9"/>
<line x1="497.6" y1="224.3" x2="499.3" y2="224.3" stroke="#000" stroke-width="0.7"/>
<text x="497" y="224.3" font-size="4.7" text-anchor="end" font-weight="bold" fill="#111" dominant-baseline="central">0</text>
<line x1="497.6" y1="208.4" x2="499.3" y2="208.4" stroke="#000" stroke-width="0.7"/>
<text x="497" y="208.4" font-size="4.7" text-anchor="end" font-weight="bold" fill="#111" dominant-baseline="central">5</text>
<line x1="497.6" y1="192.5" x2="499.3" y2="192.5" stroke="#000" stroke-width="0.7"/>
<text x="497" y="192.5" font-size="4.7" text-anchor="end" font-weight="bold" fill="#111" dominant-baseline="central">10</text>
<line x1="497.6" y1="176.6" x2="499.3" y2="176.6" stroke="#000" stroke-width="0.7"/>
<text x="497" y="176.6" font-size="4.7" text-anchor="end" font-weight="bold" fill="#111" dominant-baseline="central">15</text>
<line x1="497.6" y1="160.7" x2="499.3" y2="160.7" stroke="#000" stroke-width="0.7"/>
<text x="497" y="160.7" font-size="4.7" text-anchor="end" font-weight="bold" fill="#111" dominant-baseline="central">20</text>
<line x1="499.3" y1="224.3" x2="499.3" y2="226" stroke="#000" stroke-width="0.7"/>
<text x="499.3" y="231.3" font-size="4.7" text-anchor="middle" font-weight="bold" fill="#111" dominant-baseline="central">0</text>
<line x1="518.76" y1="224.3" x2="518.76" y2="226" stroke="#000" stroke-width="0.7"/>
<text x="518.76" y="231.3" font-size="4.7" text-anchor="middle" font-weight="bold" fill="#111" dominant-baseline="central">20</text>
<line x1="538.22" y1="224.3" x2="538.22" y2="226" stroke="#000" stroke-width="0.7"/>
<text x="538.22" y="231.3" font-size="4.7" text-anchor="middle" font-weight="bold" fill="#111" dominant-baseline="central">40</text>
<line x1="557.68" y1="224.3" x2="557.68" y2="226" stroke="#000" stroke-width="0.7"/>
<text x="557.68" y="231.3" font-size="4.7" text-anchor="middle" font-weight="bold" fill="#111" dominant-baseline="central">60</text>
<line x1="577.14" y1="224.3" x2="577.14" y2="226" stroke="#000" stroke-width="0.7"/>
<text x="577.14" y="231.3" font-size="4.7" text-anchor="middle" font-weight="bold" fill="#111" dominant-baseline="central">80</text>
<line x1="596.6" y1="224.3" x2="596.6" y2="226" stroke="#000" stroke-width="0.7"/>
<text x="596.6" y="231.3" font-size="4.7" text-anchor="middle" font-weight="bold" fill="#111" dominant-baseline="central">100</text>
<text x="548.1" y="239" font-size="5" text-anchor="middle" font-weight="bold" fill="#111" dominant-baseline="central">Time (minutes)</text>
<text x="485.4" y="192.5" font-size="5" text-anchor="middle" font-weight="bold" fill="#111" transform="rotate(-90 485.4 192.5)" dominant-baseline="central">OCR (pmol/min)</text>
<text x="548.2" y="139.7" font-size="6.3" text-anchor="middle" font-weight="bold" fill="#111" dominant-baseline="central">OCR</text>
<line x1="610.4" y1="165" x2="617.6" y2="165" stroke="#111111" stroke-width="0.5"/>
<rect x="612.98" y="163.98" width="2.04" height="2.04" fill="#000000"/>
<text x="621.6" y="165.2" font-size="5.2" fill="#111" dominant-baseline="central">Macrophages (40k)</text>
<line x1="610.4" y1="174" x2="617.6" y2="174" stroke="#f03c82" stroke-width="0.5"/>
<polygon points="614,172.81 612.89,174.85 615.11,174.85" fill="#ee2f78"/>
<text x="621.6" y="174.2" font-size="5.2" fill="#111" dominant-baseline="central">Trained Macrophages</text>
<text x="621.6" y="180.3" font-size="5.2" fill="#111" dominant-baseline="central">(40k)</text>
<line x1="610.4" y1="189.1" x2="617.6" y2="189.1" stroke="#1a9e9e" stroke-width="0.5"/>
<polygon points="614,190.29 612.89,188.25 615.11,188.25" fill="#118f8f"/>
<text x="621.6" y="189.3" font-size="5.2" fill="#111" dominant-baseline="central">Macrophages (80k)</text>
<line x1="610.4" y1="198.1" x2="617.6" y2="198.1" stroke="#6a32b0" stroke-width="0.5"/>
<polygon points="614,197 613.07,198.1 614,199.2 614.93,198.1" fill="#4e1a98"/>
<text x="621.6" y="198.3" font-size="5.2" fill="#111" dominant-baseline="central">Trained Macrophages</text>
<text x="621.6" y="204.4" font-size="5.2" fill="#111" dominant-baseline="central">(80k)</text>
<text x="459.4" y="293" font-size="11" font-weight="bold" dominant-baseline="central">I</text>
<line x1="520.7" y1="274.5" x2="520.7" y2="339.5" stroke="#8a8a8a" stroke-width="0.55" stroke-dasharray="1.8 0.8"/>
<line x1="540.5" y1="274.5" x2="540.5" y2="339.5" stroke="#8a8a8a" stroke-width="0.55" stroke-dasharray="1.8 0.8"/>
<line x1="559.6" y1="274.5" x2="559.6" y2="339.5" stroke="#8a8a8a" stroke-width="0.55" stroke-dasharray="1.8 0.8"/>
<text x="522.5" y="271.2" font-size="5" text-anchor="middle" fill="#222" dominant-baseline="central">Oligo</text>
<text x="542.8" y="271.2" font-size="5" text-anchor="middle" fill="#222" dominant-baseline="central">FCCP</text>
<text x="568.9" y="271.2" font-size="5" text-anchor="middle" fill="#222" dominant-baseline="central">Anti-A+Roto</text>
<line x1="502.2" y1="333.74" x2="502.2" y2="339.5" stroke="#111111" stroke-width="0.45" stroke-opacity="0.8"/>
<line x1="501.1" y1="333.74" x2="503.3" y2="333.74" stroke="#111111" stroke-width="0.45" stroke-opacity="0.8"/>
<line x1="501.1" y1="339.5" x2="503.3" y2="339.5" stroke="#111111" stroke-width="0.45" stroke-opacity="0.8"/>
<line x1="509.12" y1="335.34" x2="509.12" y2="339.5" stroke="#111111" stroke-width="0.45" stroke-opacity="0.8"/>
<line x1="508.02" y1="335.34" x2="510.22" y2="335.34" stroke="#111111" stroke-width="0.45" stroke-opacity="0.8"/>
<line x1="508.02" y1="339.5" x2="510.22" y2="339.5" stroke="#111111" stroke-width="0.45" stroke-opacity="0.8"/>
<line x1="516.04" y1="333.74" x2="516.04" y2="339.5" stroke="#111111" stroke-width="0.45" stroke-opacity="0.8"/>
<line x1="514.94" y1="333.74" x2="517.14" y2="333.74" stroke="#111111" stroke-width="0.45" stroke-opacity="0.8"/>
<line x1="514.94" y1="339.5" x2="517.14" y2="339.5" stroke="#111111" stroke-width="0.45" stroke-opacity="0.8"/>
<line x1="522.96" y1="333.1" x2="522.96" y2="339.5" stroke="#111111" stroke-width="0.45" stroke-opacity="0.8"/>
<line x1="521.86" y1="333.1" x2="524.06" y2="333.1" stroke="#111111" stroke-width="0.45" stroke-opacity="0.8"/>
<line x1="521.86" y1="339.5" x2="524.06" y2="339.5" stroke="#111111" stroke-width="0.45" stroke-opacity="0.8"/>
<line x1="529.88" y1="334.7" x2="529.88" y2="339.5" stroke="#111111" stroke-width="0.45" stroke-opacity="0.8"/>
<line x1="528.78" y1="334.7" x2="530.98" y2="334.7" stroke="#111111" stroke-width="0.45" stroke-opacity="0.8"/>
<line x1="528.78" y1="339.5" x2="530.98" y2="339.5" stroke="#111111" stroke-width="0.45" stroke-opacity="0.8"/>
<line x1="536.8" y1="332.46" x2="536.8" y2="338.86" stroke="#111111" stroke-width="0.45" stroke-opacity="0.8"/>
<line x1="535.7" y1="332.46" x2="537.9" y2="332.46" stroke="#111111" stroke-width="0.45" stroke-opacity="0.8"/>
<line x1="535.7" y1="338.86" x2="537.9" y2="338.86" stroke="#111111" stroke-width="0.45" stroke-opacity="0.8"/>
<line x1="543.72" y1="329.26" x2="543.72" y2="335.66" stroke="#111111" stroke-width="0.45" stroke-opacity="0.8"/>
<line x1="542.62" y1="329.26" x2="544.82" y2="329.26" stroke="#111111" stroke-width="0.45" stroke-opacity="0.8"/>
<line x1="542.62" y1="335.66" x2="544.82" y2="335.66" stroke="#111111" stroke-width="0.45" stroke-opacity="0.8"/>
<line x1="550.64" y1="329.9" x2="550.64" y2="336.3" stroke="#111111" stroke-width="0.45" stroke-opacity="0.8"/>
<line x1="549.54" y1="329.9" x2="551.74" y2="329.9" stroke="#111111" stroke-width="0.45" stroke-opacity="0.8"/>
<line x1="549.54" y1="336.3" x2="551.74" y2="336.3" stroke="#111111" stroke-width="0.45" stroke-opacity="0.8"/>
<line x1="557.56" y1="329.26" x2="557.56" y2="335.66" stroke="#111111" stroke-width="0.45" stroke-opacity="0.8"/>
<line x1="556.46" y1="329.26" x2="558.66" y2="329.26" stroke="#111111" stroke-width="0.45" stroke-opacity="0.8"/>
<line x1="556.46" y1="335.66" x2="558.66" y2="335.66" stroke="#111111" stroke-width="0.45" stroke-opacity="0.8"/>
<line x1="564.48" y1="331.18" x2="564.48" y2="337.58" stroke="#111111" stroke-width="0.45" stroke-opacity="0.8"/>
<line x1="563.38" y1="331.18" x2="565.58" y2="331.18" stroke="#111111" stroke-width="0.45" stroke-opacity="0.8"/>
<line x1="563.38" y1="337.58" x2="565.58" y2="337.58" stroke="#111111" stroke-width="0.45" stroke-opacity="0.8"/>
<line x1="571.4" y1="331.82" x2="571.4" y2="338.22" stroke="#111111" stroke-width="0.45" stroke-opacity="0.8"/>
<line x1="570.3" y1="331.82" x2="572.5" y2="331.82" stroke="#111111" stroke-width="0.45" stroke-opacity="0.8"/>
<line x1="570.3" y1="338.22" x2="572.5" y2="338.22" stroke="#111111" stroke-width="0.45" stroke-opacity="0.8"/>
<line x1="578.32" y1="331.82" x2="578.32" y2="338.22" stroke="#111111" stroke-width="0.45" stroke-opacity="0.8"/>
<line x1="577.22" y1="331.82" x2="579.42" y2="331.82" stroke="#111111" stroke-width="0.45" stroke-opacity="0.8"/>
<line x1="577.22" y1="338.22" x2="579.42" y2="338.22" stroke="#111111" stroke-width="0.45" stroke-opacity="0.8"/>
<path d="M502.2,336.94 C503.31,337.2 506.91,338.54 509.12,338.54 C511.33,338.54 513.83,337.3 516.04,336.94 C518.25,336.58 520.75,336.15 522.96,336.3 C525.17,336.45 527.67,338 529.88,337.9 C532.09,337.8 534.59,336.53 536.8,335.66 C539.01,334.79 541.51,332.87 543.72,332.46 C545.93,332.05 548.43,333.1 550.64,333.1 C552.85,333.1 555.35,332.26 557.56,332.46 C559.77,332.66 562.27,333.97 564.48,334.38 C566.69,334.79 569.19,334.92 571.4,335.02 C573.61,335.12 577.21,335.02 578.32,335.02" fill="none" stroke="#111111" stroke-width="0.6"/>
<rect x="500.94" y="335.68" width="2.52" height="2.52" fill="#000000"/>
<rect x="507.86" y="337.28" width="2.52" height="2.52" fill="#000000"/>
<rect x="514.78" y="335.68" width="2.52" height="2.52" fill="#000000"/>
<rect x="521.7" y="335.04" width="2.52" height="2.52" fill="#000000"/>
<rect x="528.62" y="336.64" width="2.52" height="2.52" fill="#000000"/>
<rect x="535.54" y="334.4" width="2.52" height="2.52" fill="#000000"/>
<rect x="542.46" y="331.2" width="2.52" height="2.52" fill="#000000"/>
<rect x="549.38" y="331.84" width="2.52" height="2.52" fill="#000000"/>
<rect x="556.3" y="331.2" width="2.52" height="2.52" fill="#000000"/>
<rect x="563.22" y="333.12" width="2.52" height="2.52" fill="#000000"/>
<rect x="570.14" y="333.76" width="2.52" height="2.52" fill="#000000"/>
<rect x="577.06" y="333.76" width="2.52" height="2.52" fill="#000000"/>
<line x1="502.2" y1="325.42" x2="502.2" y2="335.66" stroke="#f03c82" stroke-width="0.45" stroke-opacity="0.8"/>
<line x1="501.1" y1="325.42" x2="503.3" y2="325.42" stroke="#f03c82" stroke-width="0.45" stroke-opacity="0.8"/>
<line x1="501.1" y1="335.66" x2="503.3" y2="335.66" stroke="#f03c82" stroke-width="0.45" stroke-opacity="0.8"/>
<line x1="509.12" y1="328.94" x2="509.12" y2="339.18" stroke="#f03c82" stroke-width="0.45" stroke-opacity="0.8"/>
<line x1="508.02" y1="328.94" x2="510.22" y2="328.94" stroke="#f03c82" stroke-width="0.45" stroke-opacity="0.8"/>
<line x1="508.02" y1="339.18" x2="510.22" y2="339.18" stroke="#f03c82" stroke-width="0.45" stroke-opacity="0.8"/>
<line x1="516.04" y1="327.02" x2="516.04" y2="337.26" stroke="#f03c82" stroke-width="0.45" stroke-opacity="0.8"/>
<line x1="514.94" y1="327.02" x2="517.14" y2="327.02" stroke="#f03c82" stroke-width="0.45" stroke-opacity="0.8"/>
<line x1="514.94" y1="337.26" x2="517.14" y2="337.26" stroke="#f03c82" stroke-width="0.45" stroke-opacity="0.8"/>
<line x1="522.96" y1="327.98" x2="522.96" y2="338.22" stroke="#f03c82" stroke-width="0.45" stroke-opacity="0.8"/>
<line x1="521.86" y1="327.98" x2="524.06" y2="327.98" stroke="#f03c82" stroke-width="0.45" stroke-opacity="0.8"/>
<line x1="521.86" y1="338.22" x2="524.06" y2="338.22" stroke="#f03c82" stroke-width="0.45" stroke-opacity="0.8"/>
<line x1="529.88" y1="327.34" x2="529.88" y2="337.58" stroke="#f03c82" stroke-width="0.45" stroke-opacity="0.8"/>
<line x1="528.78" y1="327.34" x2="530.98" y2="327.34" stroke="#f03c82" stroke-width="0.45" stroke-opacity="0.8"/>
<line x1="528.78" y1="337.58" x2="530.98" y2="337.58" stroke="#f03c82" stroke-width="0.45" stroke-opacity="0.8"/>
<line x1="536.8" y1="324.78" x2="536.8" y2="335.02" stroke="#f03c82" stroke-width="0.45" stroke-opacity="0.8"/>
<line x1="535.7" y1="324.78" x2="537.9" y2="324.78" stroke="#f03c82" stroke-width="0.45" stroke-opacity="0.8"/>
<line x1="535.7" y1="335.02" x2="537.9" y2="335.02" stroke="#f03c82" stroke-width="0.45" stroke-opacity="0.8"/>
<line x1="543.72" y1="320.94" x2="543.72" y2="331.18" stroke="#f03c82" stroke-width="0.45" stroke-opacity="0.8"/>
<line x1="542.62" y1="320.94" x2="544.82" y2="320.94" stroke="#f03c82" stroke-width="0.45" stroke-opacity="0.8"/>
<line x1="542.62" y1="331.18" x2="544.82" y2="331.18" stroke="#f03c82" stroke-width="0.45" stroke-opacity="0.8"/>
<line x1="550.64" y1="319.66" x2="550.64" y2="329.9" stroke="#f03c82" stroke-width="0.45" stroke-opacity="0.8"/>
<line x1="549.54" y1="319.66" x2="551.74" y2="319.66" stroke="#f03c82" stroke-width="0.45" stroke-opacity="0.8"/>
<line x1="549.54" y1="329.9" x2="551.74" y2="329.9" stroke="#f03c82" stroke-width="0.45" stroke-opacity="0.8"/>
<line x1="557.56" y1="318.7" x2="557.56" y2="328.94" stroke="#f03c82" stroke-width="0.45" stroke-opacity="0.8"/>
<line x1="556.46" y1="318.7" x2="558.66" y2="318.7" stroke="#f03c82" stroke-width="0.45" stroke-opacity="0.8"/>
<line x1="556.46" y1="328.94" x2="558.66" y2="328.94" stroke="#f03c82" stroke-width="0.45" stroke-opacity="0.8"/>
<line x1="564.48" y1="321.58" x2="564.48" y2="331.82" stroke="#f03c82" stroke-width="0.45" stroke-opacity="0.8"/>
<line x1="563.38" y1="321.58" x2="565.58" y2="321.58" stroke="#f03c82" stroke-width="0.45" stroke-opacity="0.8"/>
<line x1="563.38" y1="331.82" x2="565.58" y2="331.82" stroke="#f03c82" stroke-width="0.45" stroke-opacity="0.8"/>
<line x1="571.4" y1="320.94" x2="571.4" y2="331.18" stroke="#f03c82" stroke-width="0.45" stroke-opacity="0.8"/>
<line x1="570.3" y1="320.94" x2="572.5" y2="320.94" stroke="#f03c82" stroke-width="0.45" stroke-opacity="0.8"/>
<line x1="570.3" y1="331.18" x2="572.5" y2="331.18" stroke="#f03c82" stroke-width="0.45" stroke-opacity="0.8"/>
<line x1="578.32" y1="320.62" x2="578.32" y2="330.86" stroke="#f03c82" stroke-width="0.45" stroke-opacity="0.8"/>
<line x1="577.22" y1="320.62" x2="579.42" y2="320.62" stroke="#f03c82" stroke-width="0.45" stroke-opacity="0.8"/>
<line x1="577.22" y1="330.86" x2="579.42" y2="330.86" stroke="#f03c82" stroke-width="0.45" stroke-opacity="0.8"/>
<path d="M502.2,330.54 C503.31,331.1 506.91,333.8 509.12,334.06 C511.33,334.32 513.83,332.29 516.04,332.14 C518.25,331.99 520.75,333.05 522.96,333.1 C525.17,333.15 527.67,332.97 529.88,332.46 C532.09,331.95 534.59,330.92 536.8,329.9 C539.01,328.88 541.51,326.88 543.72,326.06 C545.93,325.24 548.43,325.14 550.64,324.78 C552.85,324.42 555.35,323.51 557.56,323.82 C559.77,324.13 562.27,326.34 564.48,326.7 C566.69,327.06 569.19,326.21 571.4,326.06 C573.61,325.91 577.21,325.79 578.32,325.74" fill="none" stroke="#f03c82" stroke-width="0.6"/>
<polygon points="502.2,329.07 500.83,331.59 503.56,331.59" fill="#ee2f78"/>
<polygon points="509.12,332.59 507.75,335.11 510.49,335.11" fill="#ee2f78"/>
<polygon points="516.04,330.67 514.67,333.19 517.4,333.19" fill="#ee2f78"/>
<polygon points="522.96,331.63 521.6,334.15 524.33,334.15" fill="#ee2f78"/>
<polygon points="529.88,330.99 528.51,333.51 531.25,333.51" fill="#ee2f78"/>
<polygon points="536.8,328.43 535.43,330.95 538.16,330.95" fill="#ee2f78"/>
<polygon points="543.72,324.59 542.36,327.11 545.09,327.11" fill="#ee2f78"/>
<polygon points="550.64,323.31 549.27,325.83 552,325.83" fill="#ee2f78"/>
<polygon points="557.56,322.35 556.19,324.87 558.92,324.87" fill="#ee2f78"/>
<polygon points="564.48,325.23 563.12,327.75 565.85,327.75" fill="#ee2f78"/>
<polygon points="571.4,324.59 570.03,327.11 572.76,327.11" fill="#ee2f78"/>
<polygon points="578.32,324.27 576.95,326.79 579.68,326.79" fill="#ee2f78"/>
<line x1="502.2" y1="319.34" x2="502.2" y2="332.14" stroke="#1a9e9e" stroke-width="0.45" stroke-opacity="0.8"/>
<line x1="501.1" y1="319.34" x2="503.3" y2="319.34" stroke="#1a9e9e" stroke-width="0.45" stroke-opacity="0.8"/>
<line x1="501.1" y1="332.14" x2="503.3" y2="332.14" stroke="#1a9e9e" stroke-width="0.45" stroke-opacity="0.8"/>
<line x1="509.12" y1="323.18" x2="509.12" y2="334.7" stroke="#1a9e9e" stroke-width="0.45" stroke-opacity="0.8"/>
<line x1="508.02" y1="323.18" x2="510.22" y2="323.18" stroke="#1a9e9e" stroke-width="0.45" stroke-opacity="0.8"/>
<line x1="508.02" y1="334.7" x2="510.22" y2="334.7" stroke="#1a9e9e" stroke-width="0.45" stroke-opacity="0.8"/>
<line x1="516.04" y1="320.94" x2="516.04" y2="333.74" stroke="#1a9e9e" stroke-width="0.45" stroke-opacity="0.8"/>
<line x1="514.94" y1="320.94" x2="517.14" y2="320.94" stroke="#1a9e9e" stroke-width="0.45" stroke-opacity="0.8"/>
<line x1="514.94" y1="333.74" x2="517.14" y2="333.74" stroke="#1a9e9e" stroke-width="0.45" stroke-opacity="0.8"/>
<line x1="522.96" y1="324.14" x2="522.96" y2="335.66" stroke="#1a9e9e" stroke-width="0.45" stroke-opacity="0.8"/>
<line x1="521.86" y1="324.14" x2="524.06" y2="324.14" stroke="#1a9e9e" stroke-width="0.45" stroke-opacity="0.8"/>
<line x1="521.86" y1="335.66" x2="524.06" y2="335.66" stroke="#1a9e9e" stroke-width="0.45" stroke-opacity="0.8"/>
<line x1="529.88" y1="322.86" x2="529.88" y2="335.66" stroke="#1a9e9e" stroke-width="0.45" stroke-opacity="0.8"/>
<line x1="528.78" y1="322.86" x2="530.98" y2="322.86" stroke="#1a9e9e" stroke-width="0.45" stroke-opacity="0.8"/>
<line x1="528.78" y1="335.66" x2="530.98" y2="335.66" stroke="#1a9e9e" stroke-width="0.45" stroke-opacity="0.8"/>
<line x1="536.8" y1="318.7" x2="536.8" y2="331.5" stroke="#1a9e9e" stroke-width="0.45" stroke-opacity="0.8"/>
<line x1="535.7" y1="318.7" x2="537.9" y2="318.7" stroke="#1a9e9e" stroke-width="0.45" stroke-opacity="0.8"/>
<line x1="535.7" y1="331.5" x2="537.9" y2="331.5" stroke="#1a9e9e" stroke-width="0.45" stroke-opacity="0.8"/>
<line x1="543.72" y1="312.94" x2="543.72" y2="328.94" stroke="#1a9e9e" stroke-width="0.45" stroke-opacity="0.8"/>
<line x1="542.62" y1="312.94" x2="544.82" y2="312.94" stroke="#1a9e9e" stroke-width="0.45" stroke-opacity="0.8"/>
<line x1="542.62" y1="328.94" x2="544.82" y2="328.94" stroke="#1a9e9e" stroke-width="0.45" stroke-opacity="0.8"/>
<line x1="550.64" y1="310.06" x2="550.64" y2="326.06" stroke="#1a9e9e" stroke-width="0.45" stroke-opacity="0.8"/>
<line x1="549.54" y1="310.06" x2="551.74" y2="310.06" stroke="#1a9e9e" stroke-width="0.45" stroke-opacity="0.8"/>
<line x1="549.54" y1="326.06" x2="551.74" y2="326.06" stroke="#1a9e9e" stroke-width="0.45" stroke-opacity="0.8"/>
<line x1="557.56" y1="309.1" x2="557.56" y2="325.1" stroke="#1a9e9e" stroke-width="0.45" stroke-opacity="0.8"/>
<line x1="556.46" y1="309.1" x2="558.66" y2="309.1" stroke="#1a9e9e" stroke-width="0.45" stroke-opacity="0.8"/>
<line x1="556.46" y1="325.1" x2="558.66" y2="325.1" stroke="#1a9e9e" stroke-width="0.45" stroke-opacity="0.8"/>
<line x1="564.48" y1="314.54" x2="564.48" y2="327.34" stroke="#1a9e9e" stroke-width="0.45" stroke-opacity="0.8"/>
<line x1="563.38" y1="314.54" x2="565.58" y2="314.54" stroke="#1a9e9e" stroke-width="0.45" stroke-opacity="0.8"/>
<line x1="563.38" y1="327.34" x2="565.58" y2="327.34" stroke="#1a9e9e" stroke-width="0.45" stroke-opacity="0.8"/>
<line x1="571.4" y1="313.9" x2="571.4" y2="326.7" stroke="#1a9e9e" stroke-width="0.45" stroke-opacity="0.8"/>
<line x1="570.3" y1="313.9" x2="572.5" y2="313.9" stroke="#1a9e9e" stroke-width="0.45" stroke-opacity="0.8"/>
<line x1="570.3" y1="326.7" x2="572.5" y2="326.7" stroke="#1a9e9e" stroke-width="0.45" stroke-opacity="0.8"/>
<line x1="578.32" y1="313.58" x2="578.32" y2="326.38" stroke="#1a9e9e" stroke-width="0.45" stroke-opacity="0.8"/>
<line x1="577.22" y1="313.58" x2="579.42" y2="313.58" stroke="#1a9e9e" stroke-width="0.45" stroke-opacity="0.8"/>
<line x1="577.22" y1="326.38" x2="579.42" y2="326.38" stroke="#1a9e9e" stroke-width="0.45" stroke-opacity="0.8"/>
<path d="M502.2,325.74 C503.31,326.25 506.91,328.68 509.12,328.94 C511.33,329.2 513.83,327.19 516.04,327.34 C518.25,327.49 520.75,329.59 522.96,329.9 C525.17,330.21 527.67,330.03 529.88,329.26 C532.09,328.49 534.59,326.43 536.8,325.1 C539.01,323.77 541.51,322.07 543.72,320.94 C545.93,319.81 548.43,318.67 550.64,318.06 C552.85,317.45 555.35,316.64 557.56,317.1 C559.77,317.56 562.27,320.43 564.48,320.94 C566.69,321.45 569.19,320.45 571.4,320.3 C573.61,320.15 577.21,320.03 578.32,319.98" fill="none" stroke="#1a9e9e" stroke-width="0.6"/>
<polygon points="502.2,327.21 500.83,324.69 503.56,324.69" fill="#118f8f"/>
<polygon points="509.12,330.41 507.75,327.89 510.49,327.89" fill="#118f8f"/>
<polygon points="516.04,328.81 514.67,326.29 517.4,326.29" fill="#118f8f"/>
<polygon points="522.96,331.37 521.6,328.85 524.33,328.85" fill="#118f8f"/>
<polygon points="529.88,330.73 528.51,328.21 531.25,328.21" fill="#118f8f"/>
<polygon points="536.8,326.57 535.43,324.05 538.16,324.05" fill="#118f8f"/>
<polygon points="543.72,322.41 542.36,319.89 545.09,319.89" fill="#118f8f"/>
<polygon points="550.64,319.53 549.27,317.01 552,317.01" fill="#118f8f"/>
<polygon points="557.56,318.57 556.19,316.05 558.92,316.05" fill="#118f8f"/>
<polygon points="564.48,322.41 563.12,319.89 565.85,319.89" fill="#118f8f"/>
<polygon points="571.4,321.77 570.03,319.25 572.76,319.25" fill="#118f8f"/>
<polygon points="578.32,321.45 576.95,318.93 579.68,318.93" fill="#118f8f"/>
<line x1="502.2" y1="314.54" x2="502.2" y2="329.26" stroke="#6a32b0" stroke-width="0.45" stroke-opacity="0.8"/>
<line x1="501.1" y1="314.54" x2="503.3" y2="314.54" stroke="#6a32b0" stroke-width="0.45" stroke-opacity="0.8"/>
<line x1="501.1" y1="329.26" x2="503.3" y2="329.26" stroke="#6a32b0" stroke-width="0.45" stroke-opacity="0.8"/>
<line x1="509.12" y1="317.26" x2="509.12" y2="331.34" stroke="#6a32b0" stroke-width="0.45" stroke-opacity="0.8"/>
<line x1="508.02" y1="317.26" x2="510.22" y2="317.26" stroke="#6a32b0" stroke-width="0.45" stroke-opacity="0.8"/>
<line x1="508.02" y1="331.34" x2="510.22" y2="331.34" stroke="#6a32b0" stroke-width="0.45" stroke-opacity="0.8"/>
<line x1="516.04" y1="314.54" x2="516.04" y2="329.9" stroke="#6a32b0" stroke-width="0.45" stroke-opacity="0.8"/>
<line x1="514.94" y1="314.54" x2="517.14" y2="314.54" stroke="#6a32b0" stroke-width="0.45" stroke-opacity="0.8"/>
<line x1="514.94" y1="329.9" x2="517.14" y2="329.9" stroke="#6a32b0" stroke-width="0.45" stroke-opacity="0.8"/>
<line x1="522.96" y1="315.18" x2="522.96" y2="331.82" stroke="#6a32b0" stroke-width="0.45" stroke-opacity="0.8"/>
<line x1="521.86" y1="315.18" x2="524.06" y2="315.18" stroke="#6a32b0" stroke-width="0.45" stroke-opacity="0.8"/>
<line x1="521.86" y1="331.82" x2="524.06" y2="331.82" stroke="#6a32b0" stroke-width="0.45" stroke-opacity="0.8"/>
<line x1="529.88" y1="311.98" x2="529.88" y2="329.9" stroke="#6a32b0" stroke-width="0.45" stroke-opacity="0.8"/>
<line x1="528.78" y1="311.98" x2="530.98" y2="311.98" stroke="#6a32b0" stroke-width="0.45" stroke-opacity="0.8"/>
<line x1="528.78" y1="329.9" x2="530.98" y2="329.9" stroke="#6a32b0" stroke-width="0.45" stroke-opacity="0.8"/>
<line x1="536.8" y1="306.22" x2="536.8" y2="325.42" stroke="#6a32b0" stroke-width="0.45" stroke-opacity="0.8"/>
<line x1="535.7" y1="306.22" x2="537.9" y2="306.22" stroke="#6a32b0" stroke-width="0.45" stroke-opacity="0.8"/>
<line x1="535.7" y1="325.42" x2="537.9" y2="325.42" stroke="#6a32b0" stroke-width="0.45" stroke-opacity="0.8"/>
<line x1="543.72" y1="296.62" x2="543.72" y2="325.42" stroke="#6a32b0" stroke-width="0.45" stroke-opacity="0.8"/>
<line x1="542.62" y1="296.62" x2="544.82" y2="296.62" stroke="#6a32b0" stroke-width="0.45" stroke-opacity="0.8"/>
<line x1="542.62" y1="325.42" x2="544.82" y2="325.42" stroke="#6a32b0" stroke-width="0.45" stroke-opacity="0.8"/>
<line x1="550.64" y1="292.46" x2="550.64" y2="323.18" stroke="#6a32b0" stroke-width="0.45" stroke-opacity="0.8"/>
<line x1="549.54" y1="292.46" x2="551.74" y2="292.46" stroke="#6a32b0" stroke-width="0.45" stroke-opacity="0.8"/>
<line x1="549.54" y1="323.18" x2="551.74" y2="323.18" stroke="#6a32b0" stroke-width="0.45" stroke-opacity="0.8"/>
<line x1="557.56" y1="290.22" x2="557.56" y2="320.94" stroke="#6a32b0" stroke-width="0.45" stroke-opacity="0.8"/>
<line x1="556.46" y1="290.22" x2="558.66" y2="290.22" stroke="#6a32b0" stroke-width="0.45" stroke-opacity="0.8"/>
<line x1="556.46" y1="320.94" x2="558.66" y2="320.94" stroke="#6a32b0" stroke-width="0.45" stroke-opacity="0.8"/>
<line x1="564.48" y1="296.3" x2="564.48" y2="323.82" stroke="#6a32b0" stroke-width="0.45" stroke-opacity="0.8"/>
<line x1="563.38" y1="296.3" x2="565.58" y2="296.3" stroke="#6a32b0" stroke-width="0.45" stroke-opacity="0.8"/>
<line x1="563.38" y1="323.82" x2="565.58" y2="323.82" stroke="#6a32b0" stroke-width="0.45" stroke-opacity="0.8"/>
<line x1="571.4" y1="295.34" x2="571.4" y2="323.5" stroke="#6a32b0" stroke-width="0.45" stroke-opacity="0.8"/>
<line x1="570.3" y1="295.34" x2="572.5" y2="295.34" stroke="#6a32b0" stroke-width="0.45" stroke-opacity="0.8"/>
<line x1="570.3" y1="323.5" x2="572.5" y2="323.5" stroke="#6a32b0" stroke-width="0.45" stroke-opacity="0.8"/>
<line x1="578.32" y1="293.42" x2="578.32" y2="322.86" stroke="#6a32b0" stroke-width="0.45" stroke-opacity="0.8"/>
<line x1="577.22" y1="293.42" x2="579.42" y2="293.42" stroke="#6a32b0" stroke-width="0.45" stroke-opacity="0.8"/>
<line x1="577.22" y1="322.86" x2="579.42" y2="322.86" stroke="#6a32b0" stroke-width="0.45" stroke-opacity="0.8"/>
<path d="M502.2,321.9 C503.31,322.28 506.91,324.25 509.12,324.3 C511.33,324.35 513.83,322.35 516.04,322.22 C518.25,322.09 520.75,323.7 522.96,323.5 C525.17,323.3 527.67,322.17 529.88,320.94 C532.09,319.71 534.59,317.41 536.8,315.82 C539.01,314.23 541.51,312.3 543.72,311.02 C545.93,309.74 548.43,308.69 550.64,307.82 C552.85,306.95 555.35,305.22 557.56,305.58 C559.77,305.94 562.27,309.45 564.48,310.06 C566.69,310.67 569.19,309.73 571.4,309.42 C573.61,309.11 577.21,308.34 578.32,308.14" fill="none" stroke="#6a32b0" stroke-width="0.6"/>
<polygon points="502.2,320.53 501.05,321.9 502.2,323.26 503.35,321.9" fill="#4e1a98"/>
<polygon points="509.12,322.94 507.97,324.3 509.12,325.67 510.27,324.3" fill="#4e1a98"/>
<polygon points="516.04,320.86 514.88,322.22 516.04,323.59 517.19,322.22" fill="#4e1a98"/>
<polygon points="522.96,322.13 521.81,323.5 522.96,324.87 524.12,323.5" fill="#4e1a98"/>
<polygon points="529.88,319.57 528.73,320.94 529.88,322.31 531.03,320.94" fill="#4e1a98"/>
<polygon points="536.8,314.45 535.64,315.82 536.8,317.19 537.95,315.82" fill="#4e1a98"/>
<polygon points="543.72,309.65 542.57,311.02 543.72,312.38 544.88,311.02" fill="#4e1a98"/>
<polygon points="550.64,306.45 549.49,307.82 550.64,309.19 551.79,307.82" fill="#4e1a98"/>
<polygon points="557.56,304.21 556.4,305.58 557.56,306.94 558.71,305.58" fill="#4e1a98"/>
<polygon points="564.48,308.69 563.33,310.06 564.48,311.43 565.63,310.06" fill="#4e1a98"/>
<polygon points="571.4,308.06 570.25,309.42 571.4,310.79 572.55,309.42" fill="#4e1a98"/>
<polygon points="578.32,306.77 577.16,308.14 578.32,309.5 579.47,308.14" fill="#4e1a98"/>
<line x1="501.3" y1="275.1" x2="501.3" y2="339.95" stroke="#000" stroke-width="0.9"/>
<line x1="500.85" y1="339.5" x2="598.7" y2="339.5" stroke="#000" stroke-width="0.9"/>
<line x1="499.6" y1="339.5" x2="501.3" y2="339.5" stroke="#000" stroke-width="0.7"/>
<text x="499" y="339.5" font-size="4.7" text-anchor="end" font-weight="bold" fill="#111" dominant-baseline="central">0</text>
<line x1="499.6" y1="323.5" x2="501.3" y2="323.5" stroke="#000" stroke-width="0.7"/>
<text x="499" y="323.5" font-size="4.7" text-anchor="end" font-weight="bold" fill="#111" dominant-baseline="central">5</text>
<line x1="499.6" y1="307.5" x2="501.3" y2="307.5" stroke="#000" stroke-width="0.7"/>
<text x="499" y="307.5" font-size="4.7" text-anchor="end" font-weight="bold" fill="#111" dominant-baseline="central">10</text>
<line x1="499.6" y1="291.5" x2="501.3" y2="291.5" stroke="#000" stroke-width="0.7"/>
<text x="499" y="291.5" font-size="4.7" text-anchor="end" font-weight="bold" fill="#111" dominant-baseline="central">15</text>
<line x1="499.6" y1="275.5" x2="501.3" y2="275.5" stroke="#000" stroke-width="0.7"/>
<text x="499" y="275.5" font-size="4.7" text-anchor="end" font-weight="bold" fill="#111" dominant-baseline="central">20</text>
<line x1="501.3" y1="339.5" x2="501.3" y2="341.2" stroke="#000" stroke-width="0.7"/>
<text x="501.3" y="346.3" font-size="4.7" text-anchor="middle" font-weight="bold" fill="#111" dominant-baseline="central">0</text>
<line x1="520.7" y1="339.5" x2="520.7" y2="341.2" stroke="#000" stroke-width="0.7"/>
<text x="520.7" y="346.3" font-size="4.7" text-anchor="middle" font-weight="bold" fill="#111" dominant-baseline="central">20</text>
<line x1="540.1" y1="339.5" x2="540.1" y2="341.2" stroke="#000" stroke-width="0.7"/>
<text x="540.1" y="346.3" font-size="4.7" text-anchor="middle" font-weight="bold" fill="#111" dominant-baseline="central">40</text>
<line x1="559.5" y1="339.5" x2="559.5" y2="341.2" stroke="#000" stroke-width="0.7"/>
<text x="559.5" y="346.3" font-size="4.7" text-anchor="middle" font-weight="bold" fill="#111" dominant-baseline="central">60</text>
<line x1="578.9" y1="339.5" x2="578.9" y2="341.2" stroke="#000" stroke-width="0.7"/>
<text x="578.9" y="346.3" font-size="4.7" text-anchor="middle" font-weight="bold" fill="#111" dominant-baseline="central">80</text>
<line x1="598.3" y1="339.5" x2="598.3" y2="341.2" stroke="#000" stroke-width="0.7"/>
<text x="598.3" y="346.3" font-size="4.7" text-anchor="middle" font-weight="bold" fill="#111" dominant-baseline="central">100</text>
<text x="550.4" y="353.6" font-size="5" text-anchor="middle" font-weight="bold" fill="#111" dominant-baseline="central">Time (minutes)</text>
<text x="487.5" y="307.4" font-size="5" text-anchor="middle" font-weight="bold" fill="#111" transform="rotate(-90 487.5 307.4)" dominant-baseline="central">ECAR (mpH/min)</text>
<text x="549.7" y="250.8" font-size="6.3" text-anchor="middle" font-weight="bold" fill="#111" dominant-baseline="central">ECAR</text>
<line x1="606.2" y1="262.2" x2="613.2" y2="262.2" stroke="#111111" stroke-width="0.5"/>
<rect x="608.68" y="261.18" width="2.04" height="2.04" fill="#000000"/>
<text x="617" y="262.4" font-size="5.2" fill="#111" dominant-baseline="central">Macrophages (40k)</text>
<line x1="606.2" y1="271.2" x2="613.2" y2="271.2" stroke="#f03c82" stroke-width="0.5"/>
<polygon points="609.7,270.01 608.6,272.05 610.81,272.05" fill="#ee2f78"/>
<text x="617" y="271.4" font-size="5.2" fill="#111" dominant-baseline="central">Trained Macrophages (40k)</text>
<line x1="606.2" y1="286.2" x2="613.2" y2="286.2" stroke="#1a9e9e" stroke-width="0.5"/>
<polygon points="609.7,287.39 608.6,285.35 610.81,285.35" fill="#118f8f"/>
<text x="617" y="286.4" font-size="5.2" fill="#111" dominant-baseline="central">Macrophages (80k)</text>
<line x1="606.2" y1="295.2" x2="613.2" y2="295.2" stroke="#6a32b0" stroke-width="0.5"/>
<polygon points="609.7,294.09 608.77,295.2 609.7,296.31 610.63,295.2" fill="#4e1a98"/>
<text x="617" y="295.4" font-size="5.2" fill="#111" dominant-baseline="central">Trained Macrophages (80k)</text>
<text x="-0.2" y="361.8" font-size="11" font-weight="bold" dominant-baseline="central">J</text>
<g transform="translate(33.3 378.9) scale(0.86)">
<path d="M23.7,18.9 C30,19.3 38,19.0 42,19.9 C46,20.9 47.8,23 47.6,24.6" fill="none" stroke="#e6a2a2" stroke-width="0.95"/>
<rect x="6.2" y="18.9" width="16.8" height="0.9" fill="#ebb2b2"/>
<ellipse cx="16.8" cy="11" rx="9.6" ry="8.6" fill="#e6e3e1" stroke="#d2ccc8" stroke-width="0.4"/>
<ellipse cx="6.6" cy="7.6" rx="6.3" ry="5.6" fill="#e9e6e4" stroke="#d6d0cc" stroke-width="0.3" transform="rotate(-15 6.6 7.6)"/>
<circle cx="6" cy="1.7" r="1.4" fill="#ece2e0"/>
<ellipse cx="9.7" cy="2.9" rx="1.6" ry="2" fill="#efb6b6" stroke="#e0a8a8" stroke-width="0.2"/>
<circle cx="4" cy="6.6" r="0.55" fill="#c85050"/>
<circle cx="0.5" cy="9.2" r="0.6" fill="#eaa5a5"/>
<ellipse cx="3.6" cy="12.3" rx="1.4" ry="0.95" fill="#eeb0b0"/>
<ellipse cx="8.5" cy="14.5" rx="1.2" ry="1" fill="#dcd6d2"/>
</g>
<line x1="45.5" y1="401.4" x2="45.5" y2="448.3" stroke="#444" stroke-width="0.55"/>
<polygon points="45.5,449.8 44.4,447.4 46.6,447.4" fill="#2a2a2a"/>
<text x="40" y="406.7" font-size="5.93" text-anchor="middle" fill="#333" dominant-baseline="central">0</text>
<line x1="47.5" y1="406.3" x2="61.7" y2="406.3" stroke="#2a2e20" stroke-width="1.1"/>
<text x="64.2" y="406.8" font-size="6.05" fill="#1a1a1a" textLength="53.1" lengthAdjust="spacingAndGlyphs" dominant-baseline="central">Sacrifice and isolate</text>
<text x="91" y="413.7" font-size="6.05" text-anchor="middle" fill="#1a1a1a" textLength="36.4" lengthAdjust="spacingAndGlyphs" dominant-baseline="central">macrophages</text>
<text x="40" y="424.3" font-size="5.93" text-anchor="middle" fill="#333" dominant-baseline="central">0</text>
<line x1="47.5" y1="423.9" x2="61.7" y2="423.9" stroke="#262a5a" stroke-width="1.1"/>
<text x="63.8" y="424" font-size="6.05" fill="#1a1a1a" textLength="27.2" lengthAdjust="spacingAndGlyphs" dominant-baseline="central">Plate Cells</text>
<text x="40" y="439.3" font-size="5.93" text-anchor="middle" fill="#333" dominant-baseline="central">1</text>
<line x1="47.5" y1="438.9" x2="61.7" y2="438.9" stroke="#262a5a" stroke-width="1.1"/>
<text x="62.7" y="439" font-size="6.05" fill="#1a1a1a" textLength="51.4" lengthAdjust="spacingAndGlyphs" dominant-baseline="central">2h WPG stimulation</text>
<text x="140" y="360.4" font-size="11" font-weight="bold" dominant-baseline="central">K</text>
<line x1="192.2" y1="384" x2="192.2" y2="449.6" stroke="#8a8a8a" stroke-width="0.55" stroke-dasharray="1.8 0.8"/>
<line x1="211.5" y1="384" x2="211.5" y2="449.6" stroke="#8a8a8a" stroke-width="0.55" stroke-dasharray="1.8 0.8"/>
<line x1="230.8" y1="384" x2="230.8" y2="449.6" stroke="#8a8a8a" stroke-width="0.55" stroke-dasharray="1.8 0.8"/>
<text x="190.9" y="381.3" font-size="4.6" text-anchor="middle" fill="#222" stroke="#222" stroke-width="0.1" dominant-baseline="central">Oligo</text>
<text x="209.7" y="381.3" font-size="4.6" text-anchor="middle" fill="#222" stroke="#222" stroke-width="0.1" dominant-baseline="central">FCCP</text>
<text x="235.8" y="381.3" font-size="4.6" text-anchor="middle" fill="#222" stroke="#222" stroke-width="0.1" dominant-baseline="central">Anti-A+Roto</text>
<line x1="174.5" y1="416.74" x2="174.5" y2="431.58" stroke="#111111" stroke-width="0.45" stroke-opacity="0.8"/>
<line x1="173.4" y1="416.74" x2="175.6" y2="416.74" stroke="#111111" stroke-width="0.45" stroke-opacity="0.8"/>
<line x1="173.4" y1="431.58" x2="175.6" y2="431.58" stroke="#111111" stroke-width="0.45" stroke-opacity="0.8"/>
<line x1="181.28" y1="420.98" x2="181.28" y2="435.82" stroke="#111111" stroke-width="0.45" stroke-opacity="0.8"/>
<line x1="180.18" y1="420.98" x2="182.38" y2="420.98" stroke="#111111" stroke-width="0.45" stroke-opacity="0.8"/>
<line x1="180.18" y1="435.82" x2="182.38" y2="435.82" stroke="#111111" stroke-width="0.45" stroke-opacity="0.8"/>
<line x1="188.06" y1="425.86" x2="188.06" y2="436.46" stroke="#111111" stroke-width="0.45" stroke-opacity="0.8"/>
<line x1="186.96" y1="425.86" x2="189.16" y2="425.86" stroke="#111111" stroke-width="0.45" stroke-opacity="0.8"/>
<line x1="186.96" y1="436.46" x2="189.16" y2="436.46" stroke="#111111" stroke-width="0.45" stroke-opacity="0.8"/>
<line x1="194.84" y1="427.55" x2="194.84" y2="444.51" stroke="#111111" stroke-width="0.45" stroke-opacity="0.8"/>
<line x1="193.74" y1="427.55" x2="195.94" y2="427.55" stroke="#111111" stroke-width="0.45" stroke-opacity="0.8"/>
<line x1="193.74" y1="444.51" x2="195.94" y2="444.51" stroke="#111111" stroke-width="0.45" stroke-opacity="0.8"/>
<line x1="201.62" y1="439.42" x2="201.62" y2="443.66" stroke="#111111" stroke-width="0.45" stroke-opacity="0.8"/>
<line x1="200.52" y1="439.42" x2="202.72" y2="439.42" stroke="#111111" stroke-width="0.45" stroke-opacity="0.8"/>
<line x1="200.52" y1="443.66" x2="202.72" y2="443.66" stroke="#111111" stroke-width="0.45" stroke-opacity="0.8"/>
<line x1="208.4" y1="439.42" x2="208.4" y2="443.66" stroke="#111111" stroke-width="0.45" stroke-opacity="0.8"/>
<line x1="207.3" y1="439.42" x2="209.5" y2="439.42" stroke="#111111" stroke-width="0.45" stroke-opacity="0.8"/>
<line x1="207.3" y1="443.66" x2="209.5" y2="443.66" stroke="#111111" stroke-width="0.45" stroke-opacity="0.8"/>
<line x1="215.18" y1="436.67" x2="215.18" y2="441.76" stroke="#111111" stroke-width="0.45" stroke-opacity="0.8"/>
<line x1="214.08" y1="436.67" x2="216.28" y2="436.67" stroke="#111111" stroke-width="0.45" stroke-opacity="0.8"/>
<line x1="214.08" y1="441.76" x2="216.28" y2="441.76" stroke="#111111" stroke-width="0.45" stroke-opacity="0.8"/>
<line x1="221.96" y1="436.67" x2="221.96" y2="441.76" stroke="#111111" stroke-width="0.45" stroke-opacity="0.8"/>
<line x1="220.86" y1="436.67" x2="223.06" y2="436.67" stroke="#111111" stroke-width="0.45" stroke-opacity="0.8"/>
<line x1="220.86" y1="441.76" x2="223.06" y2="441.76" stroke="#111111" stroke-width="0.45" stroke-opacity="0.8"/>
<line x1="228.74" y1="436.67" x2="228.74" y2="441.76" stroke="#111111" stroke-width="0.45" stroke-opacity="0.8"/>
<line x1="227.64" y1="436.67" x2="229.84" y2="436.67" stroke="#111111" stroke-width="0.45" stroke-opacity="0.8"/>
<line x1="227.64" y1="441.76" x2="229.84" y2="441.76" stroke="#111111" stroke-width="0.45" stroke-opacity="0.8"/>
<line x1="235.52" y1="441.54" x2="235.52" y2="445.78" stroke="#111111" stroke-width="0.45" stroke-opacity="0.8"/>
<line x1="234.42" y1="441.54" x2="236.62" y2="441.54" stroke="#111111" stroke-width="0.45" stroke-opacity="0.8"/>
<line x1="234.42" y1="445.78" x2="236.62" y2="445.78" stroke="#111111" stroke-width="0.45" stroke-opacity="0.8"/>
<line x1="242.3" y1="442.6" x2="242.3" y2="446" stroke="#111111" stroke-width="0.45" stroke-opacity="0.8"/>
<line x1="241.2" y1="442.6" x2="243.4" y2="442.6" stroke="#111111" stroke-width="0.45" stroke-opacity="0.8"/>
<line x1="241.2" y1="446" x2="243.4" y2="446" stroke="#111111" stroke-width="0.45" stroke-opacity="0.8"/>
<line x1="249.08" y1="443.24" x2="249.08" y2="446.63" stroke="#111111" stroke-width="0.45" stroke-opacity="0.8"/>
<line x1="247.98" y1="443.24" x2="250.18" y2="443.24" stroke="#111111" stroke-width="0.45" stroke-opacity="0.8"/>
<line x1="247.98" y1="446.63" x2="250.18" y2="446.63" stroke="#111111" stroke-width="0.45" stroke-opacity="0.8"/>
<path d="M174.5,424.16 C175.58,424.84 179.11,427.28 181.28,428.4 C183.45,429.52 185.89,429.93 188.06,431.16 C190.23,432.38 192.67,434.37 194.84,436.03 C197.01,437.69 199.45,440.66 201.62,441.54 C203.79,442.43 206.23,441.92 208.4,441.54 C210.57,441.17 213.01,439.59 215.18,439.21 C217.35,438.84 219.79,439.21 221.96,439.21 C224.13,439.21 226.57,438.5 228.74,439.21 C230.91,439.92 233.35,442.85 235.52,443.66 C237.69,444.48 240.13,444.1 242.3,444.3 C244.47,444.5 248,444.83 249.08,444.94" fill="none" stroke="#111111" stroke-width="0.6"/>
<rect x="173.24" y="422.9" width="2.52" height="2.52" fill="#000000"/>
<rect x="180.02" y="427.14" width="2.52" height="2.52" fill="#000000"/>
<rect x="186.8" y="429.9" width="2.52" height="2.52" fill="#000000"/>
<rect x="193.58" y="434.77" width="2.52" height="2.52" fill="#000000"/>
<rect x="200.36" y="440.28" width="2.52" height="2.52" fill="#000000"/>
<rect x="207.14" y="440.28" width="2.52" height="2.52" fill="#000000"/>
<rect x="213.92" y="437.95" width="2.52" height="2.52" fill="#000000"/>
<rect x="220.7" y="437.95" width="2.52" height="2.52" fill="#000000"/>
<rect x="227.48" y="437.95" width="2.52" height="2.52" fill="#000000"/>
<rect x="234.26" y="442.4" width="2.52" height="2.52" fill="#000000"/>
<rect x="241.04" y="443.04" width="2.52" height="2.52" fill="#000000"/>
<rect x="247.82" y="443.68" width="2.52" height="2.52" fill="#000000"/>
<line x1="174.5" y1="411.23" x2="174.5" y2="432.43" stroke="#f03c82" stroke-width="0.45" stroke-opacity="0.8"/>
<line x1="173.4" y1="411.23" x2="175.6" y2="411.23" stroke="#f03c82" stroke-width="0.45" stroke-opacity="0.8"/>
<line x1="173.4" y1="432.43" x2="175.6" y2="432.43" stroke="#f03c82" stroke-width="0.45" stroke-opacity="0.8"/>
<line x1="181.28" y1="408.47" x2="181.28" y2="431.79" stroke="#f03c82" stroke-width="0.45" stroke-opacity="0.8"/>
<line x1="180.18" y1="408.47" x2="182.38" y2="408.47" stroke="#f03c82" stroke-width="0.45" stroke-opacity="0.8"/>
<line x1="180.18" y1="431.79" x2="182.38" y2="431.79" stroke="#f03c82" stroke-width="0.45" stroke-opacity="0.8"/>
<line x1="188.06" y1="419.5" x2="188.06" y2="432.22" stroke="#f03c82" stroke-width="0.45" stroke-opacity="0.8"/>
<line x1="186.96" y1="419.5" x2="189.16" y2="419.5" stroke="#f03c82" stroke-width="0.45" stroke-opacity="0.8"/>
<line x1="186.96" y1="432.22" x2="189.16" y2="432.22" stroke="#f03c82" stroke-width="0.45" stroke-opacity="0.8"/>
<line x1="194.84" y1="431.37" x2="194.84" y2="439.85" stroke="#f03c82" stroke-width="0.45" stroke-opacity="0.8"/>
<line x1="193.74" y1="431.37" x2="195.94" y2="431.37" stroke="#f03c82" stroke-width="0.45" stroke-opacity="0.8"/>
<line x1="193.74" y1="439.85" x2="195.94" y2="439.85" stroke="#f03c82" stroke-width="0.45" stroke-opacity="0.8"/>
<line x1="201.62" y1="433.06" x2="201.62" y2="441.54" stroke="#f03c82" stroke-width="0.45" stroke-opacity="0.8"/>
<line x1="200.52" y1="433.06" x2="202.72" y2="433.06" stroke="#f03c82" stroke-width="0.45" stroke-opacity="0.8"/>
<line x1="200.52" y1="441.54" x2="202.72" y2="441.54" stroke="#f03c82" stroke-width="0.45" stroke-opacity="0.8"/>
<line x1="208.4" y1="433.7" x2="208.4" y2="442.18" stroke="#f03c82" stroke-width="0.45" stroke-opacity="0.8"/>
<line x1="207.3" y1="433.7" x2="209.5" y2="433.7" stroke="#f03c82" stroke-width="0.45" stroke-opacity="0.8"/>
<line x1="207.3" y1="442.18" x2="209.5" y2="442.18" stroke="#f03c82" stroke-width="0.45" stroke-opacity="0.8"/>
<line x1="215.18" y1="431.37" x2="215.18" y2="439.85" stroke="#f03c82" stroke-width="0.45" stroke-opacity="0.8"/>
<line x1="214.08" y1="431.37" x2="216.28" y2="431.37" stroke="#f03c82" stroke-width="0.45" stroke-opacity="0.8"/>
<line x1="214.08" y1="439.85" x2="216.28" y2="439.85" stroke="#f03c82" stroke-width="0.45" stroke-opacity="0.8"/>
<line x1="221.96" y1="431.37" x2="221.96" y2="439.85" stroke="#f03c82" stroke-width="0.45" stroke-opacity="0.8"/>
<line x1="220.86" y1="431.37" x2="223.06" y2="431.37" stroke="#f03c82" stroke-width="0.45" stroke-opacity="0.8"/>
<line x1="220.86" y1="439.85" x2="223.06" y2="439.85" stroke="#f03c82" stroke-width="0.45" stroke-opacity="0.8"/>
<line x1="228.74" y1="431.37" x2="228.74" y2="439.85" stroke="#f03c82" stroke-width="0.45" stroke-opacity="0.8"/>
<line x1="227.64" y1="431.37" x2="229.84" y2="431.37" stroke="#f03c82" stroke-width="0.45" stroke-opacity="0.8"/>
<line x1="227.64" y1="439.85" x2="229.84" y2="439.85" stroke="#f03c82" stroke-width="0.45" stroke-opacity="0.8"/>
<line x1="235.52" y1="437.94" x2="235.52" y2="444.3" stroke="#f03c82" stroke-width="0.45" stroke-opacity="0.8"/>
<line x1="234.42" y1="437.94" x2="236.62" y2="437.94" stroke="#f03c82" stroke-width="0.45" stroke-opacity="0.8"/>
<line x1="234.42" y1="444.3" x2="236.62" y2="444.3" stroke="#f03c82" stroke-width="0.45" stroke-opacity="0.8"/>
<line x1="242.3" y1="439.42" x2="242.3" y2="444.51" stroke="#f03c82" stroke-width="0.45" stroke-opacity="0.8"/>
<line x1="241.2" y1="439.42" x2="243.4" y2="439.42" stroke="#f03c82" stroke-width="0.45" stroke-opacity="0.8"/>
<line x1="241.2" y1="444.51" x2="243.4" y2="444.51" stroke="#f03c82" stroke-width="0.45" stroke-opacity="0.8"/>
<line x1="249.08" y1="438.58" x2="249.08" y2="443.66" stroke="#f03c82" stroke-width="0.45" stroke-opacity="0.8"/>
<line x1="247.98" y1="438.58" x2="250.18" y2="438.58" stroke="#f03c82" stroke-width="0.45" stroke-opacity="0.8"/>
<line x1="247.98" y1="443.66" x2="250.18" y2="443.66" stroke="#f03c82" stroke-width="0.45" stroke-opacity="0.8"/>
<path d="M174.5,421.83 C175.58,421.56 179.11,419.49 181.28,420.13 C183.45,420.78 185.89,423.38 188.06,425.86 C190.23,428.33 192.67,433.78 194.84,435.61 C197.01,437.44 199.45,436.93 201.62,437.3 C203.79,437.68 206.23,438.21 208.4,437.94 C210.57,437.67 213.01,435.98 215.18,435.61 C217.35,435.23 219.79,435.61 221.96,435.61 C224.13,435.61 226.57,434.73 228.74,435.61 C230.91,436.49 233.35,440.1 235.52,441.12 C237.69,442.14 240.13,441.97 242.3,441.97 C244.47,441.97 248,441.26 249.08,441.12" fill="none" stroke="#f03c82" stroke-width="0.6"/>
<polygon points="174.5,420.36 173.13,422.88 175.87,422.88" fill="#ee2f78"/>
<polygon points="181.28,418.66 179.91,421.18 182.65,421.18" fill="#ee2f78"/>
<polygon points="188.06,424.39 186.69,426.91 189.43,426.91" fill="#ee2f78"/>
<polygon points="194.84,434.14 193.47,436.66 196.21,436.66" fill="#ee2f78"/>
<polygon points="201.62,435.83 200.25,438.35 202.99,438.35" fill="#ee2f78"/>
<polygon points="208.4,436.47 207.03,438.99 209.77,438.99" fill="#ee2f78"/>
<polygon points="215.18,434.14 213.81,436.66 216.55,436.66" fill="#ee2f78"/>
<polygon points="221.96,434.14 220.59,436.66 223.33,436.66" fill="#ee2f78"/>
<polygon points="228.74,434.14 227.38,436.66 230.11,436.66" fill="#ee2f78"/>
<polygon points="235.52,439.65 234.16,442.17 236.89,442.17" fill="#ee2f78"/>
<polygon points="242.3,440.5 240.94,443.02 243.67,443.02" fill="#ee2f78"/>
<polygon points="249.08,439.65 247.71,442.17 250.44,442.17" fill="#ee2f78"/>
<line x1="174.5" y1="402.54" x2="174.5" y2="415.26" stroke="#6a32b0" stroke-width="0.45" stroke-opacity="0.8"/>
<line x1="173.4" y1="402.54" x2="175.6" y2="402.54" stroke="#6a32b0" stroke-width="0.45" stroke-opacity="0.8"/>
<line x1="173.4" y1="415.26" x2="175.6" y2="415.26" stroke="#6a32b0" stroke-width="0.45" stroke-opacity="0.8"/>
<line x1="181.28" y1="404.23" x2="181.28" y2="419.07" stroke="#6a32b0" stroke-width="0.45" stroke-opacity="0.8"/>
<line x1="180.18" y1="404.23" x2="182.38" y2="404.23" stroke="#6a32b0" stroke-width="0.45" stroke-opacity="0.8"/>
<line x1="180.18" y1="419.07" x2="182.38" y2="419.07" stroke="#6a32b0" stroke-width="0.45" stroke-opacity="0.8"/>
<line x1="188.06" y1="407.84" x2="188.06" y2="420.56" stroke="#6a32b0" stroke-width="0.45" stroke-opacity="0.8"/>
<line x1="186.96" y1="407.84" x2="189.16" y2="407.84" stroke="#6a32b0" stroke-width="0.45" stroke-opacity="0.8"/>
<line x1="186.96" y1="420.56" x2="189.16" y2="420.56" stroke="#6a32b0" stroke-width="0.45" stroke-opacity="0.8"/>
<line x1="194.84" y1="422.89" x2="194.84" y2="431.37" stroke="#6a32b0" stroke-width="0.45" stroke-opacity="0.8"/>
<line x1="193.74" y1="422.89" x2="195.94" y2="422.89" stroke="#6a32b0" stroke-width="0.45" stroke-opacity="0.8"/>
<line x1="193.74" y1="431.37" x2="195.94" y2="431.37" stroke="#6a32b0" stroke-width="0.45" stroke-opacity="0.8"/>
<line x1="201.62" y1="425.64" x2="201.62" y2="434.12" stroke="#6a32b0" stroke-width="0.45" stroke-opacity="0.8"/>
<line x1="200.52" y1="425.64" x2="202.72" y2="425.64" stroke="#6a32b0" stroke-width="0.45" stroke-opacity="0.8"/>
<line x1="200.52" y1="434.12" x2="202.72" y2="434.12" stroke="#6a32b0" stroke-width="0.45" stroke-opacity="0.8"/>
<line x1="208.4" y1="426.92" x2="208.4" y2="435.4" stroke="#6a32b0" stroke-width="0.45" stroke-opacity="0.8"/>
<line x1="207.3" y1="426.92" x2="209.5" y2="426.92" stroke="#6a32b0" stroke-width="0.45" stroke-opacity="0.8"/>
<line x1="207.3" y1="435.4" x2="209.5" y2="435.4" stroke="#6a32b0" stroke-width="0.45" stroke-opacity="0.8"/>
<line x1="215.18" y1="419.07" x2="215.18" y2="429.67" stroke="#6a32b0" stroke-width="0.45" stroke-opacity="0.8"/>
<line x1="214.08" y1="419.07" x2="216.28" y2="419.07" stroke="#6a32b0" stroke-width="0.45" stroke-opacity="0.8"/>
<line x1="214.08" y1="429.67" x2="216.28" y2="429.67" stroke="#6a32b0" stroke-width="0.45" stroke-opacity="0.8"/>
<line x1="221.96" y1="416.32" x2="221.96" y2="429.04" stroke="#6a32b0" stroke-width="0.45" stroke-opacity="0.8"/>
<line x1="220.86" y1="416.32" x2="223.06" y2="416.32" stroke="#6a32b0" stroke-width="0.45" stroke-opacity="0.8"/>
<line x1="220.86" y1="429.04" x2="223.06" y2="429.04" stroke="#6a32b0" stroke-width="0.45" stroke-opacity="0.8"/>
<line x1="228.74" y1="415.26" x2="228.74" y2="430.1" stroke="#6a32b0" stroke-width="0.45" stroke-opacity="0.8"/>
<line x1="227.64" y1="415.26" x2="229.84" y2="415.26" stroke="#6a32b0" stroke-width="0.45" stroke-opacity="0.8"/>
<line x1="227.64" y1="430.1" x2="229.84" y2="430.1" stroke="#6a32b0" stroke-width="0.45" stroke-opacity="0.8"/>
<line x1="235.52" y1="431.16" x2="235.52" y2="437.52" stroke="#6a32b0" stroke-width="0.45" stroke-opacity="0.8"/>
<line x1="234.42" y1="431.16" x2="236.62" y2="431.16" stroke="#6a32b0" stroke-width="0.45" stroke-opacity="0.8"/>
<line x1="234.42" y1="437.52" x2="236.62" y2="437.52" stroke="#6a32b0" stroke-width="0.45" stroke-opacity="0.8"/>
<line x1="242.3" y1="433.28" x2="242.3" y2="439.64" stroke="#6a32b0" stroke-width="0.45" stroke-opacity="0.8"/>
<line x1="241.2" y1="433.28" x2="243.4" y2="433.28" stroke="#6a32b0" stroke-width="0.45" stroke-opacity="0.8"/>
<line x1="241.2" y1="439.64" x2="243.4" y2="439.64" stroke="#6a32b0" stroke-width="0.45" stroke-opacity="0.8"/>
<line x1="249.08" y1="433.91" x2="249.08" y2="439" stroke="#6a32b0" stroke-width="0.45" stroke-opacity="0.8"/>
<line x1="247.98" y1="433.91" x2="250.18" y2="433.91" stroke="#6a32b0" stroke-width="0.45" stroke-opacity="0.8"/>
<line x1="247.98" y1="439" x2="250.18" y2="439" stroke="#6a32b0" stroke-width="0.45" stroke-opacity="0.8"/>
<path d="M174.5,408.9 C175.58,409.34 179.11,410.8 181.28,411.65 C183.45,412.5 185.89,411.72 188.06,414.2 C190.23,416.67 192.67,424.62 194.84,427.13 C197.01,429.64 199.45,429.24 201.62,429.88 C203.79,430.53 206.23,432.04 208.4,431.16 C210.57,430.27 213.01,425.73 215.18,424.37 C217.35,423.02 219.79,422.95 221.96,422.68 C224.13,422.4 226.57,420.81 228.74,422.68 C230.91,424.54 233.35,432.13 235.52,434.34 C237.69,436.54 240.13,436.12 242.3,436.46 C244.47,436.8 248,436.46 249.08,436.46" fill="none" stroke="#6a32b0" stroke-width="0.6"/>
<polygon points="174.5,407.53 173.34,408.9 174.5,410.26 175.66,408.9" fill="#4e1a98"/>
<polygon points="181.28,410.29 180.12,411.65 181.28,413.02 182.44,411.65" fill="#4e1a98"/>
<polygon points="188.06,412.83 186.91,414.2 188.06,415.56 189.22,414.2" fill="#4e1a98"/>
<polygon points="194.84,425.76 193.69,427.13 194.84,428.49 196,427.13" fill="#4e1a98"/>
<polygon points="201.62,428.52 200.47,429.88 201.62,431.25 202.78,429.88" fill="#4e1a98"/>
<polygon points="208.4,429.79 207.25,431.16 208.4,432.52 209.56,431.16" fill="#4e1a98"/>
<polygon points="215.18,423.01 214.03,424.37 215.18,425.74 216.34,424.37" fill="#4e1a98"/>
<polygon points="221.96,421.31 220.81,422.68 221.96,424.04 223.12,422.68" fill="#4e1a98"/>
<polygon points="228.74,421.31 227.59,422.68 228.74,424.04 229.9,422.68" fill="#4e1a98"/>
<polygon points="235.52,432.97 234.37,434.34 235.52,435.7 236.68,434.34" fill="#4e1a98"/>
<polygon points="242.3,435.09 241.15,436.46 242.3,437.82 243.46,436.46" fill="#4e1a98"/>
<polygon points="249.08,435.09 247.92,436.46 249.08,437.82 250.23,436.46" fill="#4e1a98"/>
<line x1="181.28" y1="387.7" x2="181.28" y2="417.38" stroke="#1a9e9e" stroke-width="0.45" stroke-opacity="0.8"/>
<line x1="180.18" y1="387.7" x2="182.38" y2="387.7" stroke="#1a9e9e" stroke-width="0.45" stroke-opacity="0.8"/>
<line x1="180.18" y1="417.38" x2="182.38" y2="417.38" stroke="#1a9e9e" stroke-width="0.45" stroke-opacity="0.8"/>
<line x1="188.06" y1="395.96" x2="188.06" y2="417.16" stroke="#1a9e9e" stroke-width="0.45" stroke-opacity="0.8"/>
<line x1="186.96" y1="395.96" x2="189.16" y2="395.96" stroke="#1a9e9e" stroke-width="0.45" stroke-opacity="0.8"/>
<line x1="186.96" y1="417.16" x2="189.16" y2="417.16" stroke="#1a9e9e" stroke-width="0.45" stroke-opacity="0.8"/>
<line x1="194.84" y1="422.46" x2="194.84" y2="430.94" stroke="#1a9e9e" stroke-width="0.45" stroke-opacity="0.8"/>
<line x1="193.74" y1="422.46" x2="195.94" y2="422.46" stroke="#1a9e9e" stroke-width="0.45" stroke-opacity="0.8"/>
<line x1="193.74" y1="430.94" x2="195.94" y2="430.94" stroke="#1a9e9e" stroke-width="0.45" stroke-opacity="0.8"/>
<line x1="201.62" y1="423.74" x2="201.62" y2="432.22" stroke="#1a9e9e" stroke-width="0.45" stroke-opacity="0.8"/>
<line x1="200.52" y1="423.74" x2="202.72" y2="423.74" stroke="#1a9e9e" stroke-width="0.45" stroke-opacity="0.8"/>
<line x1="200.52" y1="432.22" x2="202.72" y2="432.22" stroke="#1a9e9e" stroke-width="0.45" stroke-opacity="0.8"/>
<line x1="208.4" y1="424.8" x2="208.4" y2="433.28" stroke="#1a9e9e" stroke-width="0.45" stroke-opacity="0.8"/>
<line x1="207.3" y1="424.8" x2="209.5" y2="424.8" stroke="#1a9e9e" stroke-width="0.45" stroke-opacity="0.8"/>
<line x1="207.3" y1="433.28" x2="209.5" y2="433.28" stroke="#1a9e9e" stroke-width="0.45" stroke-opacity="0.8"/>
<line x1="215.18" y1="420.77" x2="215.18" y2="429.25" stroke="#1a9e9e" stroke-width="0.45" stroke-opacity="0.8"/>
<line x1="214.08" y1="420.77" x2="216.28" y2="420.77" stroke="#1a9e9e" stroke-width="0.45" stroke-opacity="0.8"/>
<line x1="214.08" y1="429.25" x2="216.28" y2="429.25" stroke="#1a9e9e" stroke-width="0.45" stroke-opacity="0.8"/>
<line x1="221.96" y1="417.38" x2="221.96" y2="427.98" stroke="#1a9e9e" stroke-width="0.45" stroke-opacity="0.8"/>
<line x1="220.86" y1="417.38" x2="223.06" y2="417.38" stroke="#1a9e9e" stroke-width="0.45" stroke-opacity="0.8"/>
<line x1="220.86" y1="427.98" x2="223.06" y2="427.98" stroke="#1a9e9e" stroke-width="0.45" stroke-opacity="0.8"/>
<line x1="228.74" y1="417.38" x2="228.74" y2="427.98" stroke="#1a9e9e" stroke-width="0.45" stroke-opacity="0.8"/>
<line x1="227.64" y1="417.38" x2="229.84" y2="417.38" stroke="#1a9e9e" stroke-width="0.45" stroke-opacity="0.8"/>
<line x1="227.64" y1="427.98" x2="229.84" y2="427.98" stroke="#1a9e9e" stroke-width="0.45" stroke-opacity="0.8"/>
<line x1="235.52" y1="431.58" x2="235.52" y2="437.94" stroke="#1a9e9e" stroke-width="0.45" stroke-opacity="0.8"/>
<line x1="234.42" y1="431.58" x2="236.62" y2="431.58" stroke="#1a9e9e" stroke-width="0.45" stroke-opacity="0.8"/>
<line x1="234.42" y1="437.94" x2="236.62" y2="437.94" stroke="#1a9e9e" stroke-width="0.45" stroke-opacity="0.8"/>
<line x1="242.3" y1="432.43" x2="242.3" y2="438.79" stroke="#1a9e9e" stroke-width="0.45" stroke-opacity="0.8"/>
<line x1="241.2" y1="432.43" x2="243.4" y2="432.43" stroke="#1a9e9e" stroke-width="0.45" stroke-opacity="0.8"/>
<line x1="241.2" y1="438.79" x2="243.4" y2="438.79" stroke="#1a9e9e" stroke-width="0.45" stroke-opacity="0.8"/>
<line x1="249.08" y1="433.49" x2="249.08" y2="438.58" stroke="#1a9e9e" stroke-width="0.45" stroke-opacity="0.8"/>
<line x1="247.98" y1="433.49" x2="250.18" y2="433.49" stroke="#1a9e9e" stroke-width="0.45" stroke-opacity="0.8"/>
<line x1="247.98" y1="438.58" x2="250.18" y2="438.58" stroke="#1a9e9e" stroke-width="0.45" stroke-opacity="0.8"/>
<path d="M181.28,402.54 C182.36,403.18 185.89,402.7 188.06,406.56 C190.23,410.43 192.67,423.28 194.84,426.7 C197.01,430.13 199.45,427.6 201.62,427.98 C203.79,428.35 206.23,429.51 208.4,429.04 C210.57,428.56 213.01,426.03 215.18,425.01 C217.35,423.99 219.79,423.05 221.96,422.68 C224.13,422.3 226.57,420.74 228.74,422.68 C230.91,424.61 233.35,432.69 235.52,434.76 C237.69,436.83 240.13,435.4 242.3,435.61 C244.47,435.81 248,435.96 249.08,436.03" fill="none" stroke="#1a9e9e" stroke-width="0.6"/>
<polygon points="181.28,404.01 179.91,401.49 182.65,401.49" fill="#118f8f"/>
<polygon points="188.06,408.03 186.69,405.51 189.43,405.51" fill="#118f8f"/>
<polygon points="194.84,428.17 193.47,425.65 196.21,425.65" fill="#118f8f"/>
<polygon points="201.62,429.45 200.25,426.93 202.99,426.93" fill="#118f8f"/>
<polygon points="208.4,430.51 207.03,427.99 209.77,427.99" fill="#118f8f"/>
<polygon points="215.18,426.48 213.81,423.96 216.55,423.96" fill="#118f8f"/>
<polygon points="221.96,424.15 220.59,421.63 223.33,421.63" fill="#118f8f"/>
<polygon points="228.74,424.15 227.38,421.63 230.11,421.63" fill="#118f8f"/>
<polygon points="235.52,436.23 234.16,433.71 236.89,433.71" fill="#118f8f"/>
<polygon points="242.3,437.08 240.94,434.56 243.67,434.56" fill="#118f8f"/>
<polygon points="249.08,437.5 247.71,434.98 250.44,434.98" fill="#118f8f"/>
<line x1="173.1" y1="385.6" x2="173.1" y2="450.05" stroke="#000" stroke-width="0.9"/>
<line x1="172.65" y1="449.6" x2="269.8" y2="449.6" stroke="#000" stroke-width="0.9"/>
<line x1="171.4" y1="449.6" x2="173.1" y2="449.6" stroke="#000" stroke-width="0.7"/>
<text x="170.8" y="449.6" font-size="4.6" text-anchor="end" font-weight="bold" fill="#111" dominant-baseline="central">0</text>
<line x1="171.4" y1="428.4" x2="173.1" y2="428.4" stroke="#000" stroke-width="0.7"/>
<text x="170.8" y="428.4" font-size="4.6" text-anchor="end" font-weight="bold" fill="#111" dominant-baseline="central">10</text>
<line x1="171.4" y1="407.2" x2="173.1" y2="407.2" stroke="#000" stroke-width="0.7"/>
<text x="170.8" y="407.2" font-size="4.6" text-anchor="end" font-weight="bold" fill="#111" dominant-baseline="central">20</text>
<line x1="171.4" y1="386" x2="173.1" y2="386" stroke="#000" stroke-width="0.7"/>
<text x="170.8" y="386" font-size="4.6" text-anchor="end" font-weight="bold" fill="#111" dominant-baseline="central">30</text>
<line x1="173.1" y1="449.6" x2="173.1" y2="451.3" stroke="#000" stroke-width="0.7"/>
<text x="173.1" y="456.6" font-size="4.6" text-anchor="middle" font-weight="bold" fill="#111" dominant-baseline="central">0</text>
<line x1="192.36" y1="449.6" x2="192.36" y2="451.3" stroke="#000" stroke-width="0.7"/>
<text x="192.36" y="456.6" font-size="4.6" text-anchor="middle" font-weight="bold" fill="#111" dominant-baseline="central">20</text>
<line x1="211.62" y1="449.6" x2="211.62" y2="451.3" stroke="#000" stroke-width="0.7"/>
<text x="211.62" y="456.6" font-size="4.6" text-anchor="middle" font-weight="bold" fill="#111" dominant-baseline="central">40</text>
<line x1="230.88" y1="449.6" x2="230.88" y2="451.3" stroke="#000" stroke-width="0.7"/>
<text x="230.88" y="456.6" font-size="4.6" text-anchor="middle" font-weight="bold" fill="#111" dominant-baseline="central">60</text>
<line x1="250.14" y1="449.6" x2="250.14" y2="451.3" stroke="#000" stroke-width="0.7"/>
<text x="250.14" y="456.6" font-size="4.6" text-anchor="middle" font-weight="bold" fill="#111" dominant-baseline="central">80</text>
<line x1="269.4" y1="449.6" x2="269.4" y2="451.3" stroke="#000" stroke-width="0.7"/>
<text x="269.4" y="456.6" font-size="4.6" text-anchor="middle" font-weight="bold" fill="#111" dominant-baseline="central">100</text>
<text x="221.3" y="464" font-size="5.2" text-anchor="middle" font-weight="bold" fill="#111" dominant-baseline="central">Time (minutes)</text>
<text x="158.3" y="417.7" font-size="5.2" text-anchor="middle" font-weight="bold" fill="#111" transform="rotate(-90 158.3 417.7)" dominant-baseline="central">OCR (pmol/min)</text>
<text x="220.7" y="372.1" font-size="6" text-anchor="middle" font-weight="bold" fill="#111" dominant-baseline="central">OCR</text>
<line x1="283.7" y1="390" x2="290.9" y2="390" stroke="#111111" stroke-width="0.5"/>
<rect x="286.28" y="388.98" width="2.04" height="2.04" fill="#000000"/>
<text x="294.8" y="390.2" font-size="5.2" fill="#111" dominant-baseline="central">Macrophages (40k)</text>
<line x1="283.7" y1="398.8" x2="290.9" y2="398.8" stroke="#f03c82" stroke-width="0.5"/>
<polygon points="287.3,397.61 286.19,399.65 288.41,399.65" fill="#ee2f78"/>
<text x="294.8" y="399" font-size="5.2" fill="#111" dominant-baseline="central">Trained Macrophages</text>
<text x="294.8" y="405.4" font-size="5.2" fill="#111" dominant-baseline="central">(40k)</text>
<line x1="283.7" y1="414.4" x2="290.9" y2="414.4" stroke="#1a9e9e" stroke-width="0.5"/>
<polygon points="287.3,415.59 286.19,413.55 288.41,413.55" fill="#118f8f"/>
<text x="294.8" y="414.6" font-size="5.2" fill="#111" dominant-baseline="central">Macrophages (80k)</text>
<line x1="283.7" y1="423" x2="290.9" y2="423" stroke="#6a32b0" stroke-width="0.5"/>
<polygon points="287.3,421.89 286.37,423 287.3,424.11 288.24,423" fill="#4e1a98"/>
<text x="294.8" y="423.2" font-size="5.2" fill="#111" dominant-baseline="central">Trained Macrophages</text>
<text x="294.8" y="429.6" font-size="5.2" fill="#111" dominant-baseline="central">(80k)</text>
<text x="353.6" y="360.2" font-size="11" font-weight="bold" dominant-baseline="central">L</text>
<line x1="402.5" y1="384" x2="402.5" y2="449.6" stroke="#8a8a8a" stroke-width="0.55" stroke-dasharray="1.8 0.8"/>
<line x1="422.1" y1="384" x2="422.1" y2="449.6" stroke="#8a8a8a" stroke-width="0.55" stroke-dasharray="1.8 0.8"/>
<line x1="441.4" y1="384" x2="441.4" y2="449.6" stroke="#8a8a8a" stroke-width="0.55" stroke-dasharray="1.8 0.8"/>
<text x="398.4" y="381.3" font-size="4.6" text-anchor="middle" fill="#222" stroke="#222" stroke-width="0.1" dominant-baseline="central">Oligo</text>
<text x="416.4" y="381.3" font-size="4.6" text-anchor="middle" fill="#222" stroke="#222" stroke-width="0.1" dominant-baseline="central">FCCP</text>
<text x="443.5" y="381.3" font-size="4.6" text-anchor="middle" fill="#222" stroke="#222" stroke-width="0.1" dominant-baseline="central">Anti-A+Roto</text>
<line x1="384.8" y1="434.05" x2="384.8" y2="440.44" stroke="#111111" stroke-width="0.45" stroke-opacity="0.8"/>
<line x1="383.7" y1="434.05" x2="385.9" y2="434.05" stroke="#111111" stroke-width="0.45" stroke-opacity="0.8"/>
<line x1="383.7" y1="440.44" x2="385.9" y2="440.44" stroke="#111111" stroke-width="0.45" stroke-opacity="0.8"/>
<line x1="391.63" y1="428.09" x2="391.63" y2="440.87" stroke="#111111" stroke-width="0.45" stroke-opacity="0.8"/>
<line x1="390.53" y1="428.09" x2="392.73" y2="428.09" stroke="#111111" stroke-width="0.45" stroke-opacity="0.8"/>
<line x1="390.53" y1="440.87" x2="392.73" y2="440.87" stroke="#111111" stroke-width="0.45" stroke-opacity="0.8"/>
<line x1="398.46" y1="429.58" x2="398.46" y2="442.36" stroke="#111111" stroke-width="0.45" stroke-opacity="0.8"/>
<line x1="397.36" y1="429.58" x2="399.56" y2="429.58" stroke="#111111" stroke-width="0.45" stroke-opacity="0.8"/>
<line x1="397.36" y1="442.36" x2="399.56" y2="442.36" stroke="#111111" stroke-width="0.45" stroke-opacity="0.8"/>
<line x1="405.29" y1="428.09" x2="405.29" y2="434.48" stroke="#111111" stroke-width="0.45" stroke-opacity="0.8"/>
<line x1="404.19" y1="428.09" x2="406.39" y2="428.09" stroke="#111111" stroke-width="0.45" stroke-opacity="0.8"/>
<line x1="404.19" y1="434.48" x2="406.39" y2="434.48" stroke="#111111" stroke-width="0.45" stroke-opacity="0.8"/>
<line x1="412.12" y1="432.56" x2="412.12" y2="441.08" stroke="#111111" stroke-width="0.45" stroke-opacity="0.8"/>
<line x1="411.02" y1="432.56" x2="413.22" y2="432.56" stroke="#111111" stroke-width="0.45" stroke-opacity="0.8"/>
<line x1="411.02" y1="441.08" x2="413.22" y2="441.08" stroke="#111111" stroke-width="0.45" stroke-opacity="0.8"/>
<line x1="418.95" y1="433.84" x2="418.95" y2="442.36" stroke="#111111" stroke-width="0.45" stroke-opacity="0.8"/>
<line x1="417.85" y1="433.84" x2="420.05" y2="433.84" stroke="#111111" stroke-width="0.45" stroke-opacity="0.8"/>
<line x1="417.85" y1="442.36" x2="420.05" y2="442.36" stroke="#111111" stroke-width="0.45" stroke-opacity="0.8"/>
<line x1="425.78" y1="429.37" x2="425.78" y2="437.89" stroke="#111111" stroke-width="0.45" stroke-opacity="0.8"/>
<line x1="424.68" y1="429.37" x2="426.88" y2="429.37" stroke="#111111" stroke-width="0.45" stroke-opacity="0.8"/>
<line x1="424.68" y1="437.89" x2="426.88" y2="437.89" stroke="#111111" stroke-width="0.45" stroke-opacity="0.8"/>
<line x1="432.61" y1="432.56" x2="432.61" y2="441.08" stroke="#111111" stroke-width="0.45" stroke-opacity="0.8"/>
<line x1="431.51" y1="432.56" x2="433.71" y2="432.56" stroke="#111111" stroke-width="0.45" stroke-opacity="0.8"/>
<line x1="431.51" y1="441.08" x2="433.71" y2="441.08" stroke="#111111" stroke-width="0.45" stroke-opacity="0.8"/>
<line x1="439.44" y1="433.2" x2="439.44" y2="441.72" stroke="#111111" stroke-width="0.45" stroke-opacity="0.8"/>
<line x1="438.34" y1="433.2" x2="440.54" y2="433.2" stroke="#111111" stroke-width="0.45" stroke-opacity="0.8"/>
<line x1="438.34" y1="441.72" x2="440.54" y2="441.72" stroke="#111111" stroke-width="0.45" stroke-opacity="0.8"/>
<line x1="446.27" y1="431.71" x2="446.27" y2="439.38" stroke="#111111" stroke-width="0.45" stroke-opacity="0.8"/>
<line x1="445.17" y1="431.71" x2="447.37" y2="431.71" stroke="#111111" stroke-width="0.45" stroke-opacity="0.8"/>
<line x1="445.17" y1="439.38" x2="447.37" y2="439.38" stroke="#111111" stroke-width="0.45" stroke-opacity="0.8"/>
<line x1="453.1" y1="435.54" x2="453.1" y2="443.21" stroke="#111111" stroke-width="0.45" stroke-opacity="0.8"/>
<line x1="452" y1="435.54" x2="454.2" y2="435.54" stroke="#111111" stroke-width="0.45" stroke-opacity="0.8"/>
<line x1="452" y1="443.21" x2="454.2" y2="443.21" stroke="#111111" stroke-width="0.45" stroke-opacity="0.8"/>
<line x1="459.93" y1="435.54" x2="459.93" y2="443.21" stroke="#111111" stroke-width="0.45" stroke-opacity="0.8"/>
<line x1="458.83" y1="435.54" x2="461.03" y2="435.54" stroke="#111111" stroke-width="0.45" stroke-opacity="0.8"/>
<line x1="458.83" y1="443.21" x2="461.03" y2="443.21" stroke="#111111" stroke-width="0.45" stroke-opacity="0.8"/>
<path d="M384.8,437.25 C385.89,436.8 389.44,434.68 391.63,434.48 C393.82,434.27 396.27,436.48 398.46,435.97 C400.65,435.46 403.1,431.15 405.29,431.28 C407.48,431.42 409.93,435.73 412.12,436.82 C414.31,437.91 416.76,438.61 418.95,438.1 C421.14,437.59 423.59,433.83 425.78,433.62 C427.97,433.42 430.42,436.21 432.61,436.82 C434.8,437.43 437.25,437.66 439.44,437.46 C441.63,437.25 444.08,435.24 446.27,435.54 C448.46,435.85 450.91,438.76 453.1,439.38 C455.29,439.99 458.84,439.38 459.93,439.38" fill="none" stroke="#111111" stroke-width="0.6"/>
<rect x="383.54" y="435.99" width="2.52" height="2.52" fill="#000000"/>
<rect x="390.37" y="433.22" width="2.52" height="2.52" fill="#000000"/>
<rect x="397.2" y="434.71" width="2.52" height="2.52" fill="#000000"/>
<rect x="404.03" y="430.02" width="2.52" height="2.52" fill="#000000"/>
<rect x="410.86" y="435.56" width="2.52" height="2.52" fill="#000000"/>
<rect x="417.69" y="436.84" width="2.52" height="2.52" fill="#000000"/>
<rect x="424.52" y="432.37" width="2.52" height="2.52" fill="#000000"/>
<rect x="431.35" y="435.56" width="2.52" height="2.52" fill="#000000"/>
<rect x="438.18" y="436.2" width="2.52" height="2.52" fill="#000000"/>
<rect x="445.01" y="434.28" width="2.52" height="2.52" fill="#000000"/>
<rect x="451.84" y="438.12" width="2.52" height="2.52" fill="#000000"/>
<rect x="458.67" y="438.12" width="2.52" height="2.52" fill="#000000"/>
<line x1="384.8" y1="406.79" x2="384.8" y2="432.35" stroke="#f03c82" stroke-width="0.45" stroke-opacity="0.8"/>
<line x1="383.7" y1="406.79" x2="385.9" y2="406.79" stroke="#f03c82" stroke-width="0.45" stroke-opacity="0.8"/>
<line x1="383.7" y1="432.35" x2="385.9" y2="432.35" stroke="#f03c82" stroke-width="0.45" stroke-opacity="0.8"/>
<line x1="391.63" y1="408.49" x2="391.63" y2="429.79" stroke="#f03c82" stroke-width="0.45" stroke-opacity="0.8"/>
<line x1="390.53" y1="408.49" x2="392.73" y2="408.49" stroke="#f03c82" stroke-width="0.45" stroke-opacity="0.8"/>
<line x1="390.53" y1="429.79" x2="392.73" y2="429.79" stroke="#f03c82" stroke-width="0.45" stroke-opacity="0.8"/>
<line x1="398.46" y1="408.49" x2="398.46" y2="429.79" stroke="#f03c82" stroke-width="0.45" stroke-opacity="0.8"/>
<line x1="397.36" y1="408.49" x2="399.56" y2="408.49" stroke="#f03c82" stroke-width="0.45" stroke-opacity="0.8"/>
<line x1="397.36" y1="429.79" x2="399.56" y2="429.79" stroke="#f03c82" stroke-width="0.45" stroke-opacity="0.8"/>
<line x1="405.29" y1="411.05" x2="405.29" y2="430.22" stroke="#f03c82" stroke-width="0.45" stroke-opacity="0.8"/>
<line x1="404.19" y1="411.05" x2="406.39" y2="411.05" stroke="#f03c82" stroke-width="0.45" stroke-opacity="0.8"/>
<line x1="404.19" y1="430.22" x2="406.39" y2="430.22" stroke="#f03c82" stroke-width="0.45" stroke-opacity="0.8"/>
<line x1="412.12" y1="408.49" x2="412.12" y2="429.79" stroke="#f03c82" stroke-width="0.45" stroke-opacity="0.8"/>
<line x1="411.02" y1="408.49" x2="413.22" y2="408.49" stroke="#f03c82" stroke-width="0.45" stroke-opacity="0.8"/>
<line x1="411.02" y1="429.79" x2="413.22" y2="429.79" stroke="#f03c82" stroke-width="0.45" stroke-opacity="0.8"/>
<line x1="418.95" y1="407.85" x2="418.95" y2="429.15" stroke="#f03c82" stroke-width="0.45" stroke-opacity="0.8"/>
<line x1="417.85" y1="407.85" x2="420.05" y2="407.85" stroke="#f03c82" stroke-width="0.45" stroke-opacity="0.8"/>
<line x1="417.85" y1="429.15" x2="420.05" y2="429.15" stroke="#f03c82" stroke-width="0.45" stroke-opacity="0.8"/>
<line x1="425.78" y1="407.43" x2="425.78" y2="428.73" stroke="#f03c82" stroke-width="0.45" stroke-opacity="0.8"/>
<line x1="424.68" y1="407.43" x2="426.88" y2="407.43" stroke="#f03c82" stroke-width="0.45" stroke-opacity="0.8"/>
<line x1="424.68" y1="428.73" x2="426.88" y2="428.73" stroke="#f03c82" stroke-width="0.45" stroke-opacity="0.8"/>
<line x1="432.61" y1="406.79" x2="432.61" y2="428.09" stroke="#f03c82" stroke-width="0.45" stroke-opacity="0.8"/>
<line x1="431.51" y1="406.79" x2="433.71" y2="406.79" stroke="#f03c82" stroke-width="0.45" stroke-opacity="0.8"/>
<line x1="431.51" y1="428.09" x2="433.71" y2="428.09" stroke="#f03c82" stroke-width="0.45" stroke-opacity="0.8"/>
<line x1="439.44" y1="407.43" x2="439.44" y2="428.73" stroke="#f03c82" stroke-width="0.45" stroke-opacity="0.8"/>
<line x1="438.34" y1="407.43" x2="440.54" y2="407.43" stroke="#f03c82" stroke-width="0.45" stroke-opacity="0.8"/>
<line x1="438.34" y1="428.73" x2="440.54" y2="428.73" stroke="#f03c82" stroke-width="0.45" stroke-opacity="0.8"/>
<line x1="446.27" y1="411.69" x2="446.27" y2="432.99" stroke="#f03c82" stroke-width="0.45" stroke-opacity="0.8"/>
<line x1="445.17" y1="411.69" x2="447.37" y2="411.69" stroke="#f03c82" stroke-width="0.45" stroke-opacity="0.8"/>
<line x1="445.17" y1="432.99" x2="447.37" y2="432.99" stroke="#f03c82" stroke-width="0.45" stroke-opacity="0.8"/>
<line x1="453.1" y1="414.24" x2="453.1" y2="435.54" stroke="#f03c82" stroke-width="0.45" stroke-opacity="0.8"/>
<line x1="452" y1="414.24" x2="454.2" y2="414.24" stroke="#f03c82" stroke-width="0.45" stroke-opacity="0.8"/>
<line x1="452" y1="435.54" x2="454.2" y2="435.54" stroke="#f03c82" stroke-width="0.45" stroke-opacity="0.8"/>
<line x1="459.93" y1="415.31" x2="459.93" y2="436.61" stroke="#f03c82" stroke-width="0.45" stroke-opacity="0.8"/>
<line x1="458.83" y1="415.31" x2="461.03" y2="415.31" stroke="#f03c82" stroke-width="0.45" stroke-opacity="0.8"/>
<line x1="458.83" y1="436.61" x2="461.03" y2="436.61" stroke="#f03c82" stroke-width="0.45" stroke-opacity="0.8"/>
<path d="M384.8,419.57 C385.89,419.5 389.44,419.21 391.63,419.14 C393.82,419.07 396.27,418.9 398.46,419.14 C400.65,419.38 403.1,420.63 405.29,420.63 C407.48,420.63 409.93,419.48 412.12,419.14 C414.31,418.8 416.76,418.67 418.95,418.5 C421.14,418.33 423.59,418.25 425.78,418.08 C427.97,417.91 430.42,417.44 432.61,417.44 C434.8,417.44 437.25,417.29 439.44,418.08 C441.63,418.86 444.08,421.25 446.27,422.34 C448.46,423.43 450.91,424.31 453.1,424.89 C455.29,425.47 458.84,425.79 459.93,425.96" fill="none" stroke="#f03c82" stroke-width="0.6"/>
<polygon points="384.8,418.1 383.44,420.62 386.17,420.62" fill="#ee2f78"/>
<polygon points="391.63,417.67 390.26,420.19 393,420.19" fill="#ee2f78"/>
<polygon points="398.46,417.67 397.1,420.19 399.83,420.19" fill="#ee2f78"/>
<polygon points="405.29,419.16 403.93,421.68 406.66,421.68" fill="#ee2f78"/>
<polygon points="412.12,417.67 410.75,420.19 413.49,420.19" fill="#ee2f78"/>
<polygon points="418.95,417.03 417.58,419.55 420.31,419.55" fill="#ee2f78"/>
<polygon points="425.78,416.61 424.42,419.13 427.15,419.13" fill="#ee2f78"/>
<polygon points="432.61,415.97 431.25,418.49 433.98,418.49" fill="#ee2f78"/>
<polygon points="439.44,416.61 438.07,419.13 440.81,419.13" fill="#ee2f78"/>
<polygon points="446.27,420.87 444.9,423.39 447.63,423.39" fill="#ee2f78"/>
<polygon points="453.1,423.42 451.74,425.94 454.47,425.94" fill="#ee2f78"/>
<polygon points="459.93,424.49 458.56,427.01 461.3,427.01" fill="#ee2f78"/>
<line x1="384.8" y1="406.36" x2="384.8" y2="425.53" stroke="#1a9e9e" stroke-width="0.45" stroke-opacity="0.8"/>
<line x1="383.7" y1="406.36" x2="385.9" y2="406.36" stroke="#1a9e9e" stroke-width="0.45" stroke-opacity="0.8"/>
<line x1="383.7" y1="425.53" x2="385.9" y2="425.53" stroke="#1a9e9e" stroke-width="0.45" stroke-opacity="0.8"/>
<line x1="391.63" y1="412.54" x2="391.63" y2="429.58" stroke="#1a9e9e" stroke-width="0.45" stroke-opacity="0.8"/>
<line x1="390.53" y1="412.54" x2="392.73" y2="412.54" stroke="#1a9e9e" stroke-width="0.45" stroke-opacity="0.8"/>
<line x1="390.53" y1="429.58" x2="392.73" y2="429.58" stroke="#1a9e9e" stroke-width="0.45" stroke-opacity="0.8"/>
<line x1="398.46" y1="412.54" x2="398.46" y2="429.58" stroke="#1a9e9e" stroke-width="0.45" stroke-opacity="0.8"/>
<line x1="397.36" y1="412.54" x2="399.56" y2="412.54" stroke="#1a9e9e" stroke-width="0.45" stroke-opacity="0.8"/>
<line x1="397.36" y1="429.58" x2="399.56" y2="429.58" stroke="#1a9e9e" stroke-width="0.45" stroke-opacity="0.8"/>
<line x1="405.29" y1="414.24" x2="405.29" y2="427.02" stroke="#1a9e9e" stroke-width="0.45" stroke-opacity="0.8"/>
<line x1="404.19" y1="414.24" x2="406.39" y2="414.24" stroke="#1a9e9e" stroke-width="0.45" stroke-opacity="0.8"/>
<line x1="404.19" y1="427.02" x2="406.39" y2="427.02" stroke="#1a9e9e" stroke-width="0.45" stroke-opacity="0.8"/>
<line x1="412.12" y1="412.11" x2="412.12" y2="424.89" stroke="#1a9e9e" stroke-width="0.45" stroke-opacity="0.8"/>
<line x1="411.02" y1="412.11" x2="413.22" y2="412.11" stroke="#1a9e9e" stroke-width="0.45" stroke-opacity="0.8"/>
<line x1="411.02" y1="424.89" x2="413.22" y2="424.89" stroke="#1a9e9e" stroke-width="0.45" stroke-opacity="0.8"/>
<line x1="418.95" y1="410.83" x2="418.95" y2="423.61" stroke="#1a9e9e" stroke-width="0.45" stroke-opacity="0.8"/>
<line x1="417.85" y1="410.83" x2="420.05" y2="410.83" stroke="#1a9e9e" stroke-width="0.45" stroke-opacity="0.8"/>
<line x1="417.85" y1="423.61" x2="420.05" y2="423.61" stroke="#1a9e9e" stroke-width="0.45" stroke-opacity="0.8"/>
<line x1="425.78" y1="409.56" x2="425.78" y2="422.34" stroke="#1a9e9e" stroke-width="0.45" stroke-opacity="0.8"/>
<line x1="424.68" y1="409.56" x2="426.88" y2="409.56" stroke="#1a9e9e" stroke-width="0.45" stroke-opacity="0.8"/>
<line x1="424.68" y1="422.34" x2="426.88" y2="422.34" stroke="#1a9e9e" stroke-width="0.45" stroke-opacity="0.8"/>
<line x1="432.61" y1="407.85" x2="432.61" y2="420.63" stroke="#1a9e9e" stroke-width="0.45" stroke-opacity="0.8"/>
<line x1="431.51" y1="407.85" x2="433.71" y2="407.85" stroke="#1a9e9e" stroke-width="0.45" stroke-opacity="0.8"/>
<line x1="431.51" y1="420.63" x2="433.71" y2="420.63" stroke="#1a9e9e" stroke-width="0.45" stroke-opacity="0.8"/>
<line x1="439.44" y1="407.64" x2="439.44" y2="420.42" stroke="#1a9e9e" stroke-width="0.45" stroke-opacity="0.8"/>
<line x1="438.34" y1="407.64" x2="440.54" y2="407.64" stroke="#1a9e9e" stroke-width="0.45" stroke-opacity="0.8"/>
<line x1="438.34" y1="420.42" x2="440.54" y2="420.42" stroke="#1a9e9e" stroke-width="0.45" stroke-opacity="0.8"/>
<line x1="446.27" y1="409.13" x2="446.27" y2="421.91" stroke="#1a9e9e" stroke-width="0.45" stroke-opacity="0.8"/>
<line x1="445.17" y1="409.13" x2="447.37" y2="409.13" stroke="#1a9e9e" stroke-width="0.45" stroke-opacity="0.8"/>
<line x1="445.17" y1="421.91" x2="447.37" y2="421.91" stroke="#1a9e9e" stroke-width="0.45" stroke-opacity="0.8"/>
<line x1="453.1" y1="409.98" x2="453.1" y2="422.76" stroke="#1a9e9e" stroke-width="0.45" stroke-opacity="0.8"/>
<line x1="452" y1="409.98" x2="454.2" y2="409.98" stroke="#1a9e9e" stroke-width="0.45" stroke-opacity="0.8"/>
<line x1="452" y1="422.76" x2="454.2" y2="422.76" stroke="#1a9e9e" stroke-width="0.45" stroke-opacity="0.8"/>
<line x1="459.93" y1="410.83" x2="459.93" y2="423.61" stroke="#1a9e9e" stroke-width="0.45" stroke-opacity="0.8"/>
<line x1="458.83" y1="410.83" x2="461.03" y2="410.83" stroke="#1a9e9e" stroke-width="0.45" stroke-opacity="0.8"/>
<line x1="458.83" y1="423.61" x2="461.03" y2="423.61" stroke="#1a9e9e" stroke-width="0.45" stroke-opacity="0.8"/>
<path d="M384.8,415.95 C385.89,416.76 389.44,420.24 391.63,421.06 C393.82,421.88 396.27,421.13 398.46,421.06 C400.65,420.99 403.1,421.04 405.29,420.63 C407.48,420.22 409.93,419.05 412.12,418.5 C414.31,417.96 416.76,417.63 418.95,417.22 C421.14,416.82 423.59,416.42 425.78,415.95 C427.97,415.47 430.42,414.55 432.61,414.24 C434.8,413.94 437.25,413.82 439.44,414.03 C441.63,414.23 444.08,415.15 446.27,415.52 C448.46,415.89 450.91,416.1 453.1,416.37 C455.29,416.64 458.84,417.09 459.93,417.22" fill="none" stroke="#1a9e9e" stroke-width="0.6"/>
<polygon points="384.8,417.42 383.44,414.9 386.17,414.9" fill="#118f8f"/>
<polygon points="391.63,422.53 390.26,420.01 393,420.01" fill="#118f8f"/>
<polygon points="398.46,422.53 397.1,420.01 399.83,420.01" fill="#118f8f"/>
<polygon points="405.29,422.1 403.93,419.58 406.66,419.58" fill="#118f8f"/>
<polygon points="412.12,419.97 410.75,417.45 413.49,417.45" fill="#118f8f"/>
<polygon points="418.95,418.69 417.58,416.17 420.31,416.17" fill="#118f8f"/>
<polygon points="425.78,417.42 424.42,414.9 427.15,414.9" fill="#118f8f"/>
<polygon points="432.61,415.71 431.25,413.19 433.98,413.19" fill="#118f8f"/>
<polygon points="439.44,415.5 438.07,412.98 440.81,412.98" fill="#118f8f"/>
<polygon points="446.27,416.99 444.9,414.47 447.63,414.47" fill="#118f8f"/>
<polygon points="453.1,417.84 451.74,415.32 454.47,415.32" fill="#118f8f"/>
<polygon points="459.93,418.69 458.56,416.17 461.3,416.17" fill="#118f8f"/>
<line x1="384.8" y1="408.7" x2="384.8" y2="421.48" stroke="#6a32b0" stroke-width="0.45" stroke-opacity="0.8"/>
<line x1="383.7" y1="408.7" x2="385.9" y2="408.7" stroke="#6a32b0" stroke-width="0.45" stroke-opacity="0.8"/>
<line x1="383.7" y1="421.48" x2="385.9" y2="421.48" stroke="#6a32b0" stroke-width="0.45" stroke-opacity="0.8"/>
<line x1="391.63" y1="408.07" x2="391.63" y2="420.85" stroke="#6a32b0" stroke-width="0.45" stroke-opacity="0.8"/>
<line x1="390.53" y1="408.07" x2="392.73" y2="408.07" stroke="#6a32b0" stroke-width="0.45" stroke-opacity="0.8"/>
<line x1="390.53" y1="420.85" x2="392.73" y2="420.85" stroke="#6a32b0" stroke-width="0.45" stroke-opacity="0.8"/>
<line x1="398.46" y1="408.49" x2="398.46" y2="421.27" stroke="#6a32b0" stroke-width="0.45" stroke-opacity="0.8"/>
<line x1="397.36" y1="408.49" x2="399.56" y2="408.49" stroke="#6a32b0" stroke-width="0.45" stroke-opacity="0.8"/>
<line x1="397.36" y1="421.27" x2="399.56" y2="421.27" stroke="#6a32b0" stroke-width="0.45" stroke-opacity="0.8"/>
<line x1="405.29" y1="412.11" x2="405.29" y2="429.15" stroke="#6a32b0" stroke-width="0.45" stroke-opacity="0.8"/>
<line x1="404.19" y1="412.11" x2="406.39" y2="412.11" stroke="#6a32b0" stroke-width="0.45" stroke-opacity="0.8"/>
<line x1="404.19" y1="429.15" x2="406.39" y2="429.15" stroke="#6a32b0" stroke-width="0.45" stroke-opacity="0.8"/>
<line x1="412.12" y1="408.28" x2="412.12" y2="425.32" stroke="#6a32b0" stroke-width="0.45" stroke-opacity="0.8"/>
<line x1="411.02" y1="408.28" x2="413.22" y2="408.28" stroke="#6a32b0" stroke-width="0.45" stroke-opacity="0.8"/>
<line x1="411.02" y1="425.32" x2="413.22" y2="425.32" stroke="#6a32b0" stroke-width="0.45" stroke-opacity="0.8"/>
<line x1="418.95" y1="404.66" x2="418.95" y2="421.7" stroke="#6a32b0" stroke-width="0.45" stroke-opacity="0.8"/>
<line x1="417.85" y1="404.66" x2="420.05" y2="404.66" stroke="#6a32b0" stroke-width="0.45" stroke-opacity="0.8"/>
<line x1="417.85" y1="421.7" x2="420.05" y2="421.7" stroke="#6a32b0" stroke-width="0.45" stroke-opacity="0.8"/>
<line x1="425.78" y1="404.23" x2="425.78" y2="419.14" stroke="#6a32b0" stroke-width="0.45" stroke-opacity="0.8"/>
<line x1="424.68" y1="404.23" x2="426.88" y2="404.23" stroke="#6a32b0" stroke-width="0.45" stroke-opacity="0.8"/>
<line x1="424.68" y1="419.14" x2="426.88" y2="419.14" stroke="#6a32b0" stroke-width="0.45" stroke-opacity="0.8"/>
<line x1="432.61" y1="401.68" x2="432.61" y2="416.59" stroke="#6a32b0" stroke-width="0.45" stroke-opacity="0.8"/>
<line x1="431.51" y1="401.68" x2="433.71" y2="401.68" stroke="#6a32b0" stroke-width="0.45" stroke-opacity="0.8"/>
<line x1="431.51" y1="416.59" x2="433.71" y2="416.59" stroke="#6a32b0" stroke-width="0.45" stroke-opacity="0.8"/>
<line x1="439.44" y1="400.18" x2="439.44" y2="417.22" stroke="#6a32b0" stroke-width="0.45" stroke-opacity="0.8"/>
<line x1="438.34" y1="400.18" x2="440.54" y2="400.18" stroke="#6a32b0" stroke-width="0.45" stroke-opacity="0.8"/>
<line x1="438.34" y1="417.22" x2="440.54" y2="417.22" stroke="#6a32b0" stroke-width="0.45" stroke-opacity="0.8"/>
<line x1="446.27" y1="401.25" x2="446.27" y2="422.55" stroke="#6a32b0" stroke-width="0.45" stroke-opacity="0.8"/>
<line x1="445.17" y1="401.25" x2="447.37" y2="401.25" stroke="#6a32b0" stroke-width="0.45" stroke-opacity="0.8"/>
<line x1="445.17" y1="422.55" x2="447.37" y2="422.55" stroke="#6a32b0" stroke-width="0.45" stroke-opacity="0.8"/>
<line x1="453.1" y1="402.53" x2="453.1" y2="423.83" stroke="#6a32b0" stroke-width="0.45" stroke-opacity="0.8"/>
<line x1="452" y1="402.53" x2="454.2" y2="402.53" stroke="#6a32b0" stroke-width="0.45" stroke-opacity="0.8"/>
<line x1="452" y1="423.83" x2="454.2" y2="423.83" stroke="#6a32b0" stroke-width="0.45" stroke-opacity="0.8"/>
<line x1="459.93" y1="402.95" x2="459.93" y2="424.25" stroke="#6a32b0" stroke-width="0.45" stroke-opacity="0.8"/>
<line x1="458.83" y1="402.95" x2="461.03" y2="402.95" stroke="#6a32b0" stroke-width="0.45" stroke-opacity="0.8"/>
<line x1="458.83" y1="424.25" x2="461.03" y2="424.25" stroke="#6a32b0" stroke-width="0.45" stroke-opacity="0.8"/>
<path d="M384.8,415.09 C385.89,414.99 389.44,414.49 391.63,414.46 C393.82,414.42 396.27,413.89 398.46,414.88 C400.65,415.87 403.1,420.33 405.29,420.63 C407.48,420.94 409.93,417.99 412.12,416.8 C414.31,415.61 416.76,413.99 418.95,413.18 C421.14,412.36 423.59,412.33 425.78,411.69 C427.97,411.04 430.42,409.61 432.61,409.13 C434.8,408.65 437.25,408.26 439.44,408.7 C441.63,409.15 444.08,411.18 446.27,411.9 C448.46,412.61 450.91,412.9 453.1,413.18 C455.29,413.45 458.84,413.53 459.93,413.6" fill="none" stroke="#6a32b0" stroke-width="0.6"/>
<polygon points="384.8,413.73 383.65,415.09 384.8,416.46 385.95,415.09" fill="#4e1a98"/>
<polygon points="391.63,413.09 390.48,414.46 391.63,415.82 392.78,414.46" fill="#4e1a98"/>
<polygon points="398.46,413.52 397.31,414.88 398.46,416.25 399.62,414.88" fill="#4e1a98"/>
<polygon points="405.29,419.27 404.14,420.63 405.29,422 406.44,420.63" fill="#4e1a98"/>
<polygon points="412.12,415.43 410.97,416.8 412.12,418.16 413.27,416.8" fill="#4e1a98"/>
<polygon points="418.95,411.81 417.8,413.18 418.95,414.54 420.1,413.18" fill="#4e1a98"/>
<polygon points="425.78,410.32 424.63,411.69 425.78,413.05 426.94,411.69" fill="#4e1a98"/>
<polygon points="432.61,407.76 431.46,409.13 432.61,410.5 433.76,409.13" fill="#4e1a98"/>
<polygon points="439.44,407.34 438.29,408.7 439.44,410.07 440.59,408.7" fill="#4e1a98"/>
<polygon points="446.27,410.53 445.12,411.9 446.27,413.26 447.42,411.9" fill="#4e1a98"/>
<polygon points="453.1,411.81 451.95,413.18 453.1,414.54 454.25,413.18" fill="#4e1a98"/>
<polygon points="459.93,412.24 458.78,413.6 459.93,414.97 461.08,413.6" fill="#4e1a98"/>
<line x1="383.8" y1="385.3" x2="383.8" y2="450.05" stroke="#000" stroke-width="0.9"/>
<line x1="383.35" y1="449.6" x2="480.5" y2="449.6" stroke="#000" stroke-width="0.9"/>
<line x1="382.1" y1="449.6" x2="383.8" y2="449.6" stroke="#000" stroke-width="0.7"/>
<text x="381.5" y="449.6" font-size="4.6" text-anchor="end" font-weight="bold" fill="#111" dominant-baseline="central">0</text>
<line x1="382.1" y1="428.3" x2="383.8" y2="428.3" stroke="#000" stroke-width="0.7"/>
<text x="381.5" y="428.3" font-size="4.6" text-anchor="end" font-weight="bold" fill="#111" dominant-baseline="central">10</text>
<line x1="382.1" y1="407" x2="383.8" y2="407" stroke="#000" stroke-width="0.7"/>
<text x="381.5" y="407" font-size="4.6" text-anchor="end" font-weight="bold" fill="#111" dominant-baseline="central">20</text>
<line x1="382.1" y1="385.7" x2="383.8" y2="385.7" stroke="#000" stroke-width="0.7"/>
<text x="381.5" y="385.7" font-size="4.6" text-anchor="end" font-weight="bold" fill="#111" dominant-baseline="central">30</text>
<line x1="383.8" y1="449.6" x2="383.8" y2="451.3" stroke="#000" stroke-width="0.7"/>
<text x="383.8" y="456.6" font-size="4.6" text-anchor="middle" font-weight="bold" fill="#111" dominant-baseline="central">0</text>
<line x1="403.06" y1="449.6" x2="403.06" y2="451.3" stroke="#000" stroke-width="0.7"/>
<text x="403.06" y="456.6" font-size="4.6" text-anchor="middle" font-weight="bold" fill="#111" dominant-baseline="central">20</text>
<line x1="422.32" y1="449.6" x2="422.32" y2="451.3" stroke="#000" stroke-width="0.7"/>
<text x="422.32" y="456.6" font-size="4.6" text-anchor="middle" font-weight="bold" fill="#111" dominant-baseline="central">40</text>
<line x1="441.58" y1="449.6" x2="441.58" y2="451.3" stroke="#000" stroke-width="0.7"/>
<text x="441.58" y="456.6" font-size="4.6" text-anchor="middle" font-weight="bold" fill="#111" dominant-baseline="central">60</text>
<line x1="460.84" y1="449.6" x2="460.84" y2="451.3" stroke="#000" stroke-width="0.7"/>
<text x="460.84" y="456.6" font-size="4.6" text-anchor="middle" font-weight="bold" fill="#111" dominant-baseline="central">80</text>
<line x1="480.1" y1="449.6" x2="480.1" y2="451.3" stroke="#000" stroke-width="0.7"/>
<text x="480.1" y="456.6" font-size="4.6" text-anchor="middle" font-weight="bold" fill="#111" dominant-baseline="central">100</text>
<text x="431.5" y="464" font-size="5.2" text-anchor="middle" font-weight="bold" fill="#111" dominant-baseline="central">Time (minutes)</text>
<text x="369.6" y="417.7" font-size="5.2" text-anchor="middle" font-weight="bold" fill="#111" transform="rotate(-90 369.6 417.7)" dominant-baseline="central">glycoPER (pmol/min)</text>
<text x="431.5" y="365.9" font-size="6" text-anchor="middle" font-weight="bold" fill="#111" dominant-baseline="central">ECAR</text>
<line x1="493.9" y1="390" x2="501.1" y2="390" stroke="#111111" stroke-width="0.5"/>
<rect x="496.48" y="388.98" width="2.04" height="2.04" fill="#000000"/>
<text x="504.8" y="390.2" font-size="5.2" fill="#111" dominant-baseline="central">Macrophages (40k)</text>
<line x1="493.9" y1="398.8" x2="501.1" y2="398.8" stroke="#f03c82" stroke-width="0.5"/>
<polygon points="497.5,397.61 496.39,399.65 498.61,399.65" fill="#ee2f78"/>
<text x="504.8" y="399" font-size="5.2" fill="#111" dominant-baseline="central">Trained Macrophages</text>
<text x="504.8" y="405.4" font-size="5.2" fill="#111" dominant-baseline="central">(40k)</text>
<line x1="493.9" y1="414.4" x2="501.1" y2="414.4" stroke="#1a9e9e" stroke-width="0.5"/>
<polygon points="497.5,415.59 496.39,413.55 498.61,413.55" fill="#118f8f"/>
<text x="504.8" y="414.6" font-size="5.2" fill="#111" dominant-baseline="central">Macrophages (80k)</text>
<line x1="493.9" y1="423" x2="501.1" y2="423" stroke="#6a32b0" stroke-width="0.5"/>
<polygon points="497.5,421.89 496.56,423 497.5,424.11 498.44,423" fill="#4e1a98"/>
<text x="504.8" y="423.2" font-size="5.2" fill="#111" dominant-baseline="central">Trained Macrophages</text>
<text x="504.8" y="429.6" font-size="5.2" fill="#111" dominant-baseline="central">(80k)</text>
</svg>
</body></html>
